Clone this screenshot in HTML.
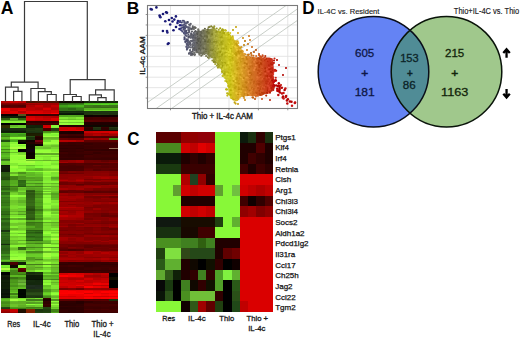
<!DOCTYPE html>
<html><head><meta charset="utf-8"><style>
html,body{margin:0;padding:0;background:#fff;}
body{width:520px;height:338px;overflow:hidden;}
svg{display:block;font-family:"Liberation Sans",sans-serif;}
</style></head><body>
<svg width="520" height="338" viewBox="0 0 520 338">
<rect width="520" height="338" fill="#fff"/>
<g>
<g shape-rendering="crispEdges">
<rect x="1" y="101.20" width="9" height="1.45" fill="#b80000"/>
<rect x="10" y="101.20" width="8" height="1.45" fill="#ca0000"/>
<rect x="18" y="101.20" width="8" height="1.45" fill="#be0000"/>
<rect x="26" y="101.20" width="9" height="1.45" fill="#441100"/>
<rect x="35" y="101.20" width="8" height="1.45" fill="#4c1300"/>
<rect x="43" y="101.20" width="8" height="1.45" fill="#461100"/>
<rect x="51" y="101.20" width="8" height="1.45" fill="#451100"/>
<rect x="1" y="102.60" width="9" height="1.40" fill="#860000"/>
<rect x="10" y="102.60" width="8" height="1.40" fill="#8a0000"/>
<rect x="18" y="102.60" width="8" height="1.40" fill="#7f0000"/>
<rect x="26" y="102.60" width="9" height="1.40" fill="#a90000"/>
<rect x="35" y="102.60" width="8" height="1.40" fill="#a80000"/>
<rect x="43" y="102.60" width="8" height="1.40" fill="#a10000"/>
<rect x="51" y="102.60" width="8" height="1.40" fill="#9f0000"/>
<rect x="1" y="103.95" width="9" height="1.40" fill="#700000"/>
<rect x="10" y="103.95" width="8" height="1.40" fill="#6f0000"/>
<rect x="18" y="103.95" width="8" height="1.40" fill="#710000"/>
<rect x="26" y="103.95" width="9" height="1.40" fill="#920000"/>
<rect x="35" y="103.95" width="8" height="1.40" fill="#9c0000"/>
<rect x="43" y="103.95" width="8" height="1.40" fill="#9f0000"/>
<rect x="51" y="103.95" width="8" height="1.40" fill="#a30000"/>
<rect x="1" y="105.30" width="9" height="1.55" fill="#510000"/>
<rect x="10" y="105.30" width="8" height="1.55" fill="#580000"/>
<rect x="18" y="105.30" width="8" height="1.55" fill="#500000"/>
<rect x="26" y="105.30" width="9" height="1.55" fill="#ad0000"/>
<rect x="35" y="105.30" width="8" height="1.55" fill="#c40000"/>
<rect x="43" y="105.30" width="8" height="1.55" fill="#a60000"/>
<rect x="51" y="105.30" width="8" height="1.55" fill="#c20000"/>
<rect x="1" y="106.80" width="17" height="1.55" fill="#640000"/>
<rect x="18" y="106.80" width="8" height="1.55" fill="#670000"/>
<rect x="26" y="106.80" width="9" height="1.55" fill="#b90000"/>
<rect x="35" y="106.80" width="16" height="1.55" fill="#b60000"/>
<rect x="51" y="106.80" width="8" height="1.55" fill="#b20000"/>
<rect x="1" y="108.30" width="9" height="1.53" fill="#eb0000"/>
<rect x="10" y="108.30" width="8" height="1.53" fill="#ca0000"/>
<rect x="18" y="108.30" width="8" height="1.53" fill="#d30000"/>
<rect x="26" y="108.30" width="9" height="1.53" fill="#bb0000"/>
<rect x="35" y="108.30" width="8" height="1.53" fill="#af0000"/>
<rect x="43" y="108.30" width="8" height="1.53" fill="#d70000"/>
<rect x="51" y="108.30" width="8" height="1.53" fill="#ac0000"/>
<rect x="1" y="109.78" width="9" height="1.53" fill="#ed0000"/>
<rect x="10" y="109.78" width="8" height="1.53" fill="#c50000"/>
<rect x="18" y="109.78" width="8" height="1.53" fill="#e70000"/>
<rect x="26" y="109.78" width="9" height="1.53" fill="#c10000"/>
<rect x="35" y="109.78" width="8" height="1.53" fill="#c60000"/>
<rect x="43" y="109.78" width="8" height="1.53" fill="#c10000"/>
<rect x="51" y="109.78" width="8" height="1.53" fill="#ce0000"/>
<rect x="1" y="111.25" width="9" height="1.53" fill="#d10000"/>
<rect x="10" y="111.25" width="8" height="1.53" fill="#e10000"/>
<rect x="18" y="111.25" width="8" height="1.53" fill="#b50000"/>
<rect x="26" y="111.25" width="9" height="1.53" fill="#de0000"/>
<rect x="35" y="111.25" width="8" height="1.53" fill="#d80000"/>
<rect x="43" y="111.25" width="8" height="1.53" fill="#c90000"/>
<rect x="51" y="111.25" width="8" height="1.53" fill="#d20000"/>
<rect x="1" y="112.72" width="9" height="1.53" fill="#da0000"/>
<rect x="10" y="112.72" width="16" height="1.53" fill="#d60000"/>
<rect x="26" y="112.72" width="17" height="1.53" fill="#e50000"/>
<rect x="43" y="112.72" width="8" height="1.53" fill="#dd0000"/>
<rect x="51" y="112.72" width="8" height="1.53" fill="#ff0000"/>
<rect x="1" y="114.20" width="17" height="1.85" fill="#0d0000"/>
<rect x="18" y="114.20" width="8" height="1.85" fill="#54541c"/>
<rect x="26" y="114.20" width="17" height="1.85" fill="#3b0000"/>
<rect x="43" y="114.20" width="8" height="1.85" fill="#3c0000"/>
<rect x="51" y="114.20" width="8" height="1.85" fill="#3e0000"/>
<rect x="1" y="116.00" width="9" height="1.85" fill="#102108"/>
<rect x="10" y="116.00" width="8" height="1.85" fill="#0f1e07"/>
<rect x="18" y="116.00" width="8" height="1.85" fill="#0e1c07"/>
<rect x="26" y="116.00" width="9" height="1.85" fill="#d00000"/>
<rect x="35" y="116.00" width="8" height="1.85" fill="#c20000"/>
<rect x="43" y="116.00" width="8" height="1.85" fill="#b50000"/>
<rect x="51" y="116.00" width="8" height="1.85" fill="#b00000"/>
<rect x="1" y="117.80" width="9" height="1.75" fill="#2f5a0f"/>
<rect x="10" y="117.80" width="8" height="1.75" fill="#5dae26"/>
<rect x="18" y="117.80" width="8" height="1.75" fill="#305d10"/>
<rect x="26" y="117.80" width="9" height="1.75" fill="#de0000"/>
<rect x="35" y="117.80" width="8" height="1.75" fill="#ce0000"/>
<rect x="43" y="117.80" width="8" height="1.75" fill="#c30000"/>
<rect x="51" y="117.80" width="8" height="1.75" fill="#da0000"/>
<rect x="1" y="119.50" width="9" height="1.85" fill="#5ebc22"/>
<rect x="10" y="119.50" width="16" height="1.85" fill="#58b020"/>
<rect x="26" y="119.50" width="9" height="1.85" fill="#ca0000"/>
<rect x="35" y="119.50" width="8" height="1.85" fill="#bf0000"/>
<rect x="43" y="119.50" width="8" height="1.85" fill="#d20000"/>
<rect x="51" y="119.50" width="8" height="1.85" fill="#d90000"/>
<rect x="1" y="121.30" width="9" height="1.85" fill="#89f634"/>
<rect x="10" y="121.30" width="16" height="1.85" fill="#85ef33"/>
<rect x="26" y="121.30" width="9" height="1.85" fill="#2e0000"/>
<rect x="35" y="121.30" width="8" height="1.85" fill="#2d0000"/>
<rect x="43" y="121.30" width="8" height="1.85" fill="#2e0000"/>
<rect x="51" y="121.30" width="8" height="1.85" fill="#2b0000"/>
<rect x="1" y="123.10" width="25" height="1.20" fill="#000000"/>
<rect x="26" y="123.10" width="9" height="1.20" fill="#430000"/>
<rect x="35" y="123.10" width="8" height="1.20" fill="#3d0000"/>
<rect x="43" y="123.10" width="16" height="1.20" fill="#3e0000"/>
<rect x="1" y="124.25" width="25" height="1.20" fill="#000000"/>
<rect x="26" y="124.25" width="17" height="1.20" fill="#3b0000"/>
<rect x="43" y="124.25" width="8" height="1.20" fill="#370000"/>
<rect x="51" y="124.25" width="8" height="1.20" fill="#390000"/>
<rect x="1" y="125.40" width="9" height="1.55" fill="#2f2f00"/>
<rect x="10" y="125.40" width="8" height="1.55" fill="#62bd25"/>
<rect x="18" y="125.40" width="8" height="1.55" fill="#68c828"/>
<rect x="26" y="125.40" width="9" height="1.55" fill="#122409"/>
<rect x="35" y="125.40" width="8" height="1.55" fill="#112208"/>
<rect x="43" y="125.40" width="8" height="1.55" fill="#cb0000"/>
<rect x="51" y="125.40" width="8" height="1.55" fill="#88f637"/>
<rect x="1" y="126.90" width="9" height="1.55" fill="#303000"/>
<rect x="10" y="126.90" width="8" height="1.55" fill="#6fd72b"/>
<rect x="18" y="126.90" width="8" height="1.55" fill="#6bce29"/>
<rect x="26" y="126.90" width="9" height="1.55" fill="#102008"/>
<rect x="35" y="126.90" width="8" height="1.55" fill="#122409"/>
<rect x="43" y="126.90" width="8" height="1.55" fill="#d50000"/>
<rect x="51" y="126.90" width="8" height="1.55" fill="#83ef35"/>
<rect x="1" y="128.40" width="9" height="1.25" fill="#192e0f"/>
<rect x="10" y="128.40" width="8" height="1.25" fill="#1a3010"/>
<rect x="18" y="128.40" width="8" height="1.25" fill="#1b3210"/>
<rect x="26" y="128.40" width="9" height="1.25" fill="#1f360f"/>
<rect x="35" y="128.40" width="8" height="1.25" fill="#223c11"/>
<rect x="43" y="128.40" width="8" height="1.25" fill="#460000"/>
<rect x="51" y="128.40" width="8" height="1.25" fill="#223d11"/>
<rect x="1" y="129.60" width="9" height="1.25" fill="#14250c"/>
<rect x="10" y="129.60" width="16" height="1.25" fill="#16280d"/>
<rect x="26" y="129.60" width="9" height="1.25" fill="#213a10"/>
<rect x="35" y="129.60" width="8" height="1.25" fill="#203810"/>
<rect x="43" y="129.60" width="8" height="1.25" fill="#400000"/>
<rect x="51" y="129.60" width="8" height="1.25" fill="#223c11"/>
<rect x="1" y="130.80" width="9" height="1.20" fill="#0e1c07"/>
<rect x="10" y="130.80" width="8" height="1.20" fill="#0d1b06"/>
<rect x="18" y="130.80" width="8" height="1.20" fill="#0f1f07"/>
<rect x="26" y="130.80" width="9" height="1.20" fill="#1b3311"/>
<rect x="35" y="130.80" width="8" height="1.20" fill="#1e3812"/>
<rect x="43" y="130.80" width="8" height="1.20" fill="#448916"/>
<rect x="51" y="130.80" width="8" height="1.20" fill="#448816"/>
<rect x="1" y="131.95" width="17" height="1.20" fill="#112308"/>
<rect x="18" y="131.95" width="8" height="1.20" fill="#102008"/>
<rect x="26" y="131.95" width="9" height="1.20" fill="#1b3210"/>
<rect x="35" y="131.95" width="8" height="1.20" fill="#1a3110"/>
<rect x="43" y="131.95" width="8" height="1.20" fill="#4d9a19"/>
<rect x="51" y="131.95" width="8" height="1.20" fill="#51a21b"/>
<rect x="1" y="133.10" width="9" height="1.25" fill="#45ab1b"/>
<rect x="10" y="133.10" width="8" height="1.25" fill="#46ad1b"/>
<rect x="18" y="133.10" width="8" height="1.25" fill="#48b21c"/>
<rect x="26" y="133.10" width="9" height="1.25" fill="#1a1a00"/>
<rect x="35" y="133.10" width="8" height="1.25" fill="#1c1c00"/>
<rect x="43" y="133.10" width="8" height="1.25" fill="#78e030"/>
<rect x="51" y="133.10" width="8" height="1.25" fill="#89ff37"/>
<rect x="1" y="134.30" width="9" height="1.25" fill="#3c9317"/>
<rect x="10" y="134.30" width="8" height="1.25" fill="#43a61a"/>
<rect x="18" y="134.30" width="8" height="1.25" fill="#3f9a18"/>
<rect x="26" y="134.30" width="17" height="1.25" fill="#1e1e00"/>
<rect x="43" y="134.30" width="8" height="1.25" fill="#84f634"/>
<rect x="51" y="134.30" width="8" height="1.25" fill="#81f133"/>
<rect x="1" y="135.50" width="9" height="1.55" fill="#3e7d16"/>
<rect x="10" y="135.50" width="8" height="1.55" fill="#55a022"/>
<rect x="18" y="135.50" width="8" height="1.55" fill="#58a423"/>
<rect x="26" y="135.50" width="9" height="1.55" fill="#285114"/>
<rect x="35" y="135.50" width="8" height="1.55" fill="#320000"/>
<rect x="43" y="135.50" width="8" height="1.55" fill="#9fff3c"/>
<rect x="51" y="135.50" width="8" height="1.55" fill="#9aff3b"/>
<rect x="1" y="137.00" width="9" height="1.55" fill="#5cb821"/>
<rect x="10" y="137.00" width="8" height="1.55" fill="#85f935"/>
<rect x="18" y="137.00" width="8" height="1.55" fill="#8aff37"/>
<rect x="26" y="137.00" width="9" height="1.55" fill="#1a340d"/>
<rect x="35" y="137.00" width="8" height="1.55" fill="#230000"/>
<rect x="43" y="137.00" width="8" height="1.55" fill="#68bb27"/>
<rect x="51" y="137.00" width="8" height="1.55" fill="#67b927"/>
<rect x="1" y="138.50" width="9" height="1.55" fill="#4a951b"/>
<rect x="10" y="138.50" width="8" height="1.55" fill="#63ba27"/>
<rect x="18" y="138.50" width="8" height="1.55" fill="#61b627"/>
<rect x="26" y="138.50" width="9" height="1.55" fill="#1b370d"/>
<rect x="35" y="138.50" width="8" height="1.55" fill="#250000"/>
<rect x="43" y="138.50" width="8" height="1.55" fill="#71cb2b"/>
<rect x="51" y="138.50" width="8" height="1.55" fill="#6ec62a"/>
<rect x="1" y="140.00" width="9" height="1.85" fill="#205010"/>
<rect x="10" y="140.00" width="8" height="1.85" fill="#48b01c"/>
<rect x="18" y="140.00" width="8" height="1.85" fill="#101000"/>
<rect x="26" y="140.00" width="9" height="1.85" fill="#120000"/>
<rect x="35" y="140.00" width="8" height="1.85" fill="#750010"/>
<rect x="43" y="140.00" width="8" height="1.85" fill="#74df2c"/>
<rect x="51" y="140.00" width="8" height="1.85" fill="#95ff38"/>
<rect x="1" y="141.80" width="9" height="1.85" fill="#66c528"/>
<rect x="10" y="141.80" width="8" height="1.85" fill="#89f634"/>
<rect x="18" y="141.80" width="8" height="1.85" fill="#000000"/>
<rect x="26" y="141.80" width="9" height="1.85" fill="#220000"/>
<rect x="35" y="141.80" width="8" height="1.85" fill="#470000"/>
<rect x="43" y="141.80" width="16" height="1.85" fill="#9cff3b"/>
<rect x="1" y="143.60" width="9" height="1.20" fill="#66cc22"/>
<rect x="10" y="143.60" width="8" height="1.20" fill="#9bff3b"/>
<rect x="18" y="143.60" width="8" height="1.20" fill="#9aff3a"/>
<rect x="26" y="143.60" width="9" height="1.20" fill="#0e0700"/>
<rect x="35" y="143.60" width="8" height="1.20" fill="#100000"/>
<rect x="43" y="143.60" width="8" height="1.20" fill="#85ef33"/>
<rect x="51" y="143.60" width="8" height="1.20" fill="#7ee230"/>
<rect x="1" y="144.75" width="9" height="1.20" fill="#61c220"/>
<rect x="10" y="144.75" width="8" height="1.20" fill="#92ff38"/>
<rect x="18" y="144.75" width="8" height="1.20" fill="#84ed32"/>
<rect x="26" y="144.75" width="9" height="1.20" fill="#0d0600"/>
<rect x="35" y="144.75" width="8" height="1.20" fill="#0c0000"/>
<rect x="43" y="144.75" width="8" height="1.20" fill="#74d12c"/>
<rect x="51" y="144.75" width="8" height="1.20" fill="#6cc229"/>
<rect x="1" y="145.90" width="9" height="1.55" fill="#58b120"/>
<rect x="10" y="145.90" width="8" height="1.55" fill="#91ff37"/>
<rect x="18" y="145.90" width="8" height="1.55" fill="#8eff36"/>
<rect x="26" y="145.90" width="9" height="1.55" fill="#0b0500"/>
<rect x="35" y="145.90" width="16" height="1.55" fill="#72cd2b"/>
<rect x="51" y="145.90" width="8" height="1.55" fill="#6bc029"/>
<rect x="1" y="147.40" width="9" height="1.55" fill="#67cf25"/>
<rect x="10" y="147.40" width="8" height="1.55" fill="#aaff41"/>
<rect x="18" y="147.40" width="8" height="1.55" fill="#abff41"/>
<rect x="26" y="147.40" width="9" height="1.55" fill="#0e0700"/>
<rect x="35" y="147.40" width="8" height="1.55" fill="#6ec62a"/>
<rect x="43" y="147.40" width="8" height="1.55" fill="#6abf28"/>
<rect x="51" y="147.40" width="8" height="1.55" fill="#77d62d"/>
<rect x="1" y="148.90" width="9" height="1.50" fill="#438618"/>
<rect x="10" y="148.90" width="8" height="1.50" fill="#74d12c"/>
<rect x="18" y="148.90" width="8" height="1.50" fill="#000000"/>
<rect x="26" y="148.90" width="9" height="1.50" fill="#100010"/>
<rect x="35" y="148.90" width="16" height="1.50" fill="#85f033"/>
<rect x="51" y="148.90" width="8" height="1.50" fill="#83ec32"/>
<rect x="1" y="150.35" width="9" height="1.50" fill="#5ebd22"/>
<rect x="10" y="150.35" width="8" height="1.50" fill="#8bfa35"/>
<rect x="18" y="150.35" width="8" height="1.50" fill="#000000"/>
<rect x="26" y="150.35" width="9" height="1.50" fill="#100010"/>
<rect x="35" y="150.35" width="8" height="1.50" fill="#96ff39"/>
<rect x="43" y="150.35" width="8" height="1.50" fill="#95ff39"/>
<rect x="51" y="150.35" width="8" height="1.50" fill="#86f033"/>
<rect x="1" y="151.80" width="9" height="1.47" fill="#3e8318"/>
<rect x="10" y="151.80" width="8" height="1.47" fill="#6abf28"/>
<rect x="18" y="151.80" width="8" height="1.47" fill="#68bc28"/>
<rect x="26" y="151.80" width="9" height="1.47" fill="#120000"/>
<rect x="35" y="151.80" width="8" height="1.47" fill="#94ff38"/>
<rect x="43" y="151.80" width="8" height="1.47" fill="#9dff3c"/>
<rect x="51" y="151.80" width="8" height="1.47" fill="#9aff3b"/>
<rect x="1" y="153.22" width="9" height="1.47" fill="#55b221"/>
<rect x="10" y="153.22" width="8" height="1.47" fill="#89f734"/>
<rect x="18" y="153.22" width="8" height="1.47" fill="#7cde2f"/>
<rect x="26" y="153.22" width="9" height="1.47" fill="#0a0000"/>
<rect x="35" y="153.22" width="8" height="1.47" fill="#5eaa24"/>
<rect x="43" y="153.22" width="8" height="1.47" fill="#61af25"/>
<rect x="51" y="153.22" width="8" height="1.47" fill="#5ea924"/>
<rect x="1" y="154.64" width="9" height="1.47" fill="#5bc023"/>
<rect x="10" y="154.64" width="8" height="1.47" fill="#9bff3b"/>
<rect x="18" y="154.64" width="8" height="1.47" fill="#a6ff3f"/>
<rect x="26" y="154.64" width="9" height="1.47" fill="#0f0000"/>
<rect x="35" y="154.64" width="8" height="1.47" fill="#8efe36"/>
<rect x="43" y="154.64" width="8" height="1.47" fill="#8fff36"/>
<rect x="51" y="154.64" width="8" height="1.47" fill="#8cfb35"/>
<rect x="1" y="156.06" width="9" height="1.47" fill="#5cc224"/>
<rect x="10" y="156.06" width="16" height="1.47" fill="#95ff39"/>
<rect x="26" y="156.06" width="9" height="1.47" fill="#0e0000"/>
<rect x="35" y="156.06" width="8" height="1.47" fill="#81e731"/>
<rect x="43" y="156.06" width="8" height="1.47" fill="#7de130"/>
<rect x="51" y="156.06" width="8" height="1.47" fill="#7bdd2f"/>
<rect x="1" y="157.48" width="9" height="1.47" fill="#52ac20"/>
<rect x="10" y="157.48" width="8" height="1.47" fill="#94ff38"/>
<rect x="18" y="157.48" width="8" height="1.47" fill="#91ff37"/>
<rect x="26" y="157.48" width="9" height="1.47" fill="#110000"/>
<rect x="35" y="157.48" width="8" height="1.47" fill="#8bfa35"/>
<rect x="43" y="157.48" width="8" height="1.47" fill="#85ef32"/>
<rect x="51" y="157.48" width="8" height="1.47" fill="#94ff38"/>
<rect x="1" y="158.90" width="9" height="1.25" fill="#376e19"/>
<rect x="10" y="158.90" width="8" height="1.25" fill="#96ff39"/>
<rect x="18" y="158.90" width="8" height="1.25" fill="#8bfa35"/>
<rect x="26" y="158.90" width="9" height="1.25" fill="#99ff3a"/>
<rect x="35" y="158.90" width="8" height="1.25" fill="#8eff36"/>
<rect x="43" y="158.90" width="8" height="1.25" fill="#83ec32"/>
<rect x="51" y="158.90" width="8" height="1.25" fill="#91ff37"/>
<rect x="1" y="160.10" width="9" height="1.25" fill="#41821e"/>
<rect x="10" y="160.10" width="8" height="1.25" fill="#9cff3c"/>
<rect x="18" y="160.10" width="8" height="1.25" fill="#9fff3c"/>
<rect x="26" y="160.10" width="9" height="1.25" fill="#6abf28"/>
<rect x="35" y="160.10" width="8" height="1.25" fill="#6bc029"/>
<rect x="43" y="160.10" width="8" height="1.25" fill="#65b526"/>
<rect x="51" y="160.10" width="8" height="1.25" fill="#6bc028"/>
<rect x="1" y="161.30" width="9" height="1.85" fill="#69cb28"/>
<rect x="10" y="161.30" width="8" height="1.85" fill="#9bff3b"/>
<rect x="18" y="161.30" width="8" height="1.85" fill="#9dff3c"/>
<rect x="26" y="161.30" width="9" height="1.85" fill="#a8ff40"/>
<rect x="35" y="161.30" width="8" height="1.85" fill="#8cfc35"/>
<rect x="43" y="161.30" width="8" height="1.85" fill="#98ff3a"/>
<rect x="51" y="161.30" width="8" height="1.85" fill="#88f534"/>
<rect x="1" y="163.10" width="9" height="1.85" fill="#66c527"/>
<rect x="10" y="163.10" width="8" height="1.85" fill="#83eb32"/>
<rect x="18" y="163.10" width="8" height="1.85" fill="#90ff37"/>
<rect x="26" y="163.10" width="9" height="1.85" fill="#96ff39"/>
<rect x="35" y="163.10" width="8" height="1.85" fill="#8cfb35"/>
<rect x="43" y="163.10" width="8" height="1.85" fill="#8fff37"/>
<rect x="51" y="163.10" width="8" height="1.85" fill="#7fe430"/>
<rect x="1" y="164.90" width="9" height="1.47" fill="#0e1507"/>
<rect x="10" y="164.90" width="8" height="1.47" fill="#85ef32"/>
<rect x="18" y="164.90" width="8" height="1.47" fill="#74d02c"/>
<rect x="26" y="164.90" width="9" height="1.47" fill="#65c327"/>
<rect x="35" y="164.90" width="8" height="1.47" fill="#74e12d"/>
<rect x="43" y="164.90" width="8" height="1.47" fill="#86f133"/>
<rect x="51" y="164.90" width="8" height="1.47" fill="#8cfc35"/>
<rect x="1" y="166.32" width="9" height="1.47" fill="#121c09"/>
<rect x="10" y="166.32" width="8" height="1.47" fill="#9eff3c"/>
<rect x="18" y="166.32" width="8" height="1.47" fill="#88f434"/>
<rect x="26" y="166.32" width="9" height="1.47" fill="#78e82f"/>
<rect x="35" y="166.32" width="8" height="1.47" fill="#84ff34"/>
<rect x="43" y="166.32" width="8" height="1.47" fill="#8fff36"/>
<rect x="51" y="166.32" width="8" height="1.47" fill="#99ff3a"/>
<rect x="1" y="167.74" width="9" height="1.47" fill="#111908"/>
<rect x="10" y="167.74" width="8" height="1.47" fill="#8efe36"/>
<rect x="18" y="167.74" width="8" height="1.47" fill="#85ef32"/>
<rect x="26" y="167.74" width="9" height="1.47" fill="#6ed52b"/>
<rect x="35" y="167.74" width="8" height="1.47" fill="#62be26"/>
<rect x="43" y="167.74" width="8" height="1.47" fill="#7bde2f"/>
<rect x="51" y="167.74" width="8" height="1.47" fill="#86f133"/>
<rect x="1" y="169.16" width="9" height="1.47" fill="#101808"/>
<rect x="10" y="169.16" width="8" height="1.47" fill="#8af935"/>
<rect x="18" y="169.16" width="8" height="1.47" fill="#91ff37"/>
<rect x="26" y="169.16" width="9" height="1.47" fill="#65c327"/>
<rect x="35" y="169.16" width="8" height="1.47" fill="#5fb725"/>
<rect x="43" y="169.16" width="8" height="1.47" fill="#72cd2b"/>
<rect x="51" y="169.16" width="8" height="1.47" fill="#74d02c"/>
<rect x="1" y="170.58" width="9" height="1.47" fill="#101908"/>
<rect x="10" y="170.58" width="8" height="1.47" fill="#8cfc35"/>
<rect x="18" y="170.58" width="8" height="1.47" fill="#86f133"/>
<rect x="26" y="170.58" width="9" height="1.47" fill="#83fd33"/>
<rect x="35" y="170.58" width="8" height="1.47" fill="#8bff36"/>
<rect x="43" y="170.58" width="8" height="1.47" fill="#9fff3c"/>
<rect x="51" y="170.58" width="8" height="1.47" fill="#a3ff3e"/>
<rect x="1" y="172.00" width="9" height="1.80" fill="#2b5714"/>
<rect x="10" y="172.00" width="8" height="1.80" fill="#65b526"/>
<rect x="18" y="172.00" width="8" height="1.80" fill="#4b901c"/>
<rect x="26" y="172.00" width="9" height="1.80" fill="#61bb25"/>
<rect x="35" y="172.00" width="8" height="1.80" fill="#6acc28"/>
<rect x="43" y="172.00" width="8" height="1.80" fill="#89f734"/>
<rect x="51" y="172.00" width="8" height="1.80" fill="#7ee230"/>
<rect x="1" y="173.75" width="9" height="1.80" fill="#2e5c15"/>
<rect x="10" y="173.75" width="8" height="1.80" fill="#7fe530"/>
<rect x="18" y="173.75" width="8" height="1.80" fill="#60b824"/>
<rect x="26" y="173.75" width="9" height="1.80" fill="#5eb624"/>
<rect x="35" y="173.75" width="8" height="1.80" fill="#63bf26"/>
<rect x="43" y="173.75" width="8" height="1.80" fill="#84ed32"/>
<rect x="51" y="173.75" width="8" height="1.80" fill="#80e631"/>
<rect x="1" y="175.50" width="9" height="1.55" fill="#2b5612"/>
<rect x="10" y="175.50" width="8" height="1.55" fill="#428518"/>
<rect x="18" y="175.50" width="8" height="1.55" fill="#4e961e"/>
<rect x="26" y="175.50" width="9" height="1.55" fill="#66c527"/>
<rect x="35" y="175.50" width="8" height="1.55" fill="#62be26"/>
<rect x="43" y="175.50" width="8" height="1.55" fill="#92ff37"/>
<rect x="51" y="175.50" width="8" height="1.55" fill="#72db2b"/>
<rect x="1" y="177.00" width="9" height="1.55" fill="#264c10"/>
<rect x="10" y="177.00" width="8" height="1.55" fill="#418217"/>
<rect x="18" y="177.00" width="8" height="1.55" fill="#4f991e"/>
<rect x="26" y="177.00" width="9" height="1.55" fill="#53a020"/>
<rect x="35" y="177.00" width="8" height="1.55" fill="#56a621"/>
<rect x="43" y="177.00" width="8" height="1.55" fill="#7fe430"/>
<rect x="51" y="177.00" width="8" height="1.55" fill="#56a621"/>
<rect x="1" y="178.50" width="9" height="1.55" fill="#24490f"/>
<rect x="10" y="178.50" width="8" height="1.55" fill="#418317"/>
<rect x="18" y="178.50" width="8" height="1.55" fill="#529e1f"/>
<rect x="26" y="178.50" width="9" height="1.55" fill="#59ac22"/>
<rect x="35" y="178.50" width="8" height="1.55" fill="#57a821"/>
<rect x="43" y="178.50" width="8" height="1.55" fill="#81e831"/>
<rect x="51" y="178.50" width="8" height="1.55" fill="#5eb624"/>
<rect x="1" y="180.00" width="9" height="1.45" fill="#357617"/>
<rect x="10" y="180.00" width="8" height="1.45" fill="#53a71e"/>
<rect x="18" y="180.00" width="8" height="1.45" fill="#2d6414"/>
<rect x="26" y="180.00" width="9" height="1.45" fill="#529f20"/>
<rect x="35" y="180.00" width="8" height="1.45" fill="#4f991f"/>
<rect x="43" y="180.00" width="8" height="1.45" fill="#84ec35"/>
<rect x="51" y="180.00" width="8" height="1.45" fill="#71cb2b"/>
<rect x="1" y="181.40" width="9" height="1.45" fill="#3a8119"/>
<rect x="10" y="181.40" width="8" height="1.45" fill="#55ab1f"/>
<rect x="18" y="181.40" width="8" height="1.45" fill="#2f6a15"/>
<rect x="26" y="181.40" width="9" height="1.45" fill="#66c528"/>
<rect x="35" y="181.40" width="8" height="1.45" fill="#68c928"/>
<rect x="43" y="181.40" width="8" height="1.45" fill="#88f436"/>
<rect x="51" y="181.40" width="8" height="1.45" fill="#88f534"/>
<rect x="1" y="182.80" width="9" height="1.45" fill="#397f19"/>
<rect x="10" y="182.80" width="8" height="1.45" fill="#54a91e"/>
<rect x="18" y="182.80" width="8" height="1.45" fill="#337216"/>
<rect x="26" y="182.80" width="9" height="1.45" fill="#4e971e"/>
<rect x="35" y="182.80" width="8" height="1.45" fill="#488b1c"/>
<rect x="43" y="182.80" width="8" height="1.45" fill="#6fc62c"/>
<rect x="51" y="182.80" width="8" height="1.45" fill="#65b626"/>
<rect x="1" y="184.20" width="9" height="1.45" fill="#3a8119"/>
<rect x="10" y="184.20" width="8" height="1.45" fill="#59b320"/>
<rect x="18" y="184.20" width="8" height="1.45" fill="#2f6a15"/>
<rect x="26" y="184.20" width="9" height="1.45" fill="#65c327"/>
<rect x="35" y="184.20" width="8" height="1.45" fill="#5fb825"/>
<rect x="43" y="184.20" width="8" height="1.45" fill="#84eb34"/>
<rect x="51" y="184.20" width="8" height="1.45" fill="#7bdd2f"/>
<rect x="1" y="185.60" width="9" height="1.45" fill="#285911"/>
<rect x="10" y="185.60" width="8" height="1.45" fill="#397315"/>
<rect x="18" y="185.60" width="8" height="1.45" fill="#265511"/>
<rect x="26" y="185.60" width="9" height="1.45" fill="#43821a"/>
<rect x="35" y="185.60" width="8" height="1.45" fill="#427f19"/>
<rect x="43" y="185.60" width="8" height="1.45" fill="#61ae27"/>
<rect x="51" y="185.60" width="8" height="1.45" fill="#63b226"/>
<rect x="1" y="187.00" width="9" height="1.30" fill="#337216"/>
<rect x="10" y="187.00" width="8" height="1.30" fill="#4b961b"/>
<rect x="18" y="187.00" width="8" height="1.30" fill="#6bc82a"/>
<rect x="26" y="187.00" width="9" height="1.30" fill="#5aae23"/>
<rect x="35" y="187.00" width="8" height="1.30" fill="#5db424"/>
<rect x="43" y="187.00" width="8" height="1.30" fill="#88f336"/>
<rect x="51" y="187.00" width="8" height="1.30" fill="#74d12c"/>
<rect x="1" y="188.25" width="9" height="1.30" fill="#2b6113"/>
<rect x="10" y="188.25" width="8" height="1.30" fill="#448918"/>
<rect x="18" y="188.25" width="8" height="1.30" fill="#64bc28"/>
<rect x="26" y="188.25" width="9" height="1.30" fill="#54a221"/>
<rect x="35" y="188.25" width="8" height="1.30" fill="#57a822"/>
<rect x="43" y="188.25" width="8" height="1.30" fill="#73cf2e"/>
<rect x="51" y="188.25" width="8" height="1.30" fill="#74d02c"/>
<rect x="1" y="189.50" width="9" height="1.20" fill="#397f19"/>
<rect x="10" y="189.50" width="8" height="1.20" fill="#49921a"/>
<rect x="18" y="189.50" width="8" height="1.20" fill="#6dcb2b"/>
<rect x="26" y="189.50" width="9" height="1.20" fill="#2f5c13"/>
<rect x="35" y="189.50" width="8" height="1.20" fill="#52a51e"/>
<rect x="43" y="189.50" width="8" height="1.20" fill="#8bf937"/>
<rect x="51" y="189.50" width="8" height="1.20" fill="#7adc2e"/>
<rect x="1" y="190.65" width="9" height="1.20" fill="#408e1c"/>
<rect x="10" y="190.65" width="8" height="1.20" fill="#54a91e"/>
<rect x="18" y="190.65" width="8" height="1.20" fill="#77df2f"/>
<rect x="26" y="190.65" width="9" height="1.20" fill="#294f10"/>
<rect x="35" y="190.65" width="8" height="1.20" fill="#438718"/>
<rect x="43" y="190.65" width="8" height="1.20" fill="#6bc02b"/>
<rect x="51" y="190.65" width="8" height="1.20" fill="#6fc82a"/>
<rect x="1" y="191.80" width="9" height="1.69" fill="#2d6514"/>
<rect x="10" y="191.80" width="8" height="1.69" fill="#6ec62a"/>
<rect x="18" y="191.80" width="8" height="1.69" fill="#61b526"/>
<rect x="26" y="191.80" width="9" height="1.69" fill="#336315"/>
<rect x="35" y="191.80" width="8" height="1.69" fill="#4d9a1c"/>
<rect x="43" y="191.80" width="8" height="1.69" fill="#91ff3a"/>
<rect x="51" y="191.80" width="8" height="1.69" fill="#65c226"/>
<rect x="1" y="193.44" width="9" height="1.69" fill="#2f6a15"/>
<rect x="10" y="193.44" width="8" height="1.69" fill="#78d72d"/>
<rect x="18" y="193.44" width="8" height="1.69" fill="#64bb28"/>
<rect x="26" y="193.44" width="9" height="1.69" fill="#2c5512"/>
<rect x="35" y="193.44" width="8" height="1.69" fill="#408017"/>
<rect x="43" y="193.44" width="8" height="1.69" fill="#70c82d"/>
<rect x="51" y="193.44" width="8" height="1.69" fill="#54a220"/>
<rect x="1" y="195.08" width="9" height="1.69" fill="#408f1c"/>
<rect x="10" y="195.08" width="8" height="1.69" fill="#92ff38"/>
<rect x="18" y="195.08" width="8" height="1.69" fill="#8dff38"/>
<rect x="26" y="195.08" width="9" height="1.69" fill="#2f5b13"/>
<rect x="35" y="195.08" width="8" height="1.69" fill="#48901a"/>
<rect x="43" y="195.08" width="8" height="1.69" fill="#8dfc38"/>
<rect x="51" y="195.08" width="8" height="1.69" fill="#5db323"/>
<rect x="1" y="196.72" width="9" height="1.69" fill="#357517"/>
<rect x="10" y="196.72" width="8" height="1.69" fill="#7de02f"/>
<rect x="18" y="196.72" width="8" height="1.69" fill="#6ece2c"/>
<rect x="26" y="196.72" width="9" height="1.69" fill="#2f5c13"/>
<rect x="35" y="196.72" width="8" height="1.69" fill="#448918"/>
<rect x="43" y="196.72" width="8" height="1.69" fill="#84ec34"/>
<rect x="51" y="196.72" width="8" height="1.69" fill="#5baf23"/>
<rect x="1" y="198.36" width="9" height="1.69" fill="#397f19"/>
<rect x="10" y="198.36" width="8" height="1.69" fill="#7ce02f"/>
<rect x="18" y="198.36" width="8" height="1.69" fill="#6dcc2b"/>
<rect x="26" y="198.36" width="9" height="1.69" fill="#326215"/>
<rect x="35" y="198.36" width="8" height="1.69" fill="#52a51e"/>
<rect x="43" y="198.36" width="8" height="1.69" fill="#95ff3b"/>
<rect x="51" y="198.36" width="8" height="1.69" fill="#65c226"/>
<rect x="1" y="200.00" width="9" height="1.59" fill="#367818"/>
<rect x="10" y="200.00" width="8" height="1.59" fill="#6fc82a"/>
<rect x="18" y="200.00" width="8" height="1.59" fill="#60b426"/>
<rect x="26" y="200.00" width="9" height="1.59" fill="#366916"/>
<rect x="35" y="200.00" width="8" height="1.59" fill="#4e9d1c"/>
<rect x="43" y="200.00" width="8" height="1.59" fill="#97ff3c"/>
<rect x="51" y="200.00" width="8" height="1.59" fill="#82e931"/>
<rect x="1" y="201.54" width="9" height="1.59" fill="#326f16"/>
<rect x="10" y="201.54" width="8" height="1.59" fill="#6fc82a"/>
<rect x="18" y="201.54" width="8" height="1.59" fill="#5fb126"/>
<rect x="26" y="201.54" width="9" height="1.59" fill="#346415"/>
<rect x="35" y="201.54" width="8" height="1.59" fill="#49931a"/>
<rect x="43" y="201.54" width="8" height="1.59" fill="#95ff3b"/>
<rect x="51" y="201.54" width="8" height="1.59" fill="#7ee330"/>
<rect x="1" y="203.08" width="9" height="1.59" fill="#377b18"/>
<rect x="10" y="203.08" width="8" height="1.59" fill="#72cd2b"/>
<rect x="18" y="203.08" width="8" height="1.59" fill="#6ac72a"/>
<rect x="26" y="203.08" width="9" height="1.59" fill="#376c17"/>
<rect x="35" y="203.08" width="8" height="1.59" fill="#4e9d1c"/>
<rect x="43" y="203.08" width="8" height="1.59" fill="#87f236"/>
<rect x="51" y="203.08" width="8" height="1.59" fill="#89f634"/>
<rect x="1" y="204.62" width="9" height="1.59" fill="#357717"/>
<rect x="10" y="204.62" width="8" height="1.59" fill="#7adb2e"/>
<rect x="18" y="204.62" width="8" height="1.59" fill="#6cca2b"/>
<rect x="26" y="204.62" width="9" height="1.59" fill="#386c17"/>
<rect x="35" y="204.62" width="8" height="1.59" fill="#51a31d"/>
<rect x="43" y="204.62" width="8" height="1.59" fill="#97ff3c"/>
<rect x="51" y="204.62" width="8" height="1.59" fill="#81e831"/>
<rect x="1" y="206.15" width="9" height="1.59" fill="#408e1c"/>
<rect x="10" y="206.15" width="8" height="1.59" fill="#7de12f"/>
<rect x="18" y="206.15" width="8" height="1.59" fill="#7de932"/>
<rect x="26" y="206.15" width="9" height="1.59" fill="#305d14"/>
<rect x="35" y="206.15" width="8" height="1.59" fill="#48901a"/>
<rect x="43" y="206.15" width="8" height="1.59" fill="#91ff3a"/>
<rect x="51" y="206.15" width="8" height="1.59" fill="#7cdf2f"/>
<rect x="1" y="207.69" width="9" height="1.59" fill="#398019"/>
<rect x="10" y="207.69" width="8" height="1.59" fill="#7cdf2f"/>
<rect x="18" y="207.69" width="8" height="1.59" fill="#6dcc2b"/>
<rect x="26" y="207.69" width="9" height="1.59" fill="#2c5612"/>
<rect x="35" y="207.69" width="8" height="1.59" fill="#4b961b"/>
<rect x="43" y="207.69" width="8" height="1.59" fill="#86ef35"/>
<rect x="51" y="207.69" width="8" height="1.59" fill="#73ce2b"/>
<rect x="1" y="209.23" width="9" height="1.59" fill="#377a18"/>
<rect x="10" y="209.23" width="8" height="1.59" fill="#72cc2b"/>
<rect x="18" y="209.23" width="8" height="1.59" fill="#6fcf2c"/>
<rect x="26" y="209.23" width="9" height="1.59" fill="#264a0f"/>
<rect x="35" y="209.23" width="8" height="1.59" fill="#397315"/>
<rect x="43" y="209.23" width="8" height="1.59" fill="#70c82c"/>
<rect x="51" y="209.23" width="8" height="1.59" fill="#63b226"/>
<rect x="1" y="210.77" width="9" height="1.59" fill="#2f6915"/>
<rect x="10" y="210.77" width="8" height="1.59" fill="#67b927"/>
<rect x="18" y="210.77" width="8" height="1.59" fill="#56a022"/>
<rect x="26" y="210.77" width="9" height="1.59" fill="#305e14"/>
<rect x="35" y="210.77" width="8" height="1.59" fill="#478e19"/>
<rect x="43" y="210.77" width="8" height="1.59" fill="#86f035"/>
<rect x="51" y="210.77" width="8" height="1.59" fill="#7cde2f"/>
<rect x="1" y="212.31" width="9" height="1.59" fill="#316d15"/>
<rect x="10" y="212.31" width="8" height="1.59" fill="#7bdd2f"/>
<rect x="18" y="212.31" width="8" height="1.59" fill="#6ac62a"/>
<rect x="26" y="212.31" width="9" height="1.59" fill="#2f5b13"/>
<rect x="35" y="212.31" width="8" height="1.59" fill="#4a941a"/>
<rect x="43" y="212.31" width="8" height="1.59" fill="#95ff3b"/>
<rect x="51" y="212.31" width="8" height="1.59" fill="#71cc2b"/>
<rect x="1" y="213.85" width="9" height="1.59" fill="#295b12"/>
<rect x="10" y="213.85" width="8" height="1.59" fill="#67b927"/>
<rect x="18" y="213.85" width="8" height="1.59" fill="#519720"/>
<rect x="26" y="213.85" width="9" height="1.59" fill="#356716"/>
<rect x="35" y="213.85" width="8" height="1.59" fill="#56ad1f"/>
<rect x="43" y="213.85" width="8" height="1.59" fill="#a0ff40"/>
<rect x="51" y="213.85" width="8" height="1.59" fill="#8cfc35"/>
<rect x="1" y="215.38" width="9" height="1.59" fill="#377c18"/>
<rect x="10" y="215.38" width="8" height="1.59" fill="#80e631"/>
<rect x="18" y="215.38" width="8" height="1.59" fill="#79e230"/>
<rect x="26" y="215.38" width="9" height="1.59" fill="#326215"/>
<rect x="35" y="215.38" width="8" height="1.59" fill="#4a941b"/>
<rect x="43" y="215.38" width="8" height="1.59" fill="#8bf937"/>
<rect x="51" y="215.38" width="8" height="1.59" fill="#80e530"/>
<rect x="1" y="216.92" width="9" height="1.59" fill="#3e891b"/>
<rect x="10" y="216.92" width="8" height="1.59" fill="#8fff36"/>
<rect x="18" y="216.92" width="8" height="1.59" fill="#8cff38"/>
<rect x="26" y="216.92" width="9" height="1.59" fill="#315f14"/>
<rect x="35" y="216.92" width="8" height="1.59" fill="#4f9e1c"/>
<rect x="43" y="216.92" width="8" height="1.59" fill="#7fe232"/>
<rect x="51" y="216.92" width="8" height="1.59" fill="#80e531"/>
<rect x="1" y="218.46" width="9" height="1.59" fill="#2a5f13"/>
<rect x="10" y="218.46" width="8" height="1.59" fill="#63b226"/>
<rect x="18" y="218.46" width="8" height="1.59" fill="#59a623"/>
<rect x="26" y="218.46" width="9" height="1.59" fill="#2b5412"/>
<rect x="35" y="218.46" width="8" height="1.59" fill="#418317"/>
<rect x="43" y="218.46" width="8" height="1.59" fill="#75d22f"/>
<rect x="51" y="218.46" width="8" height="1.59" fill="#79d92e"/>
<rect x="1" y="220.00" width="9" height="1.63" fill="#37781b"/>
<rect x="10" y="220.00" width="8" height="1.63" fill="#86f133"/>
<rect x="18" y="220.00" width="8" height="1.63" fill="#84ed32"/>
<rect x="26" y="220.00" width="9" height="1.63" fill="#53a71e"/>
<rect x="35" y="220.00" width="8" height="1.63" fill="#59b320"/>
<rect x="43" y="220.00" width="8" height="1.63" fill="#8bfa35"/>
<rect x="51" y="220.00" width="8" height="1.63" fill="#81e831"/>
<rect x="1" y="221.58" width="9" height="1.63" fill="#2f6517"/>
<rect x="10" y="221.58" width="8" height="1.63" fill="#83ec32"/>
<rect x="18" y="221.58" width="8" height="1.63" fill="#79da2e"/>
<rect x="26" y="221.58" width="9" height="1.63" fill="#387014"/>
<rect x="35" y="221.58" width="8" height="1.63" fill="#397314"/>
<rect x="43" y="221.58" width="8" height="1.63" fill="#5ea924"/>
<rect x="51" y="221.58" width="8" height="1.63" fill="#5da723"/>
<rect x="1" y="223.17" width="9" height="1.63" fill="#2b5e15"/>
<rect x="10" y="223.17" width="8" height="1.63" fill="#70c92a"/>
<rect x="18" y="223.17" width="8" height="1.63" fill="#6ec52a"/>
<rect x="26" y="223.17" width="9" height="1.63" fill="#3e7d16"/>
<rect x="35" y="223.17" width="8" height="1.63" fill="#448818"/>
<rect x="43" y="223.17" width="8" height="1.63" fill="#7bdd2f"/>
<rect x="51" y="223.17" width="8" height="1.63" fill="#6ec62a"/>
<rect x="1" y="224.75" width="9" height="1.63" fill="#2d6216"/>
<rect x="10" y="224.75" width="8" height="1.63" fill="#72cc2b"/>
<rect x="18" y="224.75" width="8" height="1.63" fill="#7adb2e"/>
<rect x="26" y="224.75" width="17" height="1.63" fill="#448818"/>
<rect x="43" y="224.75" width="8" height="1.63" fill="#75d22c"/>
<rect x="51" y="224.75" width="8" height="1.63" fill="#6abe28"/>
<rect x="1" y="226.33" width="9" height="1.63" fill="#326d19"/>
<rect x="10" y="226.33" width="8" height="1.63" fill="#86f133"/>
<rect x="18" y="226.33" width="8" height="1.63" fill="#78d92e"/>
<rect x="26" y="226.33" width="9" height="1.63" fill="#54a91e"/>
<rect x="35" y="226.33" width="8" height="1.63" fill="#448919"/>
<rect x="43" y="226.33" width="8" height="1.63" fill="#7de130"/>
<rect x="51" y="226.33" width="8" height="1.63" fill="#75d22c"/>
<rect x="1" y="227.92" width="9" height="1.63" fill="#2d6316"/>
<rect x="10" y="227.92" width="8" height="1.63" fill="#66b827"/>
<rect x="18" y="227.92" width="8" height="1.63" fill="#70c92a"/>
<rect x="26" y="227.92" width="9" height="1.63" fill="#48901a"/>
<rect x="35" y="227.92" width="8" height="1.63" fill="#49931a"/>
<rect x="43" y="227.92" width="8" height="1.63" fill="#7de02f"/>
<rect x="51" y="227.92" width="8" height="1.63" fill="#86f233"/>
<rect x="1" y="229.50" width="9" height="1.20" fill="#1a3511"/>
<rect x="10" y="229.50" width="8" height="1.20" fill="#7adc2e"/>
<rect x="18" y="229.50" width="8" height="1.20" fill="#7cdf2f"/>
<rect x="26" y="229.50" width="9" height="1.20" fill="#2a5e12"/>
<rect x="35" y="229.50" width="8" height="1.20" fill="#295b12"/>
<rect x="43" y="229.50" width="8" height="1.20" fill="#74d02c"/>
<rect x="51" y="229.50" width="8" height="1.20" fill="#72cc2b"/>
<rect x="1" y="230.65" width="9" height="1.20" fill="#1c3913"/>
<rect x="10" y="230.65" width="8" height="1.20" fill="#9bff3b"/>
<rect x="18" y="230.65" width="8" height="1.20" fill="#8dfd35"/>
<rect x="26" y="230.65" width="9" height="1.20" fill="#347417"/>
<rect x="35" y="230.65" width="8" height="1.20" fill="#306c15"/>
<rect x="43" y="230.65" width="8" height="1.20" fill="#89f634"/>
<rect x="51" y="230.65" width="8" height="1.20" fill="#88f434"/>
<rect x="1" y="231.80" width="9" height="1.25" fill="#337019"/>
<rect x="10" y="231.80" width="8" height="1.25" fill="#88f534"/>
<rect x="18" y="231.80" width="8" height="1.25" fill="#8bfa35"/>
<rect x="26" y="231.80" width="9" height="1.25" fill="#2a5e12"/>
<rect x="35" y="231.80" width="8" height="1.25" fill="#265511"/>
<rect x="43" y="231.80" width="8" height="1.25" fill="#8fff36"/>
<rect x="51" y="231.80" width="8" height="1.25" fill="#76d32d"/>
<rect x="1" y="233.00" width="9" height="1.25" fill="#2c6016"/>
<rect x="10" y="233.00" width="8" height="1.25" fill="#79da2e"/>
<rect x="18" y="233.00" width="8" height="1.25" fill="#6cc229"/>
<rect x="26" y="233.00" width="9" height="1.25" fill="#306b15"/>
<rect x="35" y="233.00" width="8" height="1.25" fill="#2d6614"/>
<rect x="43" y="233.00" width="8" height="1.25" fill="#9aff3b"/>
<rect x="51" y="233.00" width="8" height="1.25" fill="#82ea31"/>
<rect x="1" y="234.20" width="9" height="1.47" fill="#336f19"/>
<rect x="10" y="234.20" width="8" height="1.47" fill="#8af734"/>
<rect x="18" y="234.20" width="8" height="1.47" fill="#90ff37"/>
<rect x="26" y="234.20" width="9" height="1.47" fill="#367918"/>
<rect x="35" y="234.20" width="8" height="1.47" fill="#367818"/>
<rect x="43" y="234.20" width="8" height="1.47" fill="#7ff531"/>
<rect x="51" y="234.20" width="8" height="1.47" fill="#9aff3a"/>
<rect x="1" y="235.62" width="9" height="1.47" fill="#2d6316"/>
<rect x="10" y="235.62" width="8" height="1.47" fill="#72cc2b"/>
<rect x="18" y="235.62" width="8" height="1.47" fill="#71cc2b"/>
<rect x="26" y="235.62" width="9" height="1.47" fill="#2b5f13"/>
<rect x="35" y="235.62" width="8" height="1.47" fill="#316e16"/>
<rect x="43" y="235.62" width="8" height="1.47" fill="#65c226"/>
<rect x="51" y="235.62" width="8" height="1.47" fill="#7cdf2f"/>
<rect x="1" y="237.04" width="9" height="1.47" fill="#306818"/>
<rect x="10" y="237.04" width="8" height="1.47" fill="#74d12c"/>
<rect x="18" y="237.04" width="8" height="1.47" fill="#7cde2f"/>
<rect x="26" y="237.04" width="9" height="1.47" fill="#316e16"/>
<rect x="35" y="237.04" width="8" height="1.47" fill="#2f6a15"/>
<rect x="43" y="237.04" width="8" height="1.47" fill="#6cd029"/>
<rect x="51" y="237.04" width="8" height="1.47" fill="#81e731"/>
<rect x="1" y="238.46" width="9" height="1.47" fill="#2e6417"/>
<rect x="10" y="238.46" width="8" height="1.47" fill="#7de02f"/>
<rect x="18" y="238.46" width="8" height="1.47" fill="#81e731"/>
<rect x="26" y="238.46" width="9" height="1.47" fill="#3a8119"/>
<rect x="35" y="238.46" width="8" height="1.47" fill="#367818"/>
<rect x="43" y="238.46" width="8" height="1.47" fill="#79e92e"/>
<rect x="51" y="238.46" width="8" height="1.47" fill="#a6ff3f"/>
<rect x="1" y="239.88" width="9" height="1.47" fill="#2b5d15"/>
<rect x="10" y="239.88" width="8" height="1.47" fill="#6bc129"/>
<rect x="18" y="239.88" width="8" height="1.47" fill="#61af25"/>
<rect x="26" y="239.88" width="9" height="1.47" fill="#2a5d12"/>
<rect x="35" y="239.88" width="8" height="1.47" fill="#2e6614"/>
<rect x="43" y="239.88" width="8" height="1.47" fill="#64c026"/>
<rect x="51" y="239.88" width="8" height="1.47" fill="#7bdd2f"/>
<rect x="1" y="241.30" width="9" height="1.25" fill="#2d6216"/>
<rect x="10" y="241.30" width="8" height="1.25" fill="#71cb2b"/>
<rect x="18" y="241.30" width="8" height="1.25" fill="#81e831"/>
<rect x="26" y="241.30" width="9" height="1.25" fill="#58aa22"/>
<rect x="35" y="241.30" width="8" height="1.25" fill="#56a521"/>
<rect x="43" y="241.30" width="8" height="1.25" fill="#5fb724"/>
<rect x="51" y="241.30" width="8" height="1.25" fill="#83eb32"/>
<rect x="1" y="242.50" width="9" height="1.25" fill="#295914"/>
<rect x="10" y="242.50" width="8" height="1.25" fill="#68ba27"/>
<rect x="18" y="242.50" width="8" height="1.25" fill="#69bd28"/>
<rect x="26" y="242.50" width="9" height="1.25" fill="#488b1b"/>
<rect x="35" y="242.50" width="8" height="1.25" fill="#427f19"/>
<rect x="43" y="242.50" width="8" height="1.25" fill="#55a420"/>
<rect x="51" y="242.50" width="8" height="1.25" fill="#6abf28"/>
<rect x="1" y="243.70" width="9" height="1.75" fill="#162c0e"/>
<rect x="10" y="243.70" width="8" height="1.75" fill="#6abe28"/>
<rect x="18" y="243.70" width="8" height="1.75" fill="#73ce2b"/>
<rect x="26" y="243.70" width="9" height="1.75" fill="#62be26"/>
<rect x="35" y="243.70" width="8" height="1.75" fill="#61bb25"/>
<rect x="43" y="243.70" width="8" height="1.75" fill="#a0ff3d"/>
<rect x="51" y="243.70" width="8" height="1.75" fill="#7fe530"/>
<rect x="1" y="245.40" width="9" height="1.65" fill="#306918"/>
<rect x="10" y="245.40" width="16" height="1.65" fill="#89f634"/>
<rect x="26" y="245.40" width="9" height="1.65" fill="#60b925"/>
<rect x="35" y="245.40" width="8" height="1.65" fill="#63be26"/>
<rect x="43" y="245.40" width="8" height="1.65" fill="#94ff38"/>
<rect x="51" y="245.40" width="8" height="1.65" fill="#8fff36"/>
<rect x="1" y="247.00" width="9" height="1.30" fill="#2f6617"/>
<rect x="10" y="247.00" width="8" height="1.30" fill="#76d42d"/>
<rect x="18" y="247.00" width="8" height="1.30" fill="#2e5913"/>
<rect x="26" y="247.00" width="9" height="1.30" fill="#438119"/>
<rect x="35" y="247.00" width="8" height="1.30" fill="#47881b"/>
<rect x="43" y="247.00" width="8" height="1.30" fill="#5aa222"/>
<rect x="51" y="247.00" width="8" height="1.30" fill="#589e21"/>
<rect x="1" y="248.25" width="9" height="1.30" fill="#2c5f16"/>
<rect x="10" y="248.25" width="8" height="1.30" fill="#6abe28"/>
<rect x="18" y="248.25" width="8" height="1.30" fill="#336315"/>
<rect x="26" y="248.25" width="9" height="1.30" fill="#5eb524"/>
<rect x="35" y="248.25" width="8" height="1.30" fill="#63bf26"/>
<rect x="43" y="248.25" width="8" height="1.30" fill="#a2ff3e"/>
<rect x="51" y="248.25" width="8" height="1.30" fill="#81e731"/>
<rect x="1" y="249.50" width="9" height="1.55" fill="#2d6116"/>
<rect x="10" y="249.50" width="8" height="1.55" fill="#76d52d"/>
<rect x="18" y="249.50" width="8" height="1.55" fill="#73cf2c"/>
<rect x="26" y="249.50" width="9" height="1.55" fill="#72db2b"/>
<rect x="35" y="249.50" width="8" height="1.55" fill="#67c627"/>
<rect x="43" y="249.50" width="8" height="1.55" fill="#9aff3b"/>
<rect x="51" y="249.50" width="8" height="1.55" fill="#8cfc35"/>
<rect x="1" y="251.00" width="9" height="1.55" fill="#316b18"/>
<rect x="10" y="251.00" width="8" height="1.55" fill="#85ef32"/>
<rect x="18" y="251.00" width="8" height="1.55" fill="#78d82e"/>
<rect x="26" y="251.00" width="9" height="1.55" fill="#46871b"/>
<rect x="35" y="251.00" width="8" height="1.55" fill="#46861a"/>
<rect x="43" y="251.00" width="8" height="1.55" fill="#68bb27"/>
<rect x="51" y="251.00" width="8" height="1.55" fill="#6ec72a"/>
<rect x="1" y="252.50" width="9" height="1.55" fill="#326d19"/>
<rect x="10" y="252.50" width="8" height="1.55" fill="#86f133"/>
<rect x="18" y="252.50" width="8" height="1.55" fill="#83ec32"/>
<rect x="26" y="252.50" width="9" height="1.55" fill="#5cb223"/>
<rect x="35" y="252.50" width="8" height="1.55" fill="#5eb524"/>
<rect x="43" y="252.50" width="8" height="1.55" fill="#9fff3d"/>
<rect x="51" y="252.50" width="8" height="1.55" fill="#8bf935"/>
<rect x="1" y="254.00" width="9" height="1.55" fill="#429121"/>
<rect x="10" y="254.00" width="8" height="1.55" fill="#90ff37"/>
<rect x="18" y="254.00" width="8" height="1.55" fill="#8cfb35"/>
<rect x="26" y="254.00" width="9" height="1.55" fill="#6acc28"/>
<rect x="35" y="254.00" width="8" height="1.55" fill="#6acd29"/>
<rect x="43" y="254.00" width="8" height="1.55" fill="#a0ff3d"/>
<rect x="51" y="254.00" width="8" height="1.55" fill="#8eff36"/>
<rect x="1" y="255.50" width="9" height="1.55" fill="#34721a"/>
<rect x="10" y="255.50" width="8" height="1.55" fill="#83ec32"/>
<rect x="18" y="255.50" width="8" height="1.55" fill="#8dfd36"/>
<rect x="26" y="255.50" width="9" height="1.55" fill="#6bcf29"/>
<rect x="35" y="255.50" width="8" height="1.55" fill="#6bce29"/>
<rect x="43" y="255.50" width="8" height="1.55" fill="#a9ff40"/>
<rect x="51" y="255.50" width="8" height="1.55" fill="#87f333"/>
<rect x="1" y="257.00" width="9" height="1.55" fill="#3d841e"/>
<rect x="10" y="257.00" width="8" height="1.55" fill="#9aff3b"/>
<rect x="18" y="257.00" width="8" height="1.55" fill="#9bff3b"/>
<rect x="26" y="257.00" width="9" height="1.55" fill="#529e1f"/>
<rect x="35" y="257.00" width="8" height="1.55" fill="#60b824"/>
<rect x="43" y="257.00" width="8" height="1.55" fill="#8af734"/>
<rect x="51" y="257.00" width="8" height="1.55" fill="#7de02f"/>
<rect x="1" y="258.50" width="9" height="1.55" fill="#469823"/>
<rect x="10" y="258.50" width="8" height="1.55" fill="#abff41"/>
<rect x="18" y="258.50" width="8" height="1.55" fill="#9fff3d"/>
<rect x="26" y="258.50" width="9" height="1.55" fill="#529d1f"/>
<rect x="35" y="258.50" width="8" height="1.55" fill="#44841a"/>
<rect x="43" y="258.50" width="8" height="1.55" fill="#72cd2b"/>
<rect x="51" y="258.50" width="8" height="1.55" fill="#68ba27"/>
<rect x="1" y="260.00" width="9" height="1.25" fill="#60c023"/>
<rect x="10" y="260.00" width="8" height="1.25" fill="#52a41d"/>
<rect x="18" y="260.00" width="8" height="1.25" fill="#4c981b"/>
<rect x="26" y="260.00" width="9" height="1.25" fill="#60ad24"/>
<rect x="35" y="260.00" width="8" height="1.25" fill="#68ba27"/>
<rect x="43" y="260.00" width="8" height="1.25" fill="#70c92b"/>
<rect x="51" y="260.00" width="8" height="1.25" fill="#70c92a"/>
<rect x="1" y="261.20" width="9" height="1.25" fill="#52a51e"/>
<rect x="10" y="261.20" width="8" height="1.25" fill="#4d9a1c"/>
<rect x="18" y="261.20" width="8" height="1.25" fill="#54a81e"/>
<rect x="26" y="261.20" width="9" height="1.25" fill="#69bd28"/>
<rect x="35" y="261.20" width="8" height="1.25" fill="#76d42d"/>
<rect x="43" y="261.20" width="8" height="1.25" fill="#7bdc2f"/>
<rect x="51" y="261.20" width="8" height="1.25" fill="#75d32d"/>
<rect x="1" y="262.40" width="9" height="1.20" fill="#112308"/>
<rect x="10" y="262.40" width="8" height="1.20" fill="#490000"/>
<rect x="18" y="262.40" width="8" height="1.20" fill="#0f1f07"/>
<rect x="26" y="262.40" width="9" height="1.20" fill="#78d82e"/>
<rect x="35" y="262.40" width="8" height="1.20" fill="#74d02c"/>
<rect x="43" y="262.40" width="8" height="1.20" fill="#97ff39"/>
<rect x="51" y="262.40" width="8" height="1.20" fill="#7fe530"/>
<rect x="1" y="263.55" width="9" height="1.20" fill="#112208"/>
<rect x="10" y="263.55" width="8" height="1.20" fill="#430000"/>
<rect x="18" y="263.55" width="8" height="1.20" fill="#102008"/>
<rect x="26" y="263.55" width="9" height="1.20" fill="#467d1a"/>
<rect x="35" y="263.55" width="8" height="1.20" fill="#447a1a"/>
<rect x="43" y="263.55" width="8" height="1.20" fill="#52931f"/>
<rect x="51" y="263.55" width="8" height="1.20" fill="#4f8f1e"/>
<rect x="1" y="264.70" width="9" height="1.85" fill="#7cf030"/>
<rect x="10" y="264.70" width="8" height="1.85" fill="#110800"/>
<rect x="18" y="264.70" width="8" height="1.85" fill="#8fff37"/>
<rect x="26" y="264.70" width="9" height="1.85" fill="#68bb27"/>
<rect x="35" y="264.70" width="8" height="1.85" fill="#72cd2b"/>
<rect x="43" y="264.70" width="8" height="1.85" fill="#8dfd36"/>
<rect x="51" y="264.70" width="8" height="1.85" fill="#72ce2b"/>
<rect x="1" y="266.50" width="9" height="1.85" fill="#74e02c"/>
<rect x="10" y="266.50" width="8" height="1.85" fill="#150a00"/>
<rect x="18" y="266.50" width="8" height="1.85" fill="#8dfd36"/>
<rect x="26" y="266.50" width="9" height="1.85" fill="#61ae25"/>
<rect x="35" y="266.50" width="8" height="1.85" fill="#579c21"/>
<rect x="43" y="266.50" width="8" height="1.85" fill="#6ec62a"/>
<rect x="51" y="266.50" width="8" height="1.85" fill="#61af25"/>
<rect x="1" y="268.30" width="9" height="1.80" fill="#b1ff43"/>
<rect x="10" y="268.30" width="8" height="1.80" fill="#56ad1f"/>
<rect x="18" y="268.30" width="8" height="1.80" fill="#5e0000"/>
<rect x="26" y="268.30" width="9" height="1.80" fill="#62af25"/>
<rect x="35" y="268.30" width="8" height="1.80" fill="#6abf28"/>
<rect x="43" y="268.30" width="8" height="1.80" fill="#76dd2f"/>
<rect x="51" y="268.30" width="8" height="1.80" fill="#66be28"/>
<rect x="1" y="270.05" width="9" height="1.80" fill="#76d42d"/>
<rect x="10" y="270.05" width="8" height="1.80" fill="#438618"/>
<rect x="18" y="270.05" width="8" height="1.80" fill="#450000"/>
<rect x="26" y="270.05" width="9" height="1.80" fill="#73cf2c"/>
<rect x="35" y="270.05" width="8" height="1.80" fill="#87f333"/>
<rect x="43" y="270.05" width="8" height="1.80" fill="#84f734"/>
<rect x="51" y="270.05" width="8" height="1.80" fill="#69c42a"/>
<rect x="1" y="271.80" width="9" height="1.85" fill="#000000"/>
<rect x="10" y="271.80" width="8" height="1.85" fill="#428416"/>
<rect x="18" y="271.80" width="8" height="1.85" fill="#478e17"/>
<rect x="26" y="271.80" width="9" height="1.85" fill="#17290b"/>
<rect x="35" y="271.80" width="8" height="1.85" fill="#1a2f0d"/>
<rect x="43" y="271.80" width="8" height="1.85" fill="#60b925"/>
<rect x="51" y="271.80" width="8" height="1.85" fill="#55a420"/>
<rect x="1" y="273.60" width="9" height="1.85" fill="#000000"/>
<rect x="10" y="273.60" width="8" height="1.85" fill="#408115"/>
<rect x="18" y="273.60" width="8" height="1.85" fill="#3b7613"/>
<rect x="26" y="273.60" width="9" height="1.85" fill="#1c320e"/>
<rect x="35" y="273.60" width="8" height="1.85" fill="#1e350f"/>
<rect x="43" y="273.60" width="8" height="1.85" fill="#75e22d"/>
<rect x="51" y="273.60" width="8" height="1.85" fill="#6ed42a"/>
<rect x="1" y="275.40" width="9" height="1.62" fill="#111a08"/>
<rect x="10" y="275.40" width="8" height="1.62" fill="#5cb821"/>
<rect x="18" y="275.40" width="8" height="1.62" fill="#5ab521"/>
<rect x="26" y="275.40" width="9" height="1.62" fill="#0c1906"/>
<rect x="35" y="275.40" width="8" height="1.62" fill="#0d1a06"/>
<rect x="43" y="275.40" width="8" height="1.62" fill="#57a821"/>
<rect x="51" y="275.40" width="8" height="1.62" fill="#58a921"/>
<rect x="1" y="276.97" width="9" height="1.62" fill="#0d1306"/>
<rect x="10" y="276.97" width="8" height="1.62" fill="#397214"/>
<rect x="18" y="276.97" width="8" height="1.62" fill="#418317"/>
<rect x="26" y="276.97" width="17" height="1.62" fill="#0c1906"/>
<rect x="43" y="276.97" width="8" height="1.62" fill="#60ba25"/>
<rect x="51" y="276.97" width="8" height="1.62" fill="#5eb524"/>
<rect x="1" y="278.53" width="9" height="1.62" fill="#0e1607"/>
<rect x="10" y="278.53" width="8" height="1.62" fill="#478f1a"/>
<rect x="18" y="278.53" width="8" height="1.62" fill="#4a951b"/>
<rect x="26" y="278.53" width="9" height="1.62" fill="#0a1405"/>
<rect x="35" y="278.53" width="8" height="1.62" fill="#091204"/>
<rect x="43" y="278.53" width="8" height="1.62" fill="#4c931d"/>
<rect x="51" y="278.53" width="8" height="1.62" fill="#46871b"/>
<rect x="1" y="280.10" width="9" height="1.68" fill="#102008"/>
<rect x="10" y="280.10" width="8" height="1.68" fill="#4c981b"/>
<rect x="18" y="280.10" width="8" height="1.68" fill="#63a931"/>
<rect x="26" y="280.10" width="9" height="1.68" fill="#152b0e"/>
<rect x="35" y="280.10" width="8" height="1.68" fill="#13270d"/>
<rect x="43" y="280.10" width="8" height="1.68" fill="#89f634"/>
<rect x="51" y="280.10" width="8" height="1.68" fill="#78d72d"/>
<rect x="1" y="281.73" width="9" height="1.68" fill="#0d1b06"/>
<rect x="10" y="281.73" width="8" height="1.68" fill="#49921a"/>
<rect x="18" y="281.73" width="8" height="1.68" fill="#56932b"/>
<rect x="26" y="281.73" width="17" height="1.68" fill="#14280d"/>
<rect x="43" y="281.73" width="8" height="1.68" fill="#81e731"/>
<rect x="51" y="281.73" width="8" height="1.68" fill="#64b326"/>
<rect x="1" y="283.37" width="9" height="1.68" fill="#0f1e07"/>
<rect x="10" y="283.37" width="8" height="1.68" fill="#51a21d"/>
<rect x="18" y="283.37" width="8" height="1.68" fill="#6ebc37"/>
<rect x="26" y="283.37" width="9" height="1.68" fill="#13270d"/>
<rect x="35" y="283.37" width="8" height="1.68" fill="#14280d"/>
<rect x="43" y="283.37" width="8" height="1.68" fill="#8fff36"/>
<rect x="51" y="283.37" width="8" height="1.68" fill="#72cd2b"/>
<rect x="1" y="285.00" width="9" height="1.80" fill="#0e1d07"/>
<rect x="10" y="285.00" width="8" height="1.80" fill="#48911a"/>
<rect x="18" y="285.00" width="8" height="1.80" fill="#54a120"/>
<rect x="26" y="285.00" width="9" height="1.80" fill="#1f2f1f"/>
<rect x="35" y="285.00" width="8" height="1.80" fill="#1d2b1d"/>
<rect x="43" y="285.00" width="8" height="1.80" fill="#65c226"/>
<rect x="51" y="285.00" width="8" height="1.80" fill="#80e631"/>
<rect x="1" y="286.75" width="9" height="1.80" fill="#0f1f07"/>
<rect x="10" y="286.75" width="8" height="1.80" fill="#57ae1f"/>
<rect x="18" y="286.75" width="8" height="1.80" fill="#61ba25"/>
<rect x="26" y="286.75" width="9" height="1.80" fill="#1c2a1c"/>
<rect x="35" y="286.75" width="8" height="1.80" fill="#1e2e1e"/>
<rect x="43" y="286.75" width="8" height="1.80" fill="#6ccf29"/>
<rect x="51" y="286.75" width="8" height="1.80" fill="#7ee330"/>
<rect x="1" y="288.50" width="9" height="1.58" fill="#0a1508"/>
<rect x="10" y="288.50" width="8" height="1.58" fill="#51a21d"/>
<rect x="18" y="288.50" width="8" height="1.58" fill="#000700"/>
<rect x="26" y="288.50" width="9" height="1.58" fill="#1f3812"/>
<rect x="35" y="288.50" width="8" height="1.58" fill="#203812"/>
<rect x="43" y="288.50" width="8" height="1.58" fill="#51a31d"/>
<rect x="51" y="288.50" width="8" height="1.58" fill="#66b727"/>
<rect x="1" y="290.03" width="9" height="1.58" fill="#0b1609"/>
<rect x="10" y="290.03" width="8" height="1.58" fill="#5bb621"/>
<rect x="18" y="290.03" width="8" height="1.58" fill="#000700"/>
<rect x="26" y="290.03" width="9" height="1.58" fill="#1e3611"/>
<rect x="35" y="290.03" width="8" height="1.58" fill="#1f3611"/>
<rect x="43" y="290.03" width="8" height="1.58" fill="#50a01d"/>
<rect x="51" y="290.03" width="8" height="1.58" fill="#6abe28"/>
<rect x="1" y="291.57" width="9" height="1.58" fill="#0c1809"/>
<rect x="10" y="291.57" width="8" height="1.58" fill="#66cc25"/>
<rect x="18" y="291.57" width="8" height="1.58" fill="#000800"/>
<rect x="26" y="291.57" width="9" height="1.58" fill="#264416"/>
<rect x="35" y="291.57" width="8" height="1.58" fill="#274516"/>
<rect x="43" y="291.57" width="8" height="1.58" fill="#62c523"/>
<rect x="51" y="291.57" width="8" height="1.58" fill="#86f133"/>
<rect x="1" y="293.10" width="9" height="1.58" fill="#081006"/>
<rect x="10" y="293.10" width="8" height="1.58" fill="#3f7e16"/>
<rect x="18" y="293.10" width="8" height="1.58" fill="#000500"/>
<rect x="26" y="293.10" width="9" height="1.58" fill="#2b4c18"/>
<rect x="35" y="293.10" width="8" height="1.58" fill="#2a4b18"/>
<rect x="43" y="293.10" width="8" height="1.58" fill="#6ad426"/>
<rect x="51" y="293.10" width="8" height="1.58" fill="#91ff37"/>
<rect x="1" y="294.63" width="9" height="1.58" fill="#0c1809"/>
<rect x="10" y="294.63" width="8" height="1.58" fill="#5fbf22"/>
<rect x="18" y="294.63" width="8" height="1.58" fill="#000900"/>
<rect x="26" y="294.63" width="9" height="1.58" fill="#213b13"/>
<rect x="35" y="294.63" width="8" height="1.58" fill="#223c13"/>
<rect x="43" y="294.63" width="8" height="1.58" fill="#54a81e"/>
<rect x="51" y="294.63" width="8" height="1.58" fill="#74d12c"/>
<rect x="1" y="296.17" width="9" height="1.58" fill="#091207"/>
<rect x="10" y="296.17" width="8" height="1.58" fill="#4d9b1c"/>
<rect x="18" y="296.17" width="8" height="1.58" fill="#000600"/>
<rect x="26" y="296.17" width="9" height="1.58" fill="#1f3712"/>
<rect x="35" y="296.17" width="8" height="1.58" fill="#1c3210"/>
<rect x="43" y="296.17" width="8" height="1.58" fill="#478e19"/>
<rect x="51" y="296.17" width="8" height="1.58" fill="#67ba27"/>
<rect x="1" y="297.70" width="9" height="1.58" fill="#50a11d"/>
<rect x="10" y="297.70" width="8" height="1.58" fill="#74d02c"/>
<rect x="18" y="297.70" width="8" height="1.58" fill="#7cdf2f"/>
<rect x="26" y="297.70" width="9" height="1.58" fill="#6bc92b"/>
<rect x="35" y="297.70" width="8" height="1.58" fill="#78e130"/>
<rect x="43" y="297.70" width="8" height="1.58" fill="#320000"/>
<rect x="51" y="297.70" width="8" height="1.58" fill="#80e531"/>
<rect x="1" y="299.23" width="9" height="1.58" fill="#5cb821"/>
<rect x="10" y="299.23" width="8" height="1.58" fill="#a0ff3d"/>
<rect x="18" y="299.23" width="8" height="1.58" fill="#89f634"/>
<rect x="26" y="299.23" width="9" height="1.58" fill="#437e1b"/>
<rect x="35" y="299.23" width="8" height="1.58" fill="#427c1a"/>
<rect x="43" y="299.23" width="8" height="1.58" fill="#1d0000"/>
<rect x="51" y="299.23" width="8" height="1.58" fill="#51911f"/>
<rect x="1" y="300.77" width="9" height="1.58" fill="#4b971b"/>
<rect x="10" y="300.77" width="8" height="1.58" fill="#68bc28"/>
<rect x="18" y="300.77" width="8" height="1.58" fill="#60ad25"/>
<rect x="26" y="300.77" width="9" height="1.58" fill="#68c329"/>
<rect x="35" y="300.77" width="8" height="1.58" fill="#71d32d"/>
<rect x="43" y="300.77" width="8" height="1.58" fill="#320000"/>
<rect x="51" y="300.77" width="8" height="1.58" fill="#8fff36"/>
<rect x="1" y="302.30" width="9" height="1.58" fill="#458b19"/>
<rect x="10" y="302.30" width="8" height="1.58" fill="#62b125"/>
<rect x="18" y="302.30" width="8" height="1.58" fill="#61ae25"/>
<rect x="26" y="302.30" width="9" height="1.58" fill="#559e22"/>
<rect x="35" y="302.30" width="8" height="1.58" fill="#57a323"/>
<rect x="43" y="302.30" width="8" height="1.58" fill="#2e0000"/>
<rect x="51" y="302.30" width="8" height="1.58" fill="#73ce2c"/>
<rect x="1" y="303.83" width="9" height="1.58" fill="#4d9b1c"/>
<rect x="10" y="303.83" width="8" height="1.58" fill="#6dc329"/>
<rect x="18" y="303.83" width="8" height="1.58" fill="#68bb28"/>
<rect x="26" y="303.83" width="9" height="1.58" fill="#8aff37"/>
<rect x="35" y="303.83" width="8" height="1.58" fill="#81f133"/>
<rect x="43" y="303.83" width="8" height="1.58" fill="#3b0000"/>
<rect x="51" y="303.83" width="8" height="1.58" fill="#94ff38"/>
<rect x="1" y="305.37" width="9" height="1.58" fill="#49921a"/>
<rect x="10" y="305.37" width="8" height="1.58" fill="#6dc52a"/>
<rect x="18" y="305.37" width="8" height="1.58" fill="#61ae25"/>
<rect x="26" y="305.37" width="9" height="1.58" fill="#67c129"/>
<rect x="35" y="305.37" width="8" height="1.58" fill="#6ece2c"/>
<rect x="43" y="305.37" width="8" height="1.58" fill="#330000"/>
<rect x="51" y="305.37" width="8" height="1.58" fill="#7bdd2f"/>
<rect x="1" y="306.90" width="9" height="1.20" fill="#204813"/>
<rect x="10" y="306.90" width="8" height="1.20" fill="#4e9c1a"/>
<rect x="18" y="306.90" width="8" height="1.20" fill="#50a11a"/>
<rect x="26" y="306.90" width="9" height="1.20" fill="#408015"/>
<rect x="35" y="306.90" width="8" height="1.20" fill="#408115"/>
<rect x="43" y="306.90" width="8" height="1.20" fill="#234711"/>
<rect x="51" y="306.90" width="8" height="1.20" fill="#67c627"/>
<rect x="1" y="308.05" width="9" height="1.20" fill="#1b3d10"/>
<rect x="10" y="308.05" width="8" height="1.20" fill="#458a17"/>
<rect x="18" y="308.05" width="8" height="1.20" fill="#3c7814"/>
<rect x="26" y="308.05" width="9" height="1.20" fill="#458a17"/>
<rect x="35" y="308.05" width="8" height="1.20" fill="#499318"/>
<rect x="43" y="308.05" width="8" height="1.20" fill="#234611"/>
<rect x="51" y="308.05" width="8" height="1.20" fill="#6ccf29"/>
<rect x="1" y="309.20" width="9" height="1.45" fill="#a90000"/>
<rect x="10" y="309.20" width="8" height="1.45" fill="#c70000"/>
<rect x="18" y="309.20" width="8" height="1.45" fill="#201000"/>
<rect x="26" y="309.20" width="9" height="1.45" fill="#842100"/>
<rect x="35" y="309.20" width="8" height="1.45" fill="#1a350d"/>
<rect x="43" y="309.20" width="8" height="1.45" fill="#1e3c0f"/>
<rect x="51" y="309.20" width="8" height="1.45" fill="#428416"/>
<rect x="1" y="310.60" width="9" height="1.45" fill="#9d0000"/>
<rect x="10" y="310.60" width="8" height="1.45" fill="#c30000"/>
<rect x="18" y="310.60" width="8" height="1.45" fill="#211000"/>
<rect x="26" y="310.60" width="9" height="1.45" fill="#812000"/>
<rect x="35" y="310.60" width="8" height="1.45" fill="#1d3a0e"/>
<rect x="43" y="310.60" width="8" height="1.45" fill="#1f3e0f"/>
<rect x="51" y="310.60" width="8" height="1.45" fill="#408015"/>
<rect x="1" y="312.00" width="9" height="1.45" fill="#8e0000"/>
<rect x="10" y="312.00" width="8" height="1.45" fill="#a30000"/>
<rect x="18" y="312.00" width="8" height="1.45" fill="#1a0d00"/>
<rect x="26" y="312.00" width="9" height="1.45" fill="#812000"/>
<rect x="35" y="312.00" width="8" height="1.45" fill="#214210"/>
<rect x="43" y="312.00" width="8" height="1.45" fill="#234711"/>
<rect x="51" y="312.00" width="8" height="1.45" fill="#52a51b"/>
<rect x="59" y="101.20" width="9" height="1.85" fill="#100800"/>
<rect x="68" y="101.20" width="8" height="1.85" fill="#110800"/>
<rect x="76" y="101.20" width="8" height="1.85" fill="#0f0700"/>
<rect x="84" y="101.20" width="9" height="1.85" fill="#14280a"/>
<rect x="93" y="101.20" width="8" height="1.85" fill="#122509"/>
<rect x="101" y="101.20" width="8" height="1.85" fill="#112308"/>
<rect x="109" y="101.20" width="9" height="1.85" fill="#122409"/>
<rect x="59" y="103.00" width="9" height="1.20" fill="#2d6414"/>
<rect x="68" y="103.00" width="8" height="1.20" fill="#2c6213"/>
<rect x="76" y="103.00" width="8" height="1.20" fill="#2e6614"/>
<rect x="84" y="103.00" width="9" height="1.20" fill="#49b31c"/>
<rect x="93" y="103.00" width="8" height="1.20" fill="#4bb71d"/>
<rect x="101" y="103.00" width="8" height="1.20" fill="#4cbc1d"/>
<rect x="109" y="103.00" width="9" height="1.20" fill="#4fc11e"/>
<rect x="59" y="104.15" width="9" height="1.20" fill="#316e16"/>
<rect x="68" y="104.15" width="8" height="1.20" fill="#387d19"/>
<rect x="76" y="104.15" width="8" height="1.20" fill="#3b841a"/>
<rect x="84" y="104.15" width="9" height="1.20" fill="#51c71f"/>
<rect x="93" y="104.15" width="8" height="1.20" fill="#56d321"/>
<rect x="101" y="104.15" width="8" height="1.20" fill="#58d722"/>
<rect x="109" y="104.15" width="9" height="1.20" fill="#50c41f"/>
<rect x="59" y="105.30" width="9" height="1.55" fill="#41a019"/>
<rect x="68" y="105.30" width="8" height="1.55" fill="#47af1b"/>
<rect x="76" y="105.30" width="8" height="1.55" fill="#4ab51c"/>
<rect x="84" y="105.30" width="9" height="1.55" fill="#3e7819"/>
<rect x="93" y="105.30" width="8" height="1.55" fill="#3a7118"/>
<rect x="101" y="105.30" width="8" height="1.55" fill="#3e7819"/>
<rect x="109" y="105.30" width="9" height="1.55" fill="#3c7519"/>
<rect x="59" y="106.80" width="9" height="1.55" fill="#398b16"/>
<rect x="68" y="106.80" width="8" height="1.55" fill="#398c16"/>
<rect x="76" y="106.80" width="8" height="1.55" fill="#3d9517"/>
<rect x="84" y="106.80" width="9" height="1.55" fill="#396f17"/>
<rect x="93" y="106.80" width="8" height="1.55" fill="#386c17"/>
<rect x="101" y="106.80" width="8" height="1.55" fill="#356816"/>
<rect x="109" y="106.80" width="9" height="1.55" fill="#386c17"/>
<rect x="59" y="108.30" width="9" height="1.25" fill="#337216"/>
<rect x="68" y="108.30" width="8" height="1.25" fill="#2d6514"/>
<rect x="76" y="108.30" width="8" height="1.25" fill="#387d19"/>
<rect x="84" y="108.30" width="9" height="1.25" fill="#57af1f"/>
<rect x="93" y="108.30" width="8" height="1.25" fill="#58b020"/>
<rect x="101" y="108.30" width="17" height="1.25" fill="#5ab420"/>
<rect x="59" y="109.50" width="9" height="1.25" fill="#347317"/>
<rect x="68" y="109.50" width="8" height="1.25" fill="#347417"/>
<rect x="76" y="109.50" width="8" height="1.25" fill="#316e16"/>
<rect x="84" y="109.50" width="9" height="1.25" fill="#68d126"/>
<rect x="93" y="109.50" width="8" height="1.25" fill="#6bd727"/>
<rect x="101" y="109.50" width="8" height="1.25" fill="#68d126"/>
<rect x="109" y="109.50" width="9" height="1.25" fill="#6bd626"/>
<rect x="59" y="110.70" width="9" height="1.20" fill="#13270d"/>
<rect x="68" y="110.70" width="8" height="1.20" fill="#14290d"/>
<rect x="76" y="110.70" width="8" height="1.20" fill="#14280d"/>
<rect x="84" y="110.70" width="9" height="1.20" fill="#1b3210"/>
<rect x="93" y="110.70" width="8" height="1.20" fill="#1c3511"/>
<rect x="101" y="110.70" width="8" height="1.20" fill="#1b3311"/>
<rect x="109" y="110.70" width="9" height="1.20" fill="#1a3010"/>
<rect x="59" y="111.85" width="17" height="1.20" fill="#193210"/>
<rect x="76" y="111.85" width="8" height="1.20" fill="#172e0f"/>
<rect x="84" y="111.85" width="17" height="1.20" fill="#1c3411"/>
<rect x="101" y="111.85" width="8" height="1.20" fill="#1c3511"/>
<rect x="109" y="111.85" width="9" height="1.20" fill="#1d3712"/>
<rect x="59" y="113.00" width="9" height="1.25" fill="#0a1a08"/>
<rect x="68" y="113.00" width="16" height="1.25" fill="#091907"/>
<rect x="84" y="113.00" width="9" height="1.25" fill="#1e350f"/>
<rect x="93" y="113.00" width="8" height="1.25" fill="#1c310e"/>
<rect x="101" y="113.00" width="8" height="1.25" fill="#1d330e"/>
<rect x="109" y="113.00" width="9" height="1.25" fill="#1c310e"/>
<rect x="59" y="114.20" width="9" height="1.25" fill="#081606"/>
<rect x="68" y="114.20" width="16" height="1.25" fill="#081607"/>
<rect x="84" y="114.20" width="9" height="1.25" fill="#1d330e"/>
<rect x="93" y="114.20" width="8" height="1.25" fill="#223c11"/>
<rect x="101" y="114.20" width="8" height="1.25" fill="#213a10"/>
<rect x="109" y="114.20" width="9" height="1.25" fill="#1d330e"/>
<rect x="59" y="115.40" width="9" height="1.85" fill="#50a11d"/>
<rect x="68" y="115.40" width="8" height="1.85" fill="#52a51e"/>
<rect x="76" y="115.40" width="8" height="1.85" fill="#50a01d"/>
<rect x="84" y="115.40" width="9" height="1.85" fill="#0d0000"/>
<rect x="93" y="115.40" width="8" height="1.85" fill="#110000"/>
<rect x="101" y="115.40" width="17" height="1.85" fill="#100000"/>
<rect x="59" y="117.20" width="9" height="1.50" fill="#80e631"/>
<rect x="68" y="117.20" width="8" height="1.50" fill="#77d72d"/>
<rect x="76" y="117.20" width="8" height="1.50" fill="#81e831"/>
<rect x="84" y="117.20" width="9" height="1.50" fill="#400000"/>
<rect x="93" y="117.20" width="8" height="1.50" fill="#450000"/>
<rect x="101" y="117.20" width="8" height="1.50" fill="#400000"/>
<rect x="109" y="117.20" width="9" height="1.50" fill="#450000"/>
<rect x="59" y="118.65" width="9" height="1.50" fill="#6ec52a"/>
<rect x="68" y="118.65" width="8" height="1.50" fill="#69bd28"/>
<rect x="76" y="118.65" width="8" height="1.50" fill="#71cb2b"/>
<rect x="84" y="118.65" width="9" height="1.50" fill="#450000"/>
<rect x="93" y="118.65" width="16" height="1.50" fill="#490000"/>
<rect x="109" y="118.65" width="9" height="1.50" fill="#4a0000"/>
<rect x="59" y="120.10" width="9" height="1.85" fill="#a1ff3f"/>
<rect x="68" y="120.10" width="8" height="1.85" fill="#94ff3a"/>
<rect x="76" y="120.10" width="8" height="1.85" fill="#90ff38"/>
<rect x="84" y="120.10" width="9" height="1.85" fill="#590000"/>
<rect x="93" y="120.10" width="8" height="1.85" fill="#570000"/>
<rect x="101" y="120.10" width="8" height="1.85" fill="#520000"/>
<rect x="109" y="120.10" width="9" height="1.85" fill="#580000"/>
<rect x="59" y="121.90" width="9" height="1.55" fill="#74d02e"/>
<rect x="68" y="121.90" width="8" height="1.55" fill="#73cd2e"/>
<rect x="76" y="121.90" width="8" height="1.55" fill="#70c82c"/>
<rect x="84" y="121.90" width="17" height="1.55" fill="#1f0000"/>
<rect x="101" y="121.90" width="8" height="1.55" fill="#210000"/>
<rect x="109" y="121.90" width="9" height="1.55" fill="#200000"/>
<rect x="59" y="123.40" width="9" height="1.55" fill="#9aff3d"/>
<rect x="68" y="123.40" width="8" height="1.55" fill="#93ff3a"/>
<rect x="76" y="123.40" width="8" height="1.55" fill="#96ff3c"/>
<rect x="84" y="123.40" width="9" height="1.55" fill="#200000"/>
<rect x="93" y="123.40" width="25" height="1.55" fill="#1e0000"/>
<rect x="59" y="124.90" width="9" height="1.75" fill="#250000"/>
<rect x="68" y="124.90" width="8" height="1.75" fill="#230000"/>
<rect x="76" y="124.90" width="8" height="1.75" fill="#250000"/>
<rect x="84" y="124.90" width="9" height="1.75" fill="#0f0700"/>
<rect x="93" y="124.90" width="8" height="1.75" fill="#0e0700"/>
<rect x="101" y="124.90" width="8" height="1.75" fill="#100800"/>
<rect x="109" y="124.90" width="9" height="1.75" fill="#0f0700"/>
<rect x="59" y="126.60" width="9" height="1.55" fill="#ca0000"/>
<rect x="68" y="126.60" width="8" height="1.55" fill="#c60000"/>
<rect x="76" y="126.60" width="8" height="1.55" fill="#b70000"/>
<rect x="84" y="126.60" width="9" height="1.55" fill="#330000"/>
<rect x="93" y="126.60" width="8" height="1.55" fill="#233511"/>
<rect x="101" y="126.60" width="8" height="1.55" fill="#370000"/>
<rect x="109" y="126.60" width="9" height="1.55" fill="#243612"/>
<rect x="59" y="128.10" width="9" height="1.55" fill="#c40000"/>
<rect x="68" y="128.10" width="8" height="1.55" fill="#ce0000"/>
<rect x="76" y="128.10" width="8" height="1.55" fill="#bc0000"/>
<rect x="84" y="128.10" width="9" height="1.55" fill="#290000"/>
<rect x="93" y="128.10" width="8" height="1.55" fill="#1e2d0f"/>
<rect x="101" y="128.10" width="8" height="1.55" fill="#2e0000"/>
<rect x="109" y="128.10" width="9" height="1.55" fill="#1d2c0e"/>
<rect x="59" y="129.60" width="9" height="1.85" fill="#de0000"/>
<rect x="68" y="129.60" width="8" height="1.85" fill="#d70000"/>
<rect x="76" y="129.60" width="8" height="1.85" fill="#e10000"/>
<rect x="84" y="129.60" width="17" height="1.85" fill="#1e0700"/>
<rect x="101" y="129.60" width="8" height="1.85" fill="#1f0700"/>
<rect x="109" y="129.60" width="9" height="1.85" fill="#1c0700"/>
<rect x="59" y="131.40" width="9" height="1.20" fill="#1e0000"/>
<rect x="68" y="131.40" width="8" height="1.20" fill="#1b0000"/>
<rect x="76" y="131.40" width="8" height="1.20" fill="#1d0000"/>
<rect x="84" y="131.40" width="9" height="1.20" fill="#c70000"/>
<rect x="93" y="131.40" width="8" height="1.20" fill="#d10000"/>
<rect x="101" y="131.40" width="8" height="1.20" fill="#d50000"/>
<rect x="109" y="131.40" width="9" height="1.20" fill="#dc0000"/>
<rect x="59" y="132.55" width="9" height="1.20" fill="#1e0000"/>
<rect x="68" y="132.55" width="8" height="1.20" fill="#1d0000"/>
<rect x="76" y="132.55" width="8" height="1.20" fill="#1f0000"/>
<rect x="84" y="132.55" width="9" height="1.20" fill="#a50000"/>
<rect x="93" y="132.55" width="8" height="1.20" fill="#a90000"/>
<rect x="101" y="132.55" width="8" height="1.20" fill="#970000"/>
<rect x="109" y="132.55" width="9" height="1.20" fill="#b80000"/>
<rect x="59" y="133.70" width="9" height="1.85" fill="#440000"/>
<rect x="68" y="133.70" width="8" height="1.85" fill="#3e0000"/>
<rect x="76" y="133.70" width="8" height="1.85" fill="#410000"/>
<rect x="84" y="133.70" width="9" height="1.85" fill="#a00000"/>
<rect x="93" y="133.70" width="8" height="1.85" fill="#b40000"/>
<rect x="101" y="133.70" width="8" height="1.85" fill="#ab0000"/>
<rect x="109" y="133.70" width="9" height="1.85" fill="#9f0000"/>
<rect x="59" y="135.50" width="9" height="1.25" fill="#320000"/>
<rect x="68" y="135.50" width="8" height="1.25" fill="#2f0000"/>
<rect x="76" y="135.50" width="8" height="1.25" fill="#300000"/>
<rect x="84" y="135.50" width="9" height="1.25" fill="#570000"/>
<rect x="93" y="135.50" width="8" height="1.25" fill="#550000"/>
<rect x="101" y="135.50" width="8" height="1.25" fill="#510000"/>
<rect x="109" y="135.50" width="9" height="1.25" fill="#5d0000"/>
<rect x="59" y="136.70" width="9" height="1.25" fill="#330000"/>
<rect x="68" y="136.70" width="8" height="1.25" fill="#320000"/>
<rect x="76" y="136.70" width="8" height="1.25" fill="#300000"/>
<rect x="84" y="136.70" width="9" height="1.25" fill="#540000"/>
<rect x="93" y="136.70" width="8" height="1.25" fill="#510000"/>
<rect x="101" y="136.70" width="8" height="1.25" fill="#4d0000"/>
<rect x="109" y="136.70" width="9" height="1.25" fill="#500000"/>
<rect x="59" y="137.90" width="9" height="2.15" fill="#680000"/>
<rect x="68" y="137.90" width="8" height="2.15" fill="#610000"/>
<rect x="76" y="137.90" width="8" height="2.15" fill="#630000"/>
<rect x="84" y="137.90" width="9" height="2.15" fill="#9f0000"/>
<rect x="93" y="137.90" width="8" height="2.15" fill="#900000"/>
<rect x="101" y="137.90" width="8" height="2.15" fill="#970000"/>
<rect x="109" y="137.90" width="9" height="2.15" fill="#42a119"/>
<rect x="59" y="140.00" width="9" height="1.85" fill="#b70000"/>
<rect x="68" y="140.00" width="8" height="1.85" fill="#b40000"/>
<rect x="76" y="140.00" width="8" height="1.85" fill="#a20000"/>
<rect x="84" y="140.00" width="9" height="1.85" fill="#5c0000"/>
<rect x="93" y="140.00" width="8" height="1.85" fill="#5a0000"/>
<rect x="101" y="140.00" width="8" height="1.85" fill="#5c0000"/>
<rect x="109" y="140.00" width="9" height="1.85" fill="#5f0000"/>
<rect x="59" y="141.80" width="9" height="1.55" fill="#430000"/>
<rect x="68" y="141.80" width="8" height="1.55" fill="#390000"/>
<rect x="76" y="141.80" width="8" height="1.55" fill="#3c0000"/>
<rect x="84" y="141.80" width="17" height="1.55" fill="#440000"/>
<rect x="101" y="141.80" width="8" height="1.55" fill="#450000"/>
<rect x="109" y="141.80" width="9" height="1.55" fill="#470000"/>
<rect x="59" y="143.30" width="9" height="1.55" fill="#3c0000"/>
<rect x="68" y="143.30" width="8" height="1.55" fill="#380000"/>
<rect x="76" y="143.30" width="8" height="1.55" fill="#3c0000"/>
<rect x="84" y="143.30" width="9" height="1.55" fill="#370000"/>
<rect x="93" y="143.30" width="8" height="1.55" fill="#3d0000"/>
<rect x="101" y="143.30" width="8" height="1.55" fill="#3e0000"/>
<rect x="109" y="143.30" width="9" height="1.55" fill="#3d0000"/>
<rect x="59" y="144.80" width="9" height="1.55" fill="#330000"/>
<rect x="68" y="144.80" width="8" height="1.55" fill="#320000"/>
<rect x="76" y="144.80" width="8" height="1.55" fill="#350000"/>
<rect x="84" y="144.80" width="9" height="1.55" fill="#3f0000"/>
<rect x="93" y="144.80" width="16" height="1.55" fill="#3d0000"/>
<rect x="109" y="144.80" width="9" height="1.55" fill="#400000"/>
<rect x="59" y="146.30" width="17" height="1.55" fill="#370000"/>
<rect x="76" y="146.30" width="8" height="1.55" fill="#360000"/>
<rect x="84" y="146.30" width="9" height="1.55" fill="#3a0000"/>
<rect x="93" y="146.30" width="16" height="1.55" fill="#3c0000"/>
<rect x="109" y="146.30" width="9" height="1.55" fill="#400000"/>
<rect x="59" y="147.80" width="9" height="1.65" fill="#2d0000"/>
<rect x="68" y="147.80" width="8" height="1.65" fill="#320000"/>
<rect x="76" y="147.80" width="8" height="1.65" fill="#2f0000"/>
<rect x="84" y="147.80" width="9" height="1.65" fill="#3c0000"/>
<rect x="93" y="147.80" width="8" height="1.65" fill="#3f0000"/>
<rect x="101" y="147.80" width="8" height="1.65" fill="#410000"/>
<rect x="109" y="147.80" width="9" height="1.65" fill="#99755c"/>
<rect x="59" y="149.40" width="9" height="1.56" fill="#370000"/>
<rect x="68" y="149.40" width="8" height="1.56" fill="#360000"/>
<rect x="76" y="149.40" width="8" height="1.56" fill="#3a0000"/>
<rect x="84" y="149.40" width="9" height="1.56" fill="#330000"/>
<rect x="93" y="149.40" width="8" height="1.56" fill="#340000"/>
<rect x="101" y="149.40" width="8" height="1.56" fill="#310000"/>
<rect x="109" y="149.40" width="9" height="1.56" fill="#330000"/>
<rect x="59" y="150.91" width="9" height="1.56" fill="#2f0000"/>
<rect x="68" y="150.91" width="8" height="1.56" fill="#340000"/>
<rect x="76" y="150.91" width="8" height="1.56" fill="#360000"/>
<rect x="84" y="150.91" width="9" height="1.56" fill="#430000"/>
<rect x="93" y="150.91" width="16" height="1.56" fill="#400000"/>
<rect x="109" y="150.91" width="9" height="1.56" fill="#3e0000"/>
<rect x="59" y="152.43" width="9" height="1.56" fill="#3f0000"/>
<rect x="68" y="152.43" width="8" height="1.56" fill="#380000"/>
<rect x="76" y="152.43" width="8" height="1.56" fill="#3c0000"/>
<rect x="84" y="152.43" width="9" height="1.56" fill="#3f0000"/>
<rect x="93" y="152.43" width="8" height="1.56" fill="#360000"/>
<rect x="101" y="152.43" width="8" height="1.56" fill="#3c0000"/>
<rect x="109" y="152.43" width="9" height="1.56" fill="#3b0000"/>
<rect x="59" y="153.94" width="9" height="1.56" fill="#360000"/>
<rect x="68" y="153.94" width="8" height="1.56" fill="#330000"/>
<rect x="76" y="153.94" width="8" height="1.56" fill="#360000"/>
<rect x="84" y="153.94" width="9" height="1.56" fill="#370000"/>
<rect x="93" y="153.94" width="8" height="1.56" fill="#410000"/>
<rect x="101" y="153.94" width="8" height="1.56" fill="#3d0000"/>
<rect x="109" y="153.94" width="9" height="1.56" fill="#400000"/>
<rect x="59" y="155.46" width="9" height="1.56" fill="#370000"/>
<rect x="68" y="155.46" width="16" height="1.56" fill="#350000"/>
<rect x="84" y="155.46" width="9" height="1.56" fill="#450000"/>
<rect x="93" y="155.46" width="8" height="1.56" fill="#410000"/>
<rect x="101" y="155.46" width="17" height="1.56" fill="#430000"/>
<rect x="59" y="156.97" width="9" height="1.56" fill="#3c0000"/>
<rect x="68" y="156.97" width="8" height="1.56" fill="#3a0000"/>
<rect x="76" y="156.97" width="8" height="1.56" fill="#3b0000"/>
<rect x="84" y="156.97" width="9" height="1.56" fill="#410000"/>
<rect x="93" y="156.97" width="8" height="1.56" fill="#400000"/>
<rect x="101" y="156.97" width="8" height="1.56" fill="#3d0000"/>
<rect x="109" y="156.97" width="9" height="1.56" fill="#3e0000"/>
<rect x="59" y="158.49" width="9" height="1.56" fill="#330000"/>
<rect x="68" y="158.49" width="8" height="1.56" fill="#340000"/>
<rect x="76" y="158.49" width="8" height="1.56" fill="#360000"/>
<rect x="84" y="158.49" width="9" height="1.56" fill="#3d0000"/>
<rect x="93" y="158.49" width="8" height="1.56" fill="#3b0000"/>
<rect x="101" y="158.49" width="17" height="1.56" fill="#3a0000"/>
<rect x="59" y="160.00" width="9" height="1.55" fill="#8b0000"/>
<rect x="68" y="160.00" width="8" height="1.55" fill="#940000"/>
<rect x="76" y="160.00" width="8" height="1.55" fill="#9e0000"/>
<rect x="84" y="160.00" width="9" height="1.55" fill="#6f0000"/>
<rect x="93" y="160.00" width="8" height="1.55" fill="#6c0000"/>
<rect x="101" y="160.00" width="8" height="1.55" fill="#5f0000"/>
<rect x="109" y="160.00" width="9" height="1.55" fill="#680000"/>
<rect x="59" y="161.50" width="9" height="1.55" fill="#a50000"/>
<rect x="68" y="161.50" width="8" height="1.55" fill="#900000"/>
<rect x="76" y="161.50" width="8" height="1.55" fill="#9a0000"/>
<rect x="84" y="161.50" width="9" height="1.55" fill="#6f0000"/>
<rect x="93" y="161.50" width="8" height="1.55" fill="#770000"/>
<rect x="101" y="161.50" width="8" height="1.55" fill="#760000"/>
<rect x="109" y="161.50" width="9" height="1.55" fill="#7d0000"/>
<rect x="59" y="163.00" width="9" height="1.61" fill="#500000"/>
<rect x="68" y="163.00" width="8" height="1.61" fill="#520000"/>
<rect x="76" y="163.00" width="8" height="1.61" fill="#560000"/>
<rect x="84" y="163.00" width="9" height="1.61" fill="#510000"/>
<rect x="93" y="163.00" width="8" height="1.61" fill="#500000"/>
<rect x="101" y="163.00" width="8" height="1.61" fill="#520000"/>
<rect x="109" y="163.00" width="9" height="1.61" fill="#580000"/>
<rect x="59" y="164.56" width="9" height="1.61" fill="#500000"/>
<rect x="68" y="164.56" width="8" height="1.61" fill="#4b0000"/>
<rect x="76" y="164.56" width="8" height="1.61" fill="#520000"/>
<rect x="84" y="164.56" width="9" height="1.61" fill="#580000"/>
<rect x="93" y="164.56" width="8" height="1.61" fill="#690000"/>
<rect x="101" y="164.56" width="8" height="1.61" fill="#5d0000"/>
<rect x="109" y="164.56" width="9" height="1.61" fill="#5c0000"/>
<rect x="59" y="166.12" width="17" height="1.61" fill="#480000"/>
<rect x="76" y="166.12" width="8" height="1.61" fill="#470000"/>
<rect x="84" y="166.12" width="9" height="1.61" fill="#570000"/>
<rect x="93" y="166.12" width="8" height="1.61" fill="#590000"/>
<rect x="101" y="166.12" width="8" height="1.61" fill="#550000"/>
<rect x="109" y="166.12" width="9" height="1.61" fill="#590000"/>
<rect x="59" y="167.68" width="9" height="1.61" fill="#4a0000"/>
<rect x="68" y="167.68" width="8" height="1.61" fill="#470000"/>
<rect x="76" y="167.68" width="8" height="1.61" fill="#4b0000"/>
<rect x="84" y="167.68" width="9" height="1.61" fill="#600000"/>
<rect x="93" y="167.68" width="8" height="1.61" fill="#5e0000"/>
<rect x="101" y="167.68" width="8" height="1.61" fill="#610000"/>
<rect x="109" y="167.68" width="9" height="1.61" fill="#640000"/>
<rect x="59" y="169.24" width="9" height="1.61" fill="#4b0000"/>
<rect x="68" y="169.24" width="8" height="1.61" fill="#490000"/>
<rect x="76" y="169.24" width="8" height="1.61" fill="#4c0000"/>
<rect x="84" y="169.24" width="9" height="1.61" fill="#670000"/>
<rect x="93" y="169.24" width="8" height="1.61" fill="#560000"/>
<rect x="101" y="169.24" width="8" height="1.61" fill="#5e0000"/>
<rect x="109" y="169.24" width="9" height="1.61" fill="#5b0000"/>
<rect x="59" y="170.80" width="9" height="1.80" fill="#720000"/>
<rect x="68" y="170.80" width="8" height="1.80" fill="#810000"/>
<rect x="76" y="170.80" width="8" height="1.80" fill="#7b0000"/>
<rect x="84" y="170.80" width="9" height="1.80" fill="#830000"/>
<rect x="93" y="170.80" width="8" height="1.80" fill="#850000"/>
<rect x="101" y="170.80" width="8" height="1.80" fill="#860000"/>
<rect x="109" y="170.80" width="9" height="1.80" fill="#7f0000"/>
<rect x="59" y="172.55" width="9" height="1.80" fill="#670000"/>
<rect x="68" y="172.55" width="8" height="1.80" fill="#690000"/>
<rect x="76" y="172.55" width="8" height="1.80" fill="#710000"/>
<rect x="84" y="172.55" width="9" height="1.80" fill="#850000"/>
<rect x="93" y="172.55" width="8" height="1.80" fill="#8a0000"/>
<rect x="101" y="172.55" width="8" height="1.80" fill="#8e0000"/>
<rect x="109" y="172.55" width="9" height="1.80" fill="#850000"/>
<rect x="59" y="174.30" width="9" height="1.47" fill="#8b0000"/>
<rect x="68" y="174.30" width="8" height="1.47" fill="#8e0000"/>
<rect x="76" y="174.30" width="8" height="1.47" fill="#8c0000"/>
<rect x="84" y="174.30" width="9" height="1.47" fill="#880000"/>
<rect x="93" y="174.30" width="8" height="1.47" fill="#890000"/>
<rect x="101" y="174.30" width="8" height="1.47" fill="#8c0000"/>
<rect x="109" y="174.30" width="9" height="1.47" fill="#7f0000"/>
<rect x="59" y="175.73" width="17" height="1.47" fill="#8f0000"/>
<rect x="76" y="175.73" width="8" height="1.47" fill="#910000"/>
<rect x="84" y="175.73" width="9" height="1.47" fill="#9a0000"/>
<rect x="93" y="175.73" width="8" height="1.47" fill="#a40000"/>
<rect x="101" y="175.73" width="8" height="1.47" fill="#9f0000"/>
<rect x="109" y="175.73" width="9" height="1.47" fill="#9e0000"/>
<rect x="59" y="177.15" width="9" height="1.47" fill="#8c0000"/>
<rect x="68" y="177.15" width="8" height="1.47" fill="#930000"/>
<rect x="76" y="177.15" width="8" height="1.47" fill="#950000"/>
<rect x="84" y="177.15" width="9" height="1.47" fill="#910000"/>
<rect x="93" y="177.15" width="8" height="1.47" fill="#a10000"/>
<rect x="101" y="177.15" width="8" height="1.47" fill="#ac0000"/>
<rect x="109" y="177.15" width="9" height="1.47" fill="#a20000"/>
<rect x="59" y="178.57" width="9" height="1.47" fill="#990000"/>
<rect x="68" y="178.57" width="8" height="1.47" fill="#920000"/>
<rect x="76" y="178.57" width="8" height="1.47" fill="#a20000"/>
<rect x="84" y="178.57" width="17" height="1.47" fill="#7b0000"/>
<rect x="101" y="178.57" width="8" height="1.47" fill="#7f0000"/>
<rect x="109" y="178.57" width="9" height="1.47" fill="#810000"/>
<rect x="59" y="180.00" width="9" height="1.25" fill="#b10000"/>
<rect x="68" y="180.00" width="8" height="1.25" fill="#9b0000"/>
<rect x="76" y="180.00" width="8" height="1.25" fill="#b30000"/>
<rect x="84" y="180.00" width="9" height="1.25" fill="#950000"/>
<rect x="93" y="180.00" width="8" height="1.25" fill="#890000"/>
<rect x="101" y="180.00" width="8" height="1.25" fill="#960000"/>
<rect x="109" y="180.00" width="9" height="1.25" fill="#930000"/>
<rect x="59" y="181.20" width="9" height="1.25" fill="#8c0000"/>
<rect x="68" y="181.20" width="8" height="1.25" fill="#9b0000"/>
<rect x="76" y="181.20" width="8" height="1.25" fill="#a00000"/>
<rect x="84" y="181.20" width="9" height="1.25" fill="#880000"/>
<rect x="93" y="181.20" width="8" height="1.25" fill="#9b0000"/>
<rect x="101" y="181.20" width="8" height="1.25" fill="#8c0000"/>
<rect x="109" y="181.20" width="9" height="1.25" fill="#8b0000"/>
<rect x="59" y="182.40" width="9" height="1.20" fill="#6c0000"/>
<rect x="68" y="182.40" width="8" height="1.20" fill="#730000"/>
<rect x="76" y="182.40" width="8" height="1.20" fill="#7b0000"/>
<rect x="84" y="182.40" width="9" height="1.20" fill="#6c0000"/>
<rect x="93" y="182.40" width="8" height="1.20" fill="#6d0000"/>
<rect x="101" y="182.40" width="17" height="1.20" fill="#6f0000"/>
<rect x="59" y="183.55" width="9" height="1.20" fill="#6c0000"/>
<rect x="68" y="183.55" width="8" height="1.20" fill="#710000"/>
<rect x="76" y="183.55" width="8" height="1.20" fill="#5d0000"/>
<rect x="84" y="183.55" width="9" height="1.20" fill="#6a0000"/>
<rect x="93" y="183.55" width="8" height="1.20" fill="#6d0000"/>
<rect x="101" y="183.55" width="8" height="1.20" fill="#640000"/>
<rect x="109" y="183.55" width="9" height="1.20" fill="#700000"/>
<rect x="59" y="184.70" width="9" height="1.65" fill="#930000"/>
<rect x="68" y="184.70" width="8" height="1.65" fill="#920000"/>
<rect x="76" y="184.70" width="8" height="1.65" fill="#750000"/>
<rect x="84" y="184.70" width="9" height="1.65" fill="#910000"/>
<rect x="93" y="184.70" width="8" height="1.65" fill="#890000"/>
<rect x="101" y="184.70" width="8" height="1.65" fill="#930000"/>
<rect x="109" y="184.70" width="9" height="1.65" fill="#9b0000"/>
<rect x="59" y="186.30" width="9" height="1.65" fill="#8f0000"/>
<rect x="68" y="186.30" width="8" height="1.65" fill="#950000"/>
<rect x="76" y="186.30" width="8" height="1.65" fill="#980000"/>
<rect x="84" y="186.30" width="9" height="1.65" fill="#9c0000"/>
<rect x="93" y="186.30" width="8" height="1.65" fill="#a00000"/>
<rect x="101" y="186.30" width="8" height="1.65" fill="#910000"/>
<rect x="109" y="186.30" width="9" height="1.65" fill="#900000"/>
<rect x="59" y="187.90" width="9" height="1.65" fill="#a60000"/>
<rect x="68" y="187.90" width="8" height="1.65" fill="#9a0000"/>
<rect x="76" y="187.90" width="8" height="1.65" fill="#a00000"/>
<rect x="84" y="187.90" width="9" height="1.65" fill="#880000"/>
<rect x="93" y="187.90" width="8" height="1.65" fill="#790000"/>
<rect x="101" y="187.90" width="8" height="1.65" fill="#7b0000"/>
<rect x="109" y="187.90" width="9" height="1.65" fill="#760000"/>
<rect x="59" y="189.50" width="9" height="1.80" fill="#6f0000"/>
<rect x="68" y="189.50" width="8" height="1.80" fill="#640000"/>
<rect x="76" y="189.50" width="8" height="1.80" fill="#6e0000"/>
<rect x="84" y="189.50" width="9" height="1.80" fill="#7c0000"/>
<rect x="93" y="189.50" width="8" height="1.80" fill="#6d0000"/>
<rect x="101" y="189.50" width="8" height="1.80" fill="#720000"/>
<rect x="109" y="189.50" width="9" height="1.80" fill="#6d0000"/>
<rect x="59" y="191.25" width="9" height="1.80" fill="#5d0000"/>
<rect x="68" y="191.25" width="8" height="1.80" fill="#660000"/>
<rect x="76" y="191.25" width="8" height="1.80" fill="#630000"/>
<rect x="84" y="191.25" width="9" height="1.80" fill="#560000"/>
<rect x="93" y="191.25" width="8" height="1.80" fill="#5b0000"/>
<rect x="101" y="191.25" width="8" height="1.80" fill="#5d0000"/>
<rect x="109" y="191.25" width="9" height="1.80" fill="#5b0000"/>
<rect x="59" y="193.00" width="9" height="1.59" fill="#9c0000"/>
<rect x="68" y="193.00" width="8" height="1.59" fill="#8f0000"/>
<rect x="76" y="193.00" width="8" height="1.59" fill="#930000"/>
<rect x="84" y="193.00" width="25" height="1.59" fill="#830000"/>
<rect x="109" y="193.00" width="9" height="1.59" fill="#800000"/>
<rect x="59" y="194.54" width="9" height="1.59" fill="#910000"/>
<rect x="68" y="194.54" width="8" height="1.59" fill="#8a0000"/>
<rect x="76" y="194.54" width="8" height="1.59" fill="#980000"/>
<rect x="84" y="194.54" width="9" height="1.59" fill="#900000"/>
<rect x="93" y="194.54" width="8" height="1.59" fill="#9d0000"/>
<rect x="101" y="194.54" width="8" height="1.59" fill="#9f0000"/>
<rect x="109" y="194.54" width="9" height="1.59" fill="#a40000"/>
<rect x="59" y="196.08" width="9" height="1.59" fill="#a50000"/>
<rect x="68" y="196.08" width="8" height="1.59" fill="#a00000"/>
<rect x="76" y="196.08" width="8" height="1.59" fill="#a30000"/>
<rect x="84" y="196.08" width="9" height="1.59" fill="#780000"/>
<rect x="93" y="196.08" width="8" height="1.59" fill="#750000"/>
<rect x="101" y="196.08" width="8" height="1.59" fill="#780000"/>
<rect x="109" y="196.08" width="9" height="1.59" fill="#6c0000"/>
<rect x="59" y="197.62" width="9" height="1.59" fill="#9d0000"/>
<rect x="68" y="197.62" width="8" height="1.59" fill="#a50000"/>
<rect x="76" y="197.62" width="8" height="1.59" fill="#9b0000"/>
<rect x="84" y="197.62" width="9" height="1.59" fill="#870000"/>
<rect x="93" y="197.62" width="8" height="1.59" fill="#7e0000"/>
<rect x="101" y="197.62" width="8" height="1.59" fill="#910000"/>
<rect x="109" y="197.62" width="9" height="1.59" fill="#8a0000"/>
<rect x="59" y="199.15" width="9" height="1.59" fill="#9f0000"/>
<rect x="68" y="199.15" width="8" height="1.59" fill="#9b0000"/>
<rect x="76" y="199.15" width="8" height="1.59" fill="#900000"/>
<rect x="84" y="199.15" width="9" height="1.59" fill="#870000"/>
<rect x="93" y="199.15" width="8" height="1.59" fill="#850000"/>
<rect x="101" y="199.15" width="8" height="1.59" fill="#870000"/>
<rect x="109" y="199.15" width="9" height="1.59" fill="#8b0000"/>
<rect x="59" y="200.69" width="9" height="1.59" fill="#7f0000"/>
<rect x="68" y="200.69" width="8" height="1.59" fill="#810000"/>
<rect x="76" y="200.69" width="8" height="1.59" fill="#8a0000"/>
<rect x="84" y="200.69" width="9" height="1.59" fill="#8c0000"/>
<rect x="93" y="200.69" width="8" height="1.59" fill="#7b0000"/>
<rect x="101" y="200.69" width="8" height="1.59" fill="#800000"/>
<rect x="109" y="200.69" width="9" height="1.59" fill="#7c0000"/>
<rect x="59" y="202.23" width="9" height="1.59" fill="#9c0000"/>
<rect x="68" y="202.23" width="8" height="1.59" fill="#9f0000"/>
<rect x="76" y="202.23" width="8" height="1.59" fill="#9b0000"/>
<rect x="84" y="202.23" width="9" height="1.59" fill="#940000"/>
<rect x="93" y="202.23" width="8" height="1.59" fill="#a10000"/>
<rect x="101" y="202.23" width="8" height="1.59" fill="#970000"/>
<rect x="109" y="202.23" width="9" height="1.59" fill="#a40000"/>
<rect x="59" y="203.77" width="9" height="1.59" fill="#980000"/>
<rect x="68" y="203.77" width="8" height="1.59" fill="#880000"/>
<rect x="76" y="203.77" width="8" height="1.59" fill="#8e0000"/>
<rect x="84" y="203.77" width="9" height="1.59" fill="#960000"/>
<rect x="93" y="203.77" width="8" height="1.59" fill="#8f0000"/>
<rect x="101" y="203.77" width="8" height="1.59" fill="#860000"/>
<rect x="109" y="203.77" width="9" height="1.59" fill="#8a0000"/>
<rect x="59" y="205.31" width="9" height="1.59" fill="#980000"/>
<rect x="68" y="205.31" width="8" height="1.59" fill="#9c0000"/>
<rect x="76" y="205.31" width="8" height="1.59" fill="#910000"/>
<rect x="84" y="205.31" width="9" height="1.59" fill="#8d0000"/>
<rect x="93" y="205.31" width="8" height="1.59" fill="#7e0000"/>
<rect x="101" y="205.31" width="8" height="1.59" fill="#820000"/>
<rect x="109" y="205.31" width="9" height="1.59" fill="#830000"/>
<rect x="59" y="206.85" width="9" height="1.59" fill="#b80000"/>
<rect x="68" y="206.85" width="8" height="1.59" fill="#b60000"/>
<rect x="76" y="206.85" width="8" height="1.59" fill="#ad0000"/>
<rect x="84" y="206.85" width="9" height="1.59" fill="#7b0000"/>
<rect x="93" y="206.85" width="8" height="1.59" fill="#7c0000"/>
<rect x="101" y="206.85" width="8" height="1.59" fill="#830000"/>
<rect x="109" y="206.85" width="9" height="1.59" fill="#860000"/>
<rect x="59" y="208.38" width="9" height="1.59" fill="#a20000"/>
<rect x="68" y="208.38" width="8" height="1.59" fill="#9f0000"/>
<rect x="76" y="208.38" width="8" height="1.59" fill="#a20000"/>
<rect x="84" y="208.38" width="9" height="1.59" fill="#840000"/>
<rect x="93" y="208.38" width="8" height="1.59" fill="#9c0000"/>
<rect x="101" y="208.38" width="8" height="1.59" fill="#880000"/>
<rect x="109" y="208.38" width="9" height="1.59" fill="#850000"/>
<rect x="59" y="209.92" width="9" height="1.59" fill="#870000"/>
<rect x="68" y="209.92" width="8" height="1.59" fill="#8f0000"/>
<rect x="76" y="209.92" width="8" height="1.59" fill="#910000"/>
<rect x="84" y="209.92" width="9" height="1.59" fill="#880000"/>
<rect x="93" y="209.92" width="8" height="1.59" fill="#860000"/>
<rect x="101" y="209.92" width="8" height="1.59" fill="#800000"/>
<rect x="109" y="209.92" width="9" height="1.59" fill="#840000"/>
<rect x="59" y="211.46" width="9" height="1.59" fill="#a40000"/>
<rect x="68" y="211.46" width="8" height="1.59" fill="#940000"/>
<rect x="76" y="211.46" width="8" height="1.59" fill="#a80000"/>
<rect x="84" y="211.46" width="9" height="1.59" fill="#930000"/>
<rect x="93" y="211.46" width="8" height="1.59" fill="#8a0000"/>
<rect x="101" y="211.46" width="8" height="1.59" fill="#840000"/>
<rect x="109" y="211.46" width="9" height="1.59" fill="#8e0000"/>
<rect x="59" y="213.00" width="17" height="1.90" fill="#9c0000"/>
<rect x="76" y="213.00" width="8" height="1.90" fill="#ab0000"/>
<rect x="84" y="213.00" width="9" height="1.90" fill="#750000"/>
<rect x="93" y="213.00" width="8" height="1.90" fill="#740000"/>
<rect x="101" y="213.00" width="8" height="1.90" fill="#690000"/>
<rect x="109" y="213.00" width="9" height="1.90" fill="#760000"/>
<rect x="59" y="214.85" width="9" height="1.90" fill="#c30000"/>
<rect x="68" y="214.85" width="8" height="1.90" fill="#b00000"/>
<rect x="76" y="214.85" width="8" height="1.90" fill="#ae0000"/>
<rect x="84" y="214.85" width="9" height="1.90" fill="#7b0000"/>
<rect x="93" y="214.85" width="8" height="1.90" fill="#760000"/>
<rect x="101" y="214.85" width="8" height="1.90" fill="#640000"/>
<rect x="109" y="214.85" width="9" height="1.90" fill="#680000"/>
<rect x="59" y="216.70" width="9" height="1.70" fill="#a90000"/>
<rect x="68" y="216.70" width="8" height="1.70" fill="#a70000"/>
<rect x="76" y="216.70" width="8" height="1.70" fill="#a50000"/>
<rect x="84" y="216.70" width="9" height="1.70" fill="#810000"/>
<rect x="93" y="216.70" width="8" height="1.70" fill="#820000"/>
<rect x="101" y="216.70" width="8" height="1.70" fill="#880000"/>
<rect x="109" y="216.70" width="9" height="1.70" fill="#810000"/>
<rect x="59" y="218.35" width="9" height="1.70" fill="#a50000"/>
<rect x="68" y="218.35" width="8" height="1.70" fill="#a00000"/>
<rect x="76" y="218.35" width="8" height="1.70" fill="#990000"/>
<rect x="84" y="218.35" width="9" height="1.70" fill="#760000"/>
<rect x="93" y="218.35" width="16" height="1.70" fill="#810000"/>
<rect x="109" y="218.35" width="9" height="1.70" fill="#8f0000"/>
<rect x="59" y="220.00" width="9" height="1.45" fill="#840000"/>
<rect x="68" y="220.00" width="8" height="1.45" fill="#860000"/>
<rect x="76" y="220.00" width="8" height="1.45" fill="#880000"/>
<rect x="84" y="220.00" width="9" height="1.45" fill="#8d0000"/>
<rect x="93" y="220.00" width="8" height="1.45" fill="#950000"/>
<rect x="101" y="220.00" width="8" height="1.45" fill="#860000"/>
<rect x="109" y="220.00" width="9" height="1.45" fill="#920000"/>
<rect x="59" y="221.40" width="9" height="1.45" fill="#850000"/>
<rect x="68" y="221.40" width="8" height="1.45" fill="#860000"/>
<rect x="76" y="221.40" width="8" height="1.45" fill="#800000"/>
<rect x="84" y="221.40" width="9" height="1.45" fill="#870000"/>
<rect x="93" y="221.40" width="8" height="1.45" fill="#830000"/>
<rect x="101" y="221.40" width="8" height="1.45" fill="#7b0000"/>
<rect x="109" y="221.40" width="9" height="1.45" fill="#7e0000"/>
<rect x="59" y="222.80" width="17" height="1.45" fill="#930000"/>
<rect x="76" y="222.80" width="8" height="1.45" fill="#9e0000"/>
<rect x="84" y="222.80" width="9" height="1.45" fill="#7c0000"/>
<rect x="93" y="222.80" width="8" height="1.45" fill="#790000"/>
<rect x="101" y="222.80" width="8" height="1.45" fill="#750000"/>
<rect x="109" y="222.80" width="9" height="1.45" fill="#7c0000"/>
<rect x="59" y="224.20" width="9" height="1.45" fill="#8b0000"/>
<rect x="68" y="224.20" width="8" height="1.45" fill="#7b0000"/>
<rect x="76" y="224.20" width="8" height="1.45" fill="#820000"/>
<rect x="84" y="224.20" width="9" height="1.45" fill="#8f0000"/>
<rect x="93" y="224.20" width="8" height="1.45" fill="#900000"/>
<rect x="101" y="224.20" width="8" height="1.45" fill="#890000"/>
<rect x="109" y="224.20" width="9" height="1.45" fill="#930000"/>
<rect x="59" y="225.60" width="9" height="1.45" fill="#a10000"/>
<rect x="68" y="225.60" width="8" height="1.45" fill="#870000"/>
<rect x="76" y="225.60" width="8" height="1.45" fill="#970000"/>
<rect x="84" y="225.60" width="9" height="1.45" fill="#960000"/>
<rect x="93" y="225.60" width="8" height="1.45" fill="#980000"/>
<rect x="101" y="225.60" width="8" height="1.45" fill="#930000"/>
<rect x="109" y="225.60" width="9" height="1.45" fill="#a00000"/>
<rect x="59" y="227.00" width="9" height="1.45" fill="#830000"/>
<rect x="68" y="227.00" width="8" height="1.45" fill="#7c0000"/>
<rect x="76" y="227.00" width="8" height="1.45" fill="#800000"/>
<rect x="84" y="227.00" width="9" height="1.45" fill="#760000"/>
<rect x="93" y="227.00" width="8" height="1.45" fill="#7e0000"/>
<rect x="101" y="227.00" width="8" height="1.45" fill="#710000"/>
<rect x="109" y="227.00" width="9" height="1.45" fill="#8d0000"/>
<rect x="59" y="228.40" width="17" height="1.45" fill="#7f0000"/>
<rect x="76" y="228.40" width="8" height="1.45" fill="#830000"/>
<rect x="84" y="228.40" width="9" height="1.45" fill="#7c0000"/>
<rect x="93" y="228.40" width="8" height="1.45" fill="#860000"/>
<rect x="101" y="228.40" width="8" height="1.45" fill="#770000"/>
<rect x="109" y="228.40" width="9" height="1.45" fill="#6e0000"/>
<rect x="59" y="229.80" width="9" height="1.45" fill="#740000"/>
<rect x="68" y="229.80" width="8" height="1.45" fill="#7f0000"/>
<rect x="76" y="229.80" width="8" height="1.45" fill="#780000"/>
<rect x="84" y="229.80" width="9" height="1.45" fill="#7e0000"/>
<rect x="93" y="229.80" width="8" height="1.45" fill="#820000"/>
<rect x="101" y="229.80" width="8" height="1.45" fill="#7a0000"/>
<rect x="109" y="229.80" width="9" height="1.45" fill="#800000"/>
<rect x="59" y="231.20" width="9" height="1.45" fill="#8a0000"/>
<rect x="68" y="231.20" width="8" height="1.45" fill="#870000"/>
<rect x="76" y="231.20" width="8" height="1.45" fill="#880000"/>
<rect x="84" y="231.20" width="9" height="1.45" fill="#820000"/>
<rect x="93" y="231.20" width="8" height="1.45" fill="#8b0000"/>
<rect x="101" y="231.20" width="8" height="1.45" fill="#850000"/>
<rect x="109" y="231.20" width="9" height="1.45" fill="#860000"/>
<rect x="59" y="232.60" width="17" height="1.45" fill="#850000"/>
<rect x="76" y="232.60" width="8" height="1.45" fill="#8b0000"/>
<rect x="84" y="232.60" width="9" height="1.45" fill="#770000"/>
<rect x="93" y="232.60" width="8" height="1.45" fill="#7c0000"/>
<rect x="101" y="232.60" width="8" height="1.45" fill="#7b0000"/>
<rect x="109" y="232.60" width="9" height="1.45" fill="#780000"/>
<rect x="59" y="234.00" width="9" height="1.45" fill="#790000"/>
<rect x="68" y="234.00" width="8" height="1.45" fill="#6d0000"/>
<rect x="76" y="234.00" width="8" height="1.45" fill="#790000"/>
<rect x="84" y="234.00" width="9" height="1.45" fill="#800000"/>
<rect x="93" y="234.00" width="8" height="1.45" fill="#730000"/>
<rect x="101" y="234.00" width="17" height="1.45" fill="#700000"/>
<rect x="59" y="235.40" width="9" height="1.43" fill="#850000"/>
<rect x="68" y="235.40" width="8" height="1.43" fill="#830000"/>
<rect x="76" y="235.40" width="8" height="1.43" fill="#7f0000"/>
<rect x="84" y="235.40" width="9" height="1.43" fill="#950000"/>
<rect x="93" y="235.40" width="8" height="1.43" fill="#970000"/>
<rect x="101" y="235.40" width="8" height="1.43" fill="#9f0000"/>
<rect x="109" y="235.40" width="9" height="1.43" fill="#960000"/>
<rect x="59" y="236.78" width="9" height="1.43" fill="#a40000"/>
<rect x="68" y="236.78" width="8" height="1.43" fill="#9b0000"/>
<rect x="76" y="236.78" width="8" height="1.43" fill="#960000"/>
<rect x="84" y="236.78" width="9" height="1.43" fill="#850000"/>
<rect x="93" y="236.78" width="8" height="1.43" fill="#860000"/>
<rect x="101" y="236.78" width="17" height="1.43" fill="#870000"/>
<rect x="59" y="238.17" width="9" height="1.43" fill="#a30000"/>
<rect x="68" y="238.17" width="8" height="1.43" fill="#8d0000"/>
<rect x="76" y="238.17" width="8" height="1.43" fill="#990000"/>
<rect x="84" y="238.17" width="9" height="1.43" fill="#860000"/>
<rect x="93" y="238.17" width="8" height="1.43" fill="#870000"/>
<rect x="101" y="238.17" width="8" height="1.43" fill="#8a0000"/>
<rect x="109" y="238.17" width="9" height="1.43" fill="#830000"/>
<rect x="59" y="239.55" width="9" height="1.43" fill="#9b0000"/>
<rect x="68" y="239.55" width="8" height="1.43" fill="#920000"/>
<rect x="76" y="239.55" width="8" height="1.43" fill="#980000"/>
<rect x="84" y="239.55" width="9" height="1.43" fill="#8d0000"/>
<rect x="93" y="239.55" width="8" height="1.43" fill="#990000"/>
<rect x="101" y="239.55" width="8" height="1.43" fill="#860000"/>
<rect x="109" y="239.55" width="9" height="1.43" fill="#9f0000"/>
<rect x="59" y="240.93" width="9" height="1.43" fill="#8d0000"/>
<rect x="68" y="240.93" width="8" height="1.43" fill="#850000"/>
<rect x="76" y="240.93" width="8" height="1.43" fill="#8f0000"/>
<rect x="84" y="240.93" width="9" height="1.43" fill="#9d0000"/>
<rect x="93" y="240.93" width="8" height="1.43" fill="#8a0000"/>
<rect x="101" y="240.93" width="8" height="1.43" fill="#9f0000"/>
<rect x="109" y="240.93" width="9" height="1.43" fill="#940000"/>
<rect x="59" y="242.32" width="9" height="1.43" fill="#890000"/>
<rect x="68" y="242.32" width="8" height="1.43" fill="#8c0000"/>
<rect x="76" y="242.32" width="8" height="1.43" fill="#820000"/>
<rect x="84" y="242.32" width="9" height="1.43" fill="#830000"/>
<rect x="93" y="242.32" width="8" height="1.43" fill="#890000"/>
<rect x="101" y="242.32" width="8" height="1.43" fill="#870000"/>
<rect x="109" y="242.32" width="9" height="1.43" fill="#930000"/>
<rect x="59" y="243.70" width="17" height="1.47" fill="#710000"/>
<rect x="76" y="243.70" width="8" height="1.47" fill="#700000"/>
<rect x="84" y="243.70" width="9" height="1.47" fill="#6e0000"/>
<rect x="93" y="243.70" width="8" height="1.47" fill="#720000"/>
<rect x="101" y="243.70" width="8" height="1.47" fill="#780000"/>
<rect x="109" y="243.70" width="9" height="1.47" fill="#740000"/>
<rect x="59" y="245.12" width="9" height="1.47" fill="#750000"/>
<rect x="68" y="245.12" width="8" height="1.47" fill="#6a0000"/>
<rect x="76" y="245.12" width="8" height="1.47" fill="#6c0000"/>
<rect x="84" y="245.12" width="17" height="1.47" fill="#600000"/>
<rect x="101" y="245.12" width="8" height="1.47" fill="#650000"/>
<rect x="109" y="245.12" width="9" height="1.47" fill="#660000"/>
<rect x="59" y="246.54" width="9" height="1.47" fill="#6a0000"/>
<rect x="68" y="246.54" width="8" height="1.47" fill="#820000"/>
<rect x="76" y="246.54" width="8" height="1.47" fill="#770000"/>
<rect x="84" y="246.54" width="9" height="1.47" fill="#5f0000"/>
<rect x="93" y="246.54" width="8" height="1.47" fill="#700000"/>
<rect x="101" y="246.54" width="8" height="1.47" fill="#6c0000"/>
<rect x="109" y="246.54" width="9" height="1.47" fill="#660000"/>
<rect x="59" y="247.96" width="9" height="1.47" fill="#640000"/>
<rect x="68" y="247.96" width="8" height="1.47" fill="#760000"/>
<rect x="76" y="247.96" width="8" height="1.47" fill="#720000"/>
<rect x="84" y="247.96" width="9" height="1.47" fill="#700000"/>
<rect x="93" y="247.96" width="16" height="1.47" fill="#690000"/>
<rect x="109" y="247.96" width="9" height="1.47" fill="#740000"/>
<rect x="59" y="249.38" width="9" height="1.47" fill="#5b0000"/>
<rect x="68" y="249.38" width="8" height="1.47" fill="#4f0000"/>
<rect x="76" y="249.38" width="8" height="1.47" fill="#550000"/>
<rect x="84" y="249.38" width="9" height="1.47" fill="#6d0000"/>
<rect x="93" y="249.38" width="8" height="1.47" fill="#6e0000"/>
<rect x="101" y="249.38" width="17" height="1.47" fill="#6a0000"/>
<rect x="59" y="250.80" width="9" height="1.58" fill="#9e0000"/>
<rect x="68" y="250.80" width="8" height="1.58" fill="#9f0000"/>
<rect x="76" y="250.80" width="8" height="1.58" fill="#950000"/>
<rect x="84" y="250.80" width="9" height="1.58" fill="#ae0000"/>
<rect x="93" y="250.80" width="8" height="1.58" fill="#aa0000"/>
<rect x="101" y="250.80" width="8" height="1.58" fill="#910000"/>
<rect x="109" y="250.80" width="9" height="1.58" fill="#9c0000"/>
<rect x="59" y="252.33" width="9" height="1.58" fill="#8d0000"/>
<rect x="68" y="252.33" width="8" height="1.58" fill="#a10000"/>
<rect x="76" y="252.33" width="8" height="1.58" fill="#920000"/>
<rect x="84" y="252.33" width="9" height="1.58" fill="#b70000"/>
<rect x="93" y="252.33" width="8" height="1.58" fill="#9f0000"/>
<rect x="101" y="252.33" width="8" height="1.58" fill="#b50000"/>
<rect x="109" y="252.33" width="9" height="1.58" fill="#a90000"/>
<rect x="59" y="253.87" width="9" height="1.58" fill="#a50000"/>
<rect x="68" y="253.87" width="8" height="1.58" fill="#9a0000"/>
<rect x="76" y="253.87" width="8" height="1.58" fill="#a10000"/>
<rect x="84" y="253.87" width="9" height="1.58" fill="#9e0000"/>
<rect x="93" y="253.87" width="8" height="1.58" fill="#a30000"/>
<rect x="101" y="253.87" width="8" height="1.58" fill="#a10000"/>
<rect x="109" y="253.87" width="9" height="1.58" fill="#ab0000"/>
<rect x="59" y="255.40" width="9" height="1.58" fill="#8e0000"/>
<rect x="68" y="255.40" width="8" height="1.58" fill="#a30000"/>
<rect x="76" y="255.40" width="8" height="1.58" fill="#960000"/>
<rect x="84" y="255.40" width="9" height="1.58" fill="#9a0000"/>
<rect x="93" y="255.40" width="8" height="1.58" fill="#a10000"/>
<rect x="101" y="255.40" width="8" height="1.58" fill="#9d0000"/>
<rect x="109" y="255.40" width="9" height="1.58" fill="#9e0000"/>
<rect x="59" y="256.93" width="9" height="1.58" fill="#9f0000"/>
<rect x="68" y="256.93" width="8" height="1.58" fill="#980000"/>
<rect x="76" y="256.93" width="8" height="1.58" fill="#9f0000"/>
<rect x="84" y="256.93" width="9" height="1.58" fill="#8c0000"/>
<rect x="93" y="256.93" width="8" height="1.58" fill="#880000"/>
<rect x="101" y="256.93" width="8" height="1.58" fill="#950000"/>
<rect x="109" y="256.93" width="9" height="1.58" fill="#8c0000"/>
<rect x="59" y="258.47" width="9" height="1.58" fill="#a90000"/>
<rect x="68" y="258.47" width="8" height="1.58" fill="#ab0000"/>
<rect x="76" y="258.47" width="8" height="1.58" fill="#a80000"/>
<rect x="84" y="258.47" width="9" height="1.58" fill="#9f0000"/>
<rect x="93" y="258.47" width="8" height="1.58" fill="#a50000"/>
<rect x="101" y="258.47" width="8" height="1.58" fill="#b20000"/>
<rect x="109" y="258.47" width="9" height="1.58" fill="#a60000"/>
<rect x="59" y="260.00" width="9" height="1.25" fill="#930000"/>
<rect x="68" y="260.00" width="8" height="1.25" fill="#870000"/>
<rect x="76" y="260.00" width="8" height="1.25" fill="#8c0000"/>
<rect x="84" y="260.00" width="9" height="1.25" fill="#8d0000"/>
<rect x="93" y="260.00" width="8" height="1.25" fill="#8b0000"/>
<rect x="101" y="260.00" width="8" height="1.25" fill="#960000"/>
<rect x="109" y="260.00" width="9" height="1.25" fill="#8c0000"/>
<rect x="59" y="261.20" width="17" height="1.25" fill="#940000"/>
<rect x="76" y="261.20" width="8" height="1.25" fill="#960000"/>
<rect x="84" y="261.20" width="9" height="1.25" fill="#8e0000"/>
<rect x="93" y="261.20" width="8" height="1.25" fill="#820000"/>
<rect x="101" y="261.20" width="8" height="1.25" fill="#9a0000"/>
<rect x="109" y="261.20" width="9" height="1.25" fill="#a00000"/>
<rect x="59" y="262.40" width="9" height="1.56" fill="#390000"/>
<rect x="68" y="262.40" width="8" height="1.56" fill="#340000"/>
<rect x="76" y="262.40" width="8" height="1.56" fill="#360000"/>
<rect x="84" y="262.40" width="9" height="1.56" fill="#370000"/>
<rect x="93" y="262.40" width="8" height="1.56" fill="#390000"/>
<rect x="101" y="262.40" width="8" height="1.56" fill="#380000"/>
<rect x="109" y="262.40" width="9" height="1.56" fill="#3c0000"/>
<rect x="59" y="263.91" width="9" height="1.56" fill="#310000"/>
<rect x="68" y="263.91" width="8" height="1.56" fill="#350000"/>
<rect x="76" y="263.91" width="17" height="1.56" fill="#340000"/>
<rect x="93" y="263.91" width="8" height="1.56" fill="#370000"/>
<rect x="101" y="263.91" width="8" height="1.56" fill="#320000"/>
<rect x="109" y="263.91" width="9" height="1.56" fill="#310000"/>
<rect x="59" y="265.43" width="9" height="1.56" fill="#3d0000"/>
<rect x="68" y="265.43" width="8" height="1.56" fill="#430000"/>
<rect x="76" y="265.43" width="8" height="1.56" fill="#400000"/>
<rect x="84" y="265.43" width="9" height="1.56" fill="#350000"/>
<rect x="93" y="265.43" width="8" height="1.56" fill="#390000"/>
<rect x="101" y="265.43" width="8" height="1.56" fill="#3b0000"/>
<rect x="109" y="265.43" width="9" height="1.56" fill="#3a0000"/>
<rect x="59" y="266.94" width="9" height="1.56" fill="#350000"/>
<rect x="68" y="266.94" width="8" height="1.56" fill="#370000"/>
<rect x="76" y="266.94" width="8" height="1.56" fill="#390000"/>
<rect x="84" y="266.94" width="9" height="1.56" fill="#3b0000"/>
<rect x="93" y="266.94" width="8" height="1.56" fill="#400000"/>
<rect x="101" y="266.94" width="8" height="1.56" fill="#3f0000"/>
<rect x="109" y="266.94" width="9" height="1.56" fill="#410000"/>
<rect x="59" y="268.46" width="9" height="1.56" fill="#350000"/>
<rect x="68" y="268.46" width="8" height="1.56" fill="#380000"/>
<rect x="76" y="268.46" width="8" height="1.56" fill="#370000"/>
<rect x="84" y="268.46" width="9" height="1.56" fill="#3f0000"/>
<rect x="93" y="268.46" width="8" height="1.56" fill="#410000"/>
<rect x="101" y="268.46" width="8" height="1.56" fill="#3c0000"/>
<rect x="109" y="268.46" width="9" height="1.56" fill="#430000"/>
<rect x="59" y="269.97" width="9" height="1.56" fill="#380000"/>
<rect x="68" y="269.97" width="8" height="1.56" fill="#3e0000"/>
<rect x="76" y="269.97" width="8" height="1.56" fill="#3d0000"/>
<rect x="84" y="269.97" width="17" height="1.56" fill="#360000"/>
<rect x="101" y="269.97" width="8" height="1.56" fill="#370000"/>
<rect x="109" y="269.97" width="9" height="1.56" fill="#340000"/>
<rect x="59" y="271.49" width="9" height="1.56" fill="#3a0000"/>
<rect x="68" y="271.49" width="8" height="1.56" fill="#370000"/>
<rect x="76" y="271.49" width="8" height="1.56" fill="#390000"/>
<rect x="84" y="271.49" width="9" height="1.56" fill="#3c0000"/>
<rect x="93" y="271.49" width="8" height="1.56" fill="#420000"/>
<rect x="101" y="271.49" width="8" height="1.56" fill="#3b0000"/>
<rect x="109" y="271.49" width="9" height="1.56" fill="#3e0000"/>
<rect x="59" y="273.00" width="9" height="1.85" fill="#d30000"/>
<rect x="68" y="273.00" width="8" height="1.85" fill="#e10000"/>
<rect x="76" y="273.00" width="8" height="1.85" fill="#d80000"/>
<rect x="84" y="273.00" width="9" height="1.85" fill="#c40000"/>
<rect x="93" y="273.00" width="8" height="1.85" fill="#b10000"/>
<rect x="101" y="273.00" width="8" height="1.85" fill="#be0000"/>
<rect x="109" y="273.00" width="9" height="1.85" fill="#000000"/>
<rect x="59" y="274.80" width="9" height="1.85" fill="#ff0000"/>
<rect x="68" y="274.80" width="8" height="1.85" fill="#f00000"/>
<rect x="76" y="274.80" width="8" height="1.85" fill="#e80000"/>
<rect x="84" y="274.80" width="9" height="1.85" fill="#a10000"/>
<rect x="93" y="274.80" width="8" height="1.85" fill="#9c0000"/>
<rect x="101" y="274.80" width="8" height="1.85" fill="#b00000"/>
<rect x="109" y="274.80" width="9" height="1.85" fill="#000000"/>
<rect x="59" y="276.60" width="9" height="1.80" fill="#c00000"/>
<rect x="68" y="276.60" width="8" height="1.80" fill="#bd0000"/>
<rect x="76" y="276.60" width="8" height="1.80" fill="#c40000"/>
<rect x="84" y="276.60" width="9" height="1.80" fill="#ae0000"/>
<rect x="93" y="276.60" width="8" height="1.80" fill="#a80000"/>
<rect x="101" y="276.60" width="8" height="1.80" fill="#a40000"/>
<rect x="109" y="276.60" width="9" height="1.80" fill="#0f0f00"/>
<rect x="59" y="278.35" width="9" height="1.80" fill="#c20000"/>
<rect x="68" y="278.35" width="8" height="1.80" fill="#af0000"/>
<rect x="76" y="278.35" width="8" height="1.80" fill="#b20000"/>
<rect x="84" y="278.35" width="9" height="1.80" fill="#d00000"/>
<rect x="93" y="278.35" width="8" height="1.80" fill="#b50000"/>
<rect x="101" y="278.35" width="8" height="1.80" fill="#bf0000"/>
<rect x="109" y="278.35" width="9" height="1.80" fill="#0f0f00"/>
<rect x="59" y="280.10" width="9" height="1.63" fill="#ce0000"/>
<rect x="68" y="280.10" width="8" height="1.63" fill="#c70000"/>
<rect x="76" y="280.10" width="8" height="1.63" fill="#d80000"/>
<rect x="84" y="280.10" width="9" height="1.63" fill="#bf0000"/>
<rect x="93" y="280.10" width="8" height="1.63" fill="#c50000"/>
<rect x="101" y="280.10" width="8" height="1.63" fill="#cd0000"/>
<rect x="109" y="280.10" width="9" height="1.63" fill="#000000"/>
<rect x="59" y="281.68" width="9" height="1.63" fill="#c20000"/>
<rect x="68" y="281.68" width="8" height="1.63" fill="#cd0000"/>
<rect x="76" y="281.68" width="8" height="1.63" fill="#bf0000"/>
<rect x="84" y="281.68" width="9" height="1.63" fill="#be0000"/>
<rect x="93" y="281.68" width="8" height="1.63" fill="#d40000"/>
<rect x="101" y="281.68" width="8" height="1.63" fill="#c50000"/>
<rect x="109" y="281.68" width="9" height="1.63" fill="#000000"/>
<rect x="59" y="283.26" width="9" height="1.63" fill="#d30000"/>
<rect x="68" y="283.26" width="8" height="1.63" fill="#cd0000"/>
<rect x="76" y="283.26" width="8" height="1.63" fill="#ce0000"/>
<rect x="84" y="283.26" width="9" height="1.63" fill="#da0000"/>
<rect x="93" y="283.26" width="8" height="1.63" fill="#f20000"/>
<rect x="101" y="283.26" width="8" height="1.63" fill="#ea0000"/>
<rect x="109" y="283.26" width="9" height="1.63" fill="#000000"/>
<rect x="59" y="284.84" width="9" height="1.63" fill="#d30000"/>
<rect x="68" y="284.84" width="8" height="1.63" fill="#d40000"/>
<rect x="76" y="284.84" width="8" height="1.63" fill="#ed0000"/>
<rect x="84" y="284.84" width="9" height="1.63" fill="#ce0000"/>
<rect x="93" y="284.84" width="8" height="1.63" fill="#bc0000"/>
<rect x="101" y="284.84" width="8" height="1.63" fill="#b70000"/>
<rect x="109" y="284.84" width="9" height="1.63" fill="#000000"/>
<rect x="59" y="286.42" width="9" height="1.63" fill="#be0000"/>
<rect x="68" y="286.42" width="8" height="1.63" fill="#d10000"/>
<rect x="76" y="286.42" width="8" height="1.63" fill="#bf0000"/>
<rect x="84" y="286.42" width="9" height="1.63" fill="#fa0000"/>
<rect x="93" y="286.42" width="8" height="1.63" fill="#e80000"/>
<rect x="101" y="286.42" width="8" height="1.63" fill="#df0000"/>
<rect x="109" y="286.42" width="9" height="1.63" fill="#000000"/>
<rect x="59" y="288.00" width="9" height="1.65" fill="#7b0000"/>
<rect x="68" y="288.00" width="8" height="1.65" fill="#850000"/>
<rect x="76" y="288.00" width="8" height="1.65" fill="#710000"/>
<rect x="84" y="288.00" width="17" height="1.65" fill="#990000"/>
<rect x="101" y="288.00" width="8" height="1.65" fill="#950000"/>
<rect x="109" y="288.00" width="9" height="1.65" fill="#8e0000"/>
<rect x="59" y="289.60" width="9" height="1.58" fill="#f60000"/>
<rect x="68" y="289.60" width="8" height="1.58" fill="#e40000"/>
<rect x="76" y="289.60" width="8" height="1.58" fill="#ec0000"/>
<rect x="84" y="289.60" width="9" height="1.58" fill="#e30000"/>
<rect x="93" y="289.60" width="8" height="1.58" fill="#d80000"/>
<rect x="101" y="289.60" width="8" height="1.58" fill="#d30000"/>
<rect x="109" y="289.60" width="9" height="1.58" fill="#e10000"/>
<rect x="59" y="291.13" width="9" height="1.58" fill="#fa0000"/>
<rect x="68" y="291.13" width="8" height="1.58" fill="#ff0000"/>
<rect x="76" y="291.13" width="8" height="1.58" fill="#f40000"/>
<rect x="84" y="291.13" width="9" height="1.58" fill="#ff0000"/>
<rect x="93" y="291.13" width="8" height="1.58" fill="#ee0000"/>
<rect x="101" y="291.13" width="17" height="1.58" fill="#ff0000"/>
<rect x="59" y="292.67" width="25" height="1.58" fill="#ff0000"/>
<rect x="84" y="292.67" width="9" height="1.58" fill="#d20000"/>
<rect x="93" y="292.67" width="8" height="1.58" fill="#f00000"/>
<rect x="101" y="292.67" width="8" height="1.58" fill="#df0000"/>
<rect x="109" y="292.67" width="9" height="1.58" fill="#ef0000"/>
<rect x="59" y="294.20" width="9" height="1.58" fill="#f30000"/>
<rect x="68" y="294.20" width="8" height="1.58" fill="#ea0000"/>
<rect x="76" y="294.20" width="8" height="1.58" fill="#ed0000"/>
<rect x="84" y="294.20" width="9" height="1.58" fill="#fd0000"/>
<rect x="93" y="294.20" width="8" height="1.58" fill="#ff0000"/>
<rect x="101" y="294.20" width="8" height="1.58" fill="#f30000"/>
<rect x="109" y="294.20" width="9" height="1.58" fill="#ff0000"/>
<rect x="59" y="295.73" width="9" height="1.58" fill="#d50000"/>
<rect x="68" y="295.73" width="8" height="1.58" fill="#d10000"/>
<rect x="76" y="295.73" width="8" height="1.58" fill="#e30000"/>
<rect x="84" y="295.73" width="9" height="1.58" fill="#e50000"/>
<rect x="93" y="295.73" width="8" height="1.58" fill="#cf0000"/>
<rect x="101" y="295.73" width="8" height="1.58" fill="#ce0000"/>
<rect x="109" y="295.73" width="9" height="1.58" fill="#da0000"/>
<rect x="59" y="297.27" width="9" height="1.58" fill="#e80000"/>
<rect x="68" y="297.27" width="16" height="1.58" fill="#e60000"/>
<rect x="84" y="297.27" width="9" height="1.58" fill="#fc0000"/>
<rect x="93" y="297.27" width="8" height="1.58" fill="#f10000"/>
<rect x="101" y="297.27" width="8" height="1.58" fill="#fa0000"/>
<rect x="109" y="297.27" width="9" height="1.58" fill="#ff0000"/>
<rect x="59" y="298.80" width="9" height="1.25" fill="#610000"/>
<rect x="68" y="298.80" width="8" height="1.25" fill="#620000"/>
<rect x="76" y="298.80" width="8" height="1.25" fill="#5a0000"/>
<rect x="84" y="298.80" width="9" height="1.25" fill="#500000"/>
<rect x="93" y="298.80" width="8" height="1.25" fill="#4b0000"/>
<rect x="101" y="298.80" width="8" height="1.25" fill="#4e0000"/>
<rect x="109" y="298.80" width="9" height="1.25" fill="#19330c"/>
<rect x="59" y="300.00" width="9" height="1.25" fill="#5e0000"/>
<rect x="68" y="300.00" width="8" height="1.25" fill="#5b0000"/>
<rect x="76" y="300.00" width="8" height="1.25" fill="#540000"/>
<rect x="84" y="300.00" width="9" height="1.25" fill="#590000"/>
<rect x="93" y="300.00" width="8" height="1.25" fill="#570000"/>
<rect x="101" y="300.00" width="8" height="1.25" fill="#580000"/>
<rect x="109" y="300.00" width="9" height="1.25" fill="#1a340d"/>
<rect x="59" y="301.20" width="9" height="1.57" fill="#2e0000"/>
<rect x="68" y="301.20" width="8" height="1.57" fill="#2f0000"/>
<rect x="76" y="301.20" width="8" height="1.57" fill="#260000"/>
<rect x="84" y="301.20" width="9" height="1.57" fill="#330000"/>
<rect x="93" y="301.20" width="8" height="1.57" fill="#3b0000"/>
<rect x="101" y="301.20" width="8" height="1.57" fill="#3e0000"/>
<rect x="109" y="301.20" width="9" height="1.57" fill="#3d0000"/>
<rect x="59" y="302.72" width="9" height="1.57" fill="#2d0000"/>
<rect x="68" y="302.72" width="8" height="1.57" fill="#2b0000"/>
<rect x="76" y="302.72" width="8" height="1.57" fill="#270000"/>
<rect x="84" y="302.72" width="9" height="1.57" fill="#400000"/>
<rect x="93" y="302.72" width="8" height="1.57" fill="#3b0000"/>
<rect x="101" y="302.72" width="8" height="1.57" fill="#3d0000"/>
<rect x="109" y="302.72" width="9" height="1.57" fill="#380000"/>
<rect x="59" y="304.25" width="9" height="1.57" fill="#2a0000"/>
<rect x="68" y="304.25" width="8" height="1.57" fill="#2c0000"/>
<rect x="76" y="304.25" width="8" height="1.57" fill="#2f0000"/>
<rect x="84" y="304.25" width="17" height="1.57" fill="#450000"/>
<rect x="101" y="304.25" width="8" height="1.57" fill="#440000"/>
<rect x="109" y="304.25" width="9" height="1.57" fill="#480000"/>
<rect x="59" y="305.77" width="9" height="1.57" fill="#340000"/>
<rect x="68" y="305.77" width="8" height="1.57" fill="#320000"/>
<rect x="76" y="305.77" width="8" height="1.57" fill="#340000"/>
<rect x="84" y="305.77" width="9" height="1.57" fill="#3e0000"/>
<rect x="93" y="305.77" width="8" height="1.57" fill="#400000"/>
<rect x="101" y="305.77" width="8" height="1.57" fill="#440000"/>
<rect x="109" y="305.77" width="9" height="1.57" fill="#3f0000"/>
<rect x="59" y="307.30" width="9" height="1.57" fill="#290000"/>
<rect x="68" y="307.30" width="8" height="1.57" fill="#2b0000"/>
<rect x="76" y="307.30" width="8" height="1.57" fill="#2e0000"/>
<rect x="84" y="307.30" width="9" height="1.57" fill="#3d0000"/>
<rect x="93" y="307.30" width="8" height="1.57" fill="#3b0000"/>
<rect x="101" y="307.30" width="8" height="1.57" fill="#3e0000"/>
<rect x="109" y="307.30" width="9" height="1.57" fill="#3d0000"/>
<rect x="59" y="308.82" width="9" height="1.57" fill="#2f0000"/>
<rect x="68" y="308.82" width="8" height="1.57" fill="#2e0000"/>
<rect x="76" y="308.82" width="8" height="1.57" fill="#2d0000"/>
<rect x="84" y="308.82" width="9" height="1.57" fill="#480000"/>
<rect x="93" y="308.82" width="8" height="1.57" fill="#440000"/>
<rect x="101" y="308.82" width="8" height="1.57" fill="#4a0000"/>
<rect x="109" y="308.82" width="9" height="1.57" fill="#440000"/>
<rect x="59" y="310.35" width="9" height="1.57" fill="#340000"/>
<rect x="68" y="310.35" width="8" height="1.57" fill="#2b0000"/>
<rect x="76" y="310.35" width="8" height="1.57" fill="#300000"/>
<rect x="84" y="310.35" width="9" height="1.57" fill="#3e0000"/>
<rect x="93" y="310.35" width="8" height="1.57" fill="#3d0000"/>
<rect x="101" y="310.35" width="8" height="1.57" fill="#410000"/>
<rect x="109" y="310.35" width="9" height="1.57" fill="#450000"/>
<rect x="59" y="311.88" width="9" height="1.57" fill="#2e0000"/>
<rect x="68" y="311.88" width="8" height="1.57" fill="#2c0000"/>
<rect x="76" y="311.88" width="8" height="1.57" fill="#290000"/>
<rect x="84" y="311.88" width="9" height="1.57" fill="#3f0000"/>
<rect x="93" y="311.88" width="8" height="1.57" fill="#3e0000"/>
<rect x="101" y="311.88" width="8" height="1.57" fill="#3c0000"/>
<rect x="109" y="311.88" width="9" height="1.57" fill="#3b0000"/>
</g>
<path d="M24.5 1.5H87.3M24.5 1.5V82.1M87.3 1.5V79.7M11.3 82.1H38.1M11.3 82.1V87.1M5.5 87.1H18.1M5.5 87.1V101.0M18.1 87.1V91.3M13.6 91.3H21.9M13.6 91.3V101.0M21.9 91.3V101.0M38.1 82.1V88.5M30.9 88.5H45.0M30.9 88.5V101.0M45.0 88.5V91.7M38.4 91.7H51.3M38.4 91.7V101.0M51.3 91.7V94.5M47.3 94.5H56.2M47.3 94.5V101.0M56.2 94.5V101.0M70.2 79.7H105.1M70.2 79.7V94.5M63.7 94.5H76.3M63.7 94.5V101.0M76.3 94.5V96.5M72.5 96.5H81.2M72.5 96.5V101.0M81.2 96.5V101.0M105.1 79.7V89.8M95.6 89.8H114.2M114.2 89.8V101.0M95.6 89.8V94.9M89.3 94.9H101.4M89.3 94.9V101.0M101.4 94.9V97.6M97.8 97.6H106.1M97.8 97.6V101.0M106.1 97.6V101.0" stroke="#3a3a3a" stroke-width="1.2" fill="none" stroke-linecap="square"/>
<text x="0.86" y="14.00" font-size="18.20" font-weight="bold" fill="#000" textLength="12.70" lengthAdjust="spacingAndGlyphs">A</text>
<text x="7.21" y="326.80" font-size="8.14" fill="#1a1a1a" textLength="12.85" lengthAdjust="spacingAndGlyphs" stroke="#1a1a1a" stroke-width="0.3">Res</text>
<text x="33.07" y="326.80" font-size="8.14" fill="#1a1a1a" textLength="17.64" lengthAdjust="spacingAndGlyphs" stroke="#1a1a1a" stroke-width="0.3">IL-4c</text>
<text x="64.43" y="326.80" font-size="8.14" fill="#1a1a1a" textLength="14.89" lengthAdjust="spacingAndGlyphs" stroke="#1a1a1a" stroke-width="0.3">Thio</text>
<text x="91.52" y="326.80" font-size="8.14" fill="#1a1a1a" textLength="22.17" lengthAdjust="spacingAndGlyphs" stroke="#1a1a1a" stroke-width="0.3">Thio +</text>
<text x="93.28" y="336.50" font-size="8.14" fill="#1a1a1a" textLength="17.32" lengthAdjust="spacingAndGlyphs" stroke="#1a1a1a" stroke-width="0.3">IL-4c</text>
<text x="126.74" y="13.80" font-size="17.10" font-weight="bold" fill="#000" textLength="12.55" lengthAdjust="spacingAndGlyphs">B</text>
<rect x="147.5" y="5.5" width="150.0" height="103.0" fill="#fff"/>
<path d="M147.5 14.50H297.5M147.5 24.95H297.5M147.5 35.40H297.5M147.5 45.85H297.5M147.5 56.30H297.5M147.5 66.75H297.5M147.5 77.20H297.5M147.5 87.65H297.5M147.5 98.10H297.5M170.5 5.5V108.5M199.6 5.5V108.5M229.0 5.5V108.5M258.4 5.5V108.5M287.8 5.5V108.5" stroke="#e2e2e2" stroke-width="0.9" fill="none"/>
<g clip-path="url(#plotclip)">
<path d="M142.50 105.96L302.50 -6.04M142.50 118.13L302.50 5.33M142.50 128.84L302.50 16.84" stroke="#c2c8c2" stroke-width="0.9" fill="none"/>
</g>
<path d="M145.7 14.50H147.5M145.7 24.95H147.5M145.7 35.40H147.5M145.7 45.85H147.5M145.7 56.30H147.5M145.7 66.75H147.5M145.7 77.20H147.5M145.7 87.65H147.5M145.7 98.10H147.5M170.5 108.5V110.3M199.6 108.5V110.3M229.0 108.5V110.3M258.4 108.5V110.3M287.8 108.5V110.3" stroke="#888" stroke-width="0.9" fill="none"/>
<defs><clipPath id="plotclip"><rect x="147.5" y="5.5" width="150.0" height="103.0"/></clipPath>
<linearGradient id="sg" gradientUnits="userSpaceOnUse" x1="150" y1="0" x2="300" y2="0">
<stop offset="0.000" stop-color="#23238c"/>
<stop offset="0.167" stop-color="#2d2d87"/>
<stop offset="0.220" stop-color="#484b7d"/>
<stop offset="0.267" stop-color="#5a5c73"/>
<stop offset="0.313" stop-color="#686864"/>
<stop offset="0.367" stop-color="#767656"/>
<stop offset="0.413" stop-color="#91913c"/>
<stop offset="0.467" stop-color="#b4b228"/>
<stop offset="0.533" stop-color="#d0c81e"/>
<stop offset="0.600" stop-color="#d7a523"/>
<stop offset="0.667" stop-color="#d47d26"/>
<stop offset="0.733" stop-color="#ce5820"/>
<stop offset="0.787" stop-color="#c83719"/>
<stop offset="0.840" stop-color="#c41c12"/>
<stop offset="1.000" stop-color="#c80f0f"/>
</linearGradient></defs>
<polygon points="196.0,31.0 200.0,31.0 205.8,30.0 213.5,28.0 217.3,30.4 223.0,31.0 228.8,33.8 233.9,39.0 240.5,47.4 245.0,55.5 251.6,57.0 260.5,57.5 269.4,57.6 272.7,58.5 273.8,68.3 273.4,79.4 274.9,88.2 269.4,92.7 262.7,94.9 256.0,96.0 247.2,96.0 240.5,97.1 236.1,101.5 231.7,99.3 228.8,94.9 228.0,86.0 224.5,77.3 221.0,69.5 216.5,63.5 212.0,57.8 205.8,54.0 200.0,54.5 197.0,53.0 193.0,45.0 192.0,36.0 194.0,31.0" fill="url(#sg)"/>
<g clip-path="url(#plotclip)">
<circle cx="214.1" cy="32.7" r="1.05" fill="#a1a13e"/>
<circle cx="272.1" cy="68.5" r="1.05" fill="#c02310"/>
<circle cx="226.1" cy="45.2" r="1.05" fill="#d3ce30"/>
<circle cx="237.4" cy="64.1" r="1.05" fill="#e7c034"/>
<circle cx="255.1" cy="68.1" r="1.05" fill="#e37c35"/>
<circle cx="239.3" cy="68.7" r="1.05" fill="#d4a520"/>
<circle cx="228.1" cy="75.8" r="1.05" fill="#b4ad09"/>
<circle cx="249.2" cy="74.4" r="1.05" fill="#ec983e"/>
<circle cx="196.0" cy="40.8" r="1.05" fill="#606060"/>
<circle cx="225.8" cy="66.2" r="1.05" fill="#d7d135"/>
<circle cx="260.2" cy="92.6" r="1.05" fill="#c24c14"/>
<circle cx="222.6" cy="50.1" r="1.05" fill="#ceca38"/>
<circle cx="200.4" cy="39.5" r="1.05" fill="#606050"/>
<circle cx="229.1" cy="69.5" r="1.05" fill="#c1ba13"/>
<circle cx="272.6" cy="78.0" r="1.05" fill="#c62815"/>
<circle cx="241.4" cy="76.8" r="1.05" fill="#c0880d"/>
<circle cx="267.7" cy="85.5" r="1.05" fill="#da4b2c"/>
<circle cx="199.1" cy="48.6" r="1.05" fill="#555549"/>
<circle cx="207.5" cy="49.2" r="1.05" fill="#787846"/>
<circle cx="272.4" cy="64.4" r="1.05" fill="#b41603"/>
<circle cx="264.3" cy="78.5" r="1.05" fill="#be3a10"/>
<circle cx="218.1" cy="34.0" r="1.05" fill="#b9b73a"/>
<circle cx="233.5" cy="85.4" r="1.05" fill="#c9b317"/>
<circle cx="259.0" cy="88.7" r="1.05" fill="#da672c"/>
<circle cx="204.5" cy="39.1" r="1.05" fill="#656547"/>
<circle cx="267.7" cy="90.6" r="1.05" fill="#c73718"/>
<circle cx="244.7" cy="87.2" r="1.05" fill="#c07d0f"/>
<circle cx="256.8" cy="83.0" r="1.05" fill="#ce6220"/>
<circle cx="195.8" cy="32.7" r="1.05" fill="#797a7a"/>
<circle cx="244.4" cy="64.2" r="1.05" fill="#eba93a"/>
<circle cx="207.4" cy="44.6" r="1.05" fill="#727240"/>
<circle cx="223.0" cy="31.0" r="1.05" fill="#d0cd39"/>
<circle cx="216.9" cy="58.5" r="1.05" fill="#aaa933"/>
<circle cx="269.3" cy="62.1" r="1.05" fill="#c83419"/>
<circle cx="224.9" cy="35.4" r="1.05" fill="#a9a40a"/>
<circle cx="228.0" cy="80.9" r="1.05" fill="#cdc622"/>
<circle cx="235.7" cy="85.9" r="1.05" fill="#c0a00d"/>
<circle cx="231.2" cy="67.2" r="1.05" fill="#ddd02b"/>
<circle cx="241.0" cy="62.5" r="1.05" fill="#d7a123"/>
<circle cx="248.4" cy="58.0" r="1.05" fill="#d68427"/>
<circle cx="249.0" cy="93.6" r="1.05" fill="#ea963b"/>
<circle cx="271.7" cy="90.6" r="1.05" fill="#b31803"/>
<circle cx="256.9" cy="95.4" r="1.05" fill="#be5210"/>
<circle cx="250.6" cy="75.5" r="1.05" fill="#c16813"/>
<circle cx="221.0" cy="60.9" r="1.05" fill="#cfcc3f"/>
<circle cx="224.1" cy="63.3" r="1.05" fill="#b7b31b"/>
<circle cx="202.2" cy="46.8" r="1.05" fill="#7c7c66"/>
<circle cx="268.8" cy="88.8" r="1.05" fill="#bb280c"/>
<circle cx="237.1" cy="78.8" r="1.05" fill="#c09a0d"/>
<circle cx="271.3" cy="73.3" r="1.05" fill="#d53b25"/>
<circle cx="226.2" cy="48.5" r="1.05" fill="#c8c224"/>
<circle cx="202.8" cy="46.2" r="1.05" fill="#686850"/>
<circle cx="252.2" cy="66.3" r="1.05" fill="#c36515"/>
<circle cx="224.2" cy="61.6" r="1.05" fill="#d0cb34"/>
<circle cx="220.6" cy="62.6" r="1.05" fill="#bebc30"/>
<circle cx="261.4" cy="79.4" r="1.05" fill="#d35925"/>
<circle cx="221.6" cy="49.2" r="1.05" fill="#a29f10"/>
<circle cx="262.2" cy="93.1" r="1.05" fill="#d45726"/>
<circle cx="210.2" cy="40.3" r="1.05" fill="#7f7f38"/>
<circle cx="226.7" cy="33.2" r="1.05" fill="#c4be1e"/>
<circle cx="212.8" cy="50.0" r="1.05" fill="#7b7b21"/>
<circle cx="219.5" cy="59.9" r="1.05" fill="#b1b029"/>
<circle cx="212.3" cy="39.6" r="1.05" fill="#96963f"/>
<circle cx="233.2" cy="83.0" r="1.05" fill="#dac427"/>
<circle cx="250.6" cy="93.8" r="1.05" fill="#ce7520"/>
<circle cx="261.7" cy="94.9" r="1.05" fill="#d35724"/>
<circle cx="252.2" cy="88.2" r="1.05" fill="#c06212"/>
<circle cx="232.7" cy="62.4" r="1.05" fill="#e2cf30"/>
<circle cx="258.8" cy="89.4" r="1.05" fill="#d26024"/>
<circle cx="267.0" cy="77.4" r="1.05" fill="#d24423"/>
<circle cx="196.4" cy="50.3" r="1.05" fill="#535351"/>
<circle cx="261.7" cy="66.9" r="1.05" fill="#d35724"/>
<circle cx="242.2" cy="77.2" r="1.05" fill="#d59b23"/>
<circle cx="253.6" cy="62.2" r="1.05" fill="#d37125"/>
<circle cx="229.9" cy="52.1" r="1.05" fill="#cec61d"/>
<circle cx="247.6" cy="84.4" r="1.05" fill="#da8c2b"/>
<circle cx="197.7" cy="41.3" r="1.05" fill="#75756e"/>
<circle cx="248.4" cy="76.8" r="1.05" fill="#ca791b"/>
<circle cx="232.0" cy="59.0" r="1.05" fill="#cfbf1d"/>
<circle cx="209.0" cy="37.6" r="1.05" fill="#9b9b5d"/>
<circle cx="260.3" cy="62.7" r="1.05" fill="#e16a33"/>
<circle cx="267.5" cy="60.8" r="1.05" fill="#b02101"/>
<circle cx="225.9" cy="45.4" r="1.05" fill="#b2ad10"/>
<circle cx="216.0" cy="46.6" r="1.05" fill="#b3b243"/>
<circle cx="270.2" cy="79.9" r="1.05" fill="#db432b"/>
<circle cx="211.0" cy="51.3" r="1.05" fill="#87873a"/>
<circle cx="217.5" cy="56.0" r="1.05" fill="#9e9c22"/>
<circle cx="201.7" cy="51.4" r="1.05" fill="#868672"/>
<circle cx="266.2" cy="88.2" r="1.05" fill="#cf4421"/>
<circle cx="235.1" cy="80.4" r="1.05" fill="#bd9f0a"/>
<circle cx="252.1" cy="57.9" r="1.05" fill="#df8131"/>
<circle cx="216.0" cy="45.0" r="1.05" fill="#aead3e"/>
<circle cx="235.8" cy="53.1" r="1.05" fill="#c3a210"/>
<circle cx="199.0" cy="37.5" r="1.05" fill="#7f7f74"/>
<circle cx="230.2" cy="38.5" r="1.05" fill="#e4db32"/>
<circle cx="197.0" cy="36.2" r="1.05" fill="#53534f"/>
<circle cx="206.2" cy="41.7" r="1.05" fill="#7e7e54"/>
<circle cx="266.5" cy="83.0" r="1.05" fill="#c43815"/>
<circle cx="222.5" cy="64.0" r="1.05" fill="#b4b11f"/>
<circle cx="242.6" cy="92.5" r="1.05" fill="#c88c15"/>
<circle cx="209.2" cy="40.9" r="1.05" fill="#818141"/>
<circle cx="262.9" cy="93.3" r="1.05" fill="#b33405"/>
<circle cx="267.3" cy="59.8" r="1.05" fill="#cc3e1d"/>
<circle cx="270.2" cy="89.3" r="1.05" fill="#d84128"/>
<circle cx="194.1" cy="33.0" r="1.05" fill="#63646b"/>
<circle cx="251.1" cy="74.4" r="1.05" fill="#e08632"/>
<circle cx="226.5" cy="66.3" r="1.05" fill="#afa90a"/>
<circle cx="269.6" cy="74.2" r="1.05" fill="#bd270d"/>
<circle cx="195.9" cy="41.2" r="1.05" fill="#6c6c6d"/>
<circle cx="238.2" cy="52.6" r="1.05" fill="#c79d14"/>
<circle cx="273.2" cy="74.1" r="1.05" fill="#d83827"/>
<circle cx="228.2" cy="39.7" r="1.05" fill="#beb713"/>
<circle cx="273.3" cy="79.2" r="1.05" fill="#bb1b0a"/>
<circle cx="252.7" cy="62.4" r="1.05" fill="#c36415"/>
<circle cx="230.1" cy="35.7" r="1.05" fill="#c2b910"/>
<circle cx="220.6" cy="37.9" r="1.05" fill="#cdcb3f"/>
<circle cx="218.8" cy="47.9" r="1.05" fill="#9e9c1a"/>
<circle cx="203.3" cy="50.0" r="1.05" fill="#838369"/>
<circle cx="202.0" cy="50.6" r="1.05" fill="#84846f"/>
<circle cx="259.5" cy="84.4" r="1.05" fill="#b74209"/>
<circle cx="253.5" cy="95.5" r="1.05" fill="#c9681b"/>
<circle cx="252.7" cy="89.1" r="1.05" fill="#e08032"/>
<circle cx="240.5" cy="47.5" r="1.05" fill="#cd9a1a"/>
<circle cx="235.4" cy="47.4" r="1.05" fill="#ebcd38"/>
<circle cx="250.0" cy="57.5" r="1.05" fill="#c66f18"/>
<circle cx="222.8" cy="72.1" r="1.05" fill="#c4c02d"/>
<circle cx="253.6" cy="91.1" r="1.05" fill="#da782c"/>
<circle cx="202.5" cy="40.8" r="1.05" fill="#64644d"/>
<circle cx="237.8" cy="47.4" r="1.05" fill="#d0a71c"/>
<circle cx="260.2" cy="90.6" r="1.05" fill="#e26b34"/>
<circle cx="195.1" cy="35.9" r="1.05" fill="#7b7c7f"/>
<circle cx="238.2" cy="98.1" r="1.05" fill="#cfa41b"/>
<circle cx="264.5" cy="57.7" r="1.05" fill="#be3910"/>
<circle cx="218.3" cy="31.9" r="1.05" fill="#9d9c1d"/>
<circle cx="213.0" cy="37.1" r="1.05" fill="#a4a448"/>
<circle cx="235.2" cy="73.7" r="1.05" fill="#bfa10c"/>
<circle cx="222.1" cy="43.8" r="1.05" fill="#b0ad1c"/>
<circle cx="236.7" cy="50.0" r="1.05" fill="#d0ac1d"/>
<circle cx="217.8" cy="36.6" r="1.05" fill="#b5b438"/>
<circle cx="266.1" cy="58.7" r="1.05" fill="#b82d09"/>
<circle cx="243.6" cy="96.4" r="1.05" fill="#c1820f"/>
<circle cx="241.9" cy="51.2" r="1.05" fill="#d69d23"/>
<circle cx="197.6" cy="43.8" r="1.05" fill="#6a6a64"/>
<circle cx="229.6" cy="87.6" r="1.05" fill="#e6de35"/>
<circle cx="202.4" cy="30.6" r="1.05" fill="#878770"/>
<circle cx="241.7" cy="89.3" r="1.05" fill="#c58d12"/>
<circle cx="204.3" cy="53.6" r="1.05" fill="#757558"/>
<circle cx="236.3" cy="83.6" r="1.05" fill="#bd9a0a"/>
<circle cx="239.8" cy="66.2" r="1.05" fill="#ddac29"/>
<circle cx="212.5" cy="55.3" r="1.05" fill="#97973e"/>
<circle cx="225.6" cy="56.8" r="1.05" fill="#aba60a"/>
<circle cx="241.6" cy="61.1" r="1.05" fill="#c99116"/>
<circle cx="255.0" cy="85.5" r="1.05" fill="#ce6820"/>
<circle cx="225.1" cy="62.9" r="1.05" fill="#aba60b"/>
<circle cx="252.2" cy="85.3" r="1.05" fill="#d37525"/>
<circle cx="200.9" cy="33.5" r="1.05" fill="#848472"/>
<circle cx="247.2" cy="95.2" r="1.05" fill="#c47714"/>
<circle cx="233.4" cy="73.5" r="1.05" fill="#cbb518"/>
<circle cx="265.2" cy="66.6" r="1.05" fill="#ce461f"/>
<circle cx="237.7" cy="50.3" r="1.05" fill="#e2ba2f"/>
<circle cx="225.1" cy="34.8" r="1.05" fill="#cec92f"/>
<circle cx="224.2" cy="63.1" r="1.05" fill="#d3cf37"/>
<circle cx="196.3" cy="39.1" r="1.05" fill="#6e6e6d"/>
<circle cx="217.2" cy="38.8" r="1.05" fill="#abaa33"/>
<circle cx="242.0" cy="59.9" r="1.05" fill="#c48a11"/>
<circle cx="243.4" cy="93.2" r="1.05" fill="#e4a532"/>
<circle cx="221.4" cy="42.2" r="1.05" fill="#9f9c0e"/>
<circle cx="244.0" cy="67.2" r="1.05" fill="#ce8d1c"/>
<circle cx="244.0" cy="57.3" r="1.05" fill="#ebaa3a"/>
<circle cx="233.4" cy="54.1" r="1.05" fill="#c5ae12"/>
<circle cx="231.1" cy="73.9" r="1.05" fill="#e0d32e"/>
<circle cx="200.2" cy="46.0" r="1.05" fill="#636354"/>
<circle cx="256.8" cy="80.1" r="1.05" fill="#b74b09"/>
<circle cx="262.5" cy="82.6" r="1.05" fill="#ca4b1c"/>
<circle cx="253.0" cy="58.0" r="1.05" fill="#c46416"/>
<circle cx="193.8" cy="39.5" r="1.05" fill="#4a4b53"/>
<circle cx="248.6" cy="91.0" r="1.05" fill="#de8d30"/>
<circle cx="232.7" cy="42.3" r="1.05" fill="#d8c526"/>
<circle cx="208.2" cy="39.8" r="1.05" fill="#8e8e56"/>
<circle cx="271.9" cy="82.7" r="1.05" fill="#bd210c"/>
<circle cx="242.7" cy="78.2" r="1.05" fill="#dea22c"/>
<circle cx="262.1" cy="78.6" r="1.05" fill="#de6130"/>
<circle cx="237.0" cy="45.9" r="1.05" fill="#c6a013"/>
<circle cx="243.0" cy="78.5" r="1.05" fill="#e1a52f"/>
<circle cx="260.2" cy="94.9" r="1.05" fill="#b8410a"/>
<circle cx="259.5" cy="73.3" r="1.05" fill="#de6a30"/>
<circle cx="213.7" cy="55.6" r="1.05" fill="#807f1f"/>
<circle cx="207.9" cy="43.7" r="1.05" fill="#8b8b56"/>
<circle cx="218.2" cy="46.9" r="1.05" fill="#c3c143"/>
<circle cx="230.8" cy="91.5" r="1.05" fill="#d6ca24"/>
<circle cx="229.7" cy="86.9" r="1.05" fill="#bfb70e"/>
<circle cx="230.0" cy="49.2" r="1.05" fill="#e0d82e"/>
<circle cx="210.4" cy="38.0" r="1.05" fill="#94944b"/>
<circle cx="257.3" cy="78.6" r="1.05" fill="#dd702f"/>
<circle cx="221.3" cy="53.1" r="1.05" fill="#cbc83a"/>
<circle cx="230.6" cy="51.9" r="1.05" fill="#e3d931"/>
<circle cx="233.4" cy="83.4" r="1.05" fill="#dfc82c"/>
<circle cx="214.4" cy="33.0" r="1.05" fill="#acab47"/>
<circle cx="245.6" cy="82.3" r="1.05" fill="#c47e14"/>
<circle cx="206.1" cy="36.1" r="1.05" fill="#707047"/>
<circle cx="249.4" cy="90.9" r="1.05" fill="#c26e14"/>
<circle cx="198.5" cy="40.8" r="1.05" fill="#616158"/>
<circle cx="214.5" cy="35.9" r="1.05" fill="#b3b34d"/>
<circle cx="257.9" cy="81.6" r="1.05" fill="#cb5c1d"/>
<circle cx="193.9" cy="37.3" r="1.05" fill="#5c5d64"/>
<circle cx="257.6" cy="78.2" r="1.05" fill="#cf6121"/>
<circle cx="242.8" cy="58.9" r="1.05" fill="#c48711"/>
<circle cx="240.1" cy="54.0" r="1.05" fill="#e3b02f"/>
<circle cx="237.4" cy="82.9" r="1.05" fill="#d1aa1d"/>
<circle cx="265.8" cy="85.0" r="1.05" fill="#d34924"/>
<circle cx="263.3" cy="77.1" r="1.05" fill="#d25124"/>
<circle cx="226.2" cy="46.3" r="1.05" fill="#cbc628"/>
<circle cx="256.8" cy="79.9" r="1.05" fill="#d66a28"/>
<circle cx="226.3" cy="72.2" r="1.05" fill="#c1bb1d"/>
<circle cx="271.5" cy="63.6" r="1.05" fill="#b21702"/>
<circle cx="237.4" cy="65.4" r="1.05" fill="#e0b82c"/>
<circle cx="231.6" cy="73.7" r="1.05" fill="#e1d22f"/>
<circle cx="232.5" cy="54.5" r="1.05" fill="#e8d535"/>
<circle cx="209.5" cy="53.6" r="1.05" fill="#6f6f2c"/>
<circle cx="222.9" cy="55.3" r="1.05" fill="#c6c22e"/>
<circle cx="216.7" cy="42.3" r="1.05" fill="#979622"/>
<circle cx="233.0" cy="38.4" r="1.05" fill="#e1cc2e"/>
<circle cx="220.5" cy="37.8" r="1.05" fill="#a2a015"/>
<circle cx="256.2" cy="88.0" r="1.05" fill="#d66c28"/>
<circle cx="227.6" cy="67.2" r="1.05" fill="#bbb512"/>
<circle cx="243.4" cy="88.8" r="1.05" fill="#e5a733"/>
<circle cx="227.5" cy="44.7" r="1.05" fill="#cbc422"/>
<circle cx="208.9" cy="51.6" r="1.05" fill="#78783b"/>
<circle cx="223.6" cy="35.6" r="1.05" fill="#a5a10b"/>
<circle cx="206.8" cy="45.4" r="1.05" fill="#7b7b4e"/>
<circle cx="223.8" cy="73.5" r="1.05" fill="#c6c22c"/>
<circle cx="261.3" cy="73.2" r="1.05" fill="#b43a06"/>
<circle cx="216.2" cy="32.8" r="1.05" fill="#b7b645"/>
<circle cx="266.9" cy="71.1" r="1.05" fill="#d64928"/>
<circle cx="246.2" cy="95.1" r="1.05" fill="#e39a33"/>
<circle cx="248.4" cy="64.6" r="1.05" fill="#e08f31"/>
<circle cx="235.6" cy="42.2" r="1.05" fill="#c6a713"/>
<circle cx="230.3" cy="65.3" r="1.05" fill="#e2d830"/>
<circle cx="227.5" cy="67.3" r="1.05" fill="#d1ca28"/>
<circle cx="240.7" cy="77.3" r="1.05" fill="#ecb738"/>
<circle cx="231.5" cy="60.7" r="1.05" fill="#e4d632"/>
<circle cx="228.1" cy="64.1" r="1.05" fill="#d8d12d"/>
<circle cx="223.3" cy="66.5" r="1.05" fill="#cdc935"/>
<circle cx="221.5" cy="62.3" r="1.05" fill="#aca91b"/>
<circle cx="244.9" cy="86.5" r="1.05" fill="#cd891c"/>
<circle cx="213.5" cy="45.1" r="1.05" fill="#9b9b3c"/>
<circle cx="243.0" cy="85.9" r="1.05" fill="#bf810c"/>
<circle cx="251.2" cy="94.4" r="1.05" fill="#d57a27"/>
<circle cx="269.7" cy="71.1" r="1.05" fill="#cf391f"/>
<circle cx="240.9" cy="71.8" r="1.05" fill="#dda729"/>
<circle cx="248.8" cy="70.1" r="1.05" fill="#dd8a2e"/>
<circle cx="193.4" cy="35.2" r="1.05" fill="#494a54"/>
<circle cx="260.5" cy="86.1" r="1.05" fill="#d05922"/>
<circle cx="208.0" cy="45.4" r="1.05" fill="#7d7d46"/>
<circle cx="213.6" cy="56.2" r="1.05" fill="#9f9e3f"/>
<circle cx="237.5" cy="97.2" r="1.05" fill="#d2ab1f"/>
<circle cx="250.4" cy="91.9" r="1.05" fill="#df8731"/>
<circle cx="250.0" cy="58.7" r="1.05" fill="#e9923b"/>
<circle cx="224.8" cy="76.9" r="1.05" fill="#afaa11"/>
<circle cx="244.0" cy="72.9" r="1.05" fill="#d19020"/>
<circle cx="271.9" cy="85.9" r="1.05" fill="#c92d18"/>
<circle cx="261.3" cy="70.5" r="1.05" fill="#c34915"/>
<circle cx="240.0" cy="95.3" r="1.05" fill="#e6b432"/>
<circle cx="208.5" cy="55.5" r="1.05" fill="#87874d"/>
<circle cx="259.9" cy="94.5" r="1.05" fill="#b74109"/>
<circle cx="261.5" cy="88.2" r="1.05" fill="#df6431"/>
<circle cx="263.2" cy="87.8" r="1.05" fill="#d45426"/>
<circle cx="247.0" cy="59.1" r="1.05" fill="#c67a16"/>
<circle cx="257.6" cy="58.6" r="1.05" fill="#ba4c0c"/>
<circle cx="259.0" cy="84.9" r="1.05" fill="#c14e13"/>
<circle cx="237.9" cy="95.3" r="1.05" fill="#e8bf35"/>
<circle cx="232.5" cy="60.0" r="1.05" fill="#d6c323"/>
<circle cx="201.6" cy="36.2" r="1.05" fill="#60604c"/>
<circle cx="236.5" cy="53.8" r="1.05" fill="#d5b222"/>
<circle cx="239.5" cy="49.0" r="1.05" fill="#d7a723"/>
<circle cx="229.2" cy="67.6" r="1.05" fill="#c1ba12"/>
<circle cx="272.0" cy="84.4" r="1.05" fill="#d53925"/>
<circle cx="265.0" cy="58.5" r="1.05" fill="#e05932"/>
<circle cx="239.6" cy="53.4" r="1.05" fill="#c3930f"/>
<circle cx="236.5" cy="73.8" r="1.05" fill="#ebc838"/>
<circle cx="225.7" cy="33.4" r="1.05" fill="#dbd539"/>
<circle cx="268.1" cy="90.3" r="1.05" fill="#b11f02"/>
<circle cx="257.1" cy="79.6" r="1.05" fill="#d76929"/>
<circle cx="271.4" cy="76.9" r="1.05" fill="#bc210b"/>
<circle cx="239.0" cy="83.7" r="1.05" fill="#c2940e"/>
<circle cx="214.1" cy="41.6" r="1.05" fill="#878623"/>
<circle cx="228.8" cy="34.2" r="1.05" fill="#bfb812"/>
<circle cx="270.4" cy="90.7" r="1.05" fill="#cd351d"/>
<circle cx="226.1" cy="48.5" r="1.05" fill="#d5cf32"/>
<circle cx="228.4" cy="72.8" r="1.05" fill="#b9b20d"/>
<circle cx="250.4" cy="66.5" r="1.05" fill="#c26914"/>
<circle cx="222.3" cy="33.1" r="1.05" fill="#aeab1a"/>
<circle cx="228.4" cy="44.0" r="1.05" fill="#bfb813"/>
<circle cx="202.8" cy="50.6" r="1.05" fill="#8a8a72"/>
<circle cx="193.1" cy="44.3" r="1.05" fill="#737580"/>
<circle cx="215.7" cy="31.8" r="1.05" fill="#888719"/>
<circle cx="261.4" cy="64.2" r="1.05" fill="#bd420f"/>
<circle cx="196.8" cy="35.1" r="1.05" fill="#757571"/>
<circle cx="240.6" cy="61.6" r="1.05" fill="#cb9717"/>
<circle cx="249.8" cy="88.2" r="1.05" fill="#d8812a"/>
<circle cx="262.3" cy="92.6" r="1.05" fill="#cb4e1d"/>
<circle cx="208.8" cy="35.6" r="1.05" fill="#959558"/>
<circle cx="218.1" cy="33.7" r="1.05" fill="#a5a326"/>
<circle cx="232.3" cy="57.4" r="1.05" fill="#d2c01f"/>
<circle cx="259.9" cy="92.7" r="1.05" fill="#c54f17"/>
<circle cx="230.0" cy="63.1" r="1.05" fill="#d1c91f"/>
<circle cx="237.6" cy="63.9" r="1.05" fill="#dfb72b"/>
<circle cx="230.6" cy="43.5" r="1.05" fill="#bdb30b"/>
<circle cx="221.7" cy="31.5" r="1.05" fill="#bdba2a"/>
<circle cx="237.3" cy="82.7" r="1.05" fill="#c49d10"/>
<circle cx="220.2" cy="55.3" r="1.05" fill="#c5c338"/>
<circle cx="232.9" cy="53.2" r="1.05" fill="#e8d335"/>
<circle cx="206.4" cy="48.1" r="1.05" fill="#78784d"/>
<circle cx="268.9" cy="88.5" r="1.05" fill="#d84529"/>
<circle cx="224.3" cy="62.4" r="1.05" fill="#a8a30b"/>
<circle cx="242.9" cy="88.0" r="1.05" fill="#e9ac37"/>
<circle cx="234.4" cy="97.6" r="1.05" fill="#d9be26"/>
<circle cx="210.7" cy="45.7" r="1.05" fill="#939348"/>
<circle cx="272.9" cy="63.2" r="1.05" fill="#b91a09"/>
<circle cx="227.4" cy="64.8" r="1.05" fill="#b7b00f"/>
<circle cx="195.5" cy="31.0" r="1.05" fill="#5a5b5c"/>
<circle cx="221.8" cy="44.2" r="1.05" fill="#aca919"/>
<circle cx="262.1" cy="71.2" r="1.05" fill="#cf5221"/>
<circle cx="250.1" cy="58.7" r="1.05" fill="#d67f28"/>
<circle cx="241.0" cy="59.4" r="1.05" fill="#cd9719"/>
<circle cx="206.5" cy="38.6" r="1.05" fill="#7c7c50"/>
<circle cx="235.8" cy="61.3" r="1.05" fill="#c9a916"/>
<circle cx="220.1" cy="57.0" r="1.05" fill="#bfbd33"/>
<circle cx="194.2" cy="38.9" r="1.05" fill="#797a81"/>
<circle cx="215.3" cy="49.6" r="1.05" fill="#a8a73c"/>
<circle cx="241.3" cy="91.4" r="1.05" fill="#e6af33"/>
<circle cx="232.2" cy="82.1" r="1.05" fill="#ddcc2b"/>
<circle cx="254.7" cy="59.9" r="1.05" fill="#df7a31"/>
<circle cx="238.5" cy="61.8" r="1.05" fill="#edc139"/>
<circle cx="237.2" cy="55.1" r="1.05" fill="#e3bd2f"/>
<circle cx="265.2" cy="71.0" r="1.05" fill="#c43c15"/>
<circle cx="226.1" cy="58.5" r="1.05" fill="#d0ca2d"/>
<circle cx="211.2" cy="52.8" r="1.05" fill="#909041"/>
<circle cx="219.8" cy="47.0" r="1.05" fill="#c1bf36"/>
<circle cx="263.0" cy="62.0" r="1.05" fill="#c8481a"/>
<circle cx="201.1" cy="45.5" r="1.05" fill="#5d5d4b"/>
<circle cx="237.5" cy="68.9" r="1.05" fill="#c0990d"/>
<circle cx="262.4" cy="90.4" r="1.05" fill="#e36434"/>
<circle cx="255.9" cy="65.2" r="1.05" fill="#e97f3b"/>
<circle cx="232.1" cy="63.5" r="1.05" fill="#dac928"/>
<circle cx="220.2" cy="50.0" r="1.05" fill="#b9b72c"/>
<circle cx="246.9" cy="64.1" r="1.05" fill="#c07511"/>
<circle cx="218.8" cy="53.7" r="1.05" fill="#b1b02e"/>
<circle cx="237.4" cy="93.9" r="1.05" fill="#ecc538"/>
<circle cx="229.3" cy="57.0" r="1.05" fill="#d4cc24"/>
<circle cx="233.3" cy="88.5" r="1.05" fill="#c1ab0f"/>
<circle cx="260.8" cy="63.1" r="1.05" fill="#b9410b"/>
<circle cx="267.2" cy="78.0" r="1.05" fill="#d84a29"/>
<circle cx="223.1" cy="33.1" r="1.05" fill="#b2ae1a"/>
<circle cx="231.6" cy="62.4" r="1.05" fill="#c1b20f"/>
<circle cx="240.1" cy="49.7" r="1.05" fill="#efbd3b"/>
<circle cx="262.3" cy="69.2" r="1.05" fill="#d45626"/>
<circle cx="235.5" cy="42.3" r="1.05" fill="#dbbc28"/>
<circle cx="237.4" cy="54.5" r="1.05" fill="#c29b0e"/>
<circle cx="260.6" cy="71.5" r="1.05" fill="#dc652e"/>
<circle cx="199.8" cy="42.4" r="1.05" fill="#58584b"/>
<circle cx="268.1" cy="68.9" r="1.05" fill="#c02f11"/>
<circle cx="225.8" cy="52.4" r="1.05" fill="#aea80b"/>
<circle cx="266.8" cy="68.9" r="1.05" fill="#df5231"/>
<circle cx="224.9" cy="72.1" r="1.05" fill="#b5b016"/>
<circle cx="267.6" cy="88.5" r="1.05" fill="#be2e0f"/>
<circle cx="206.6" cy="52.7" r="1.05" fill="#87875b"/>
<circle cx="204.6" cy="46.0" r="1.05" fill="#888869"/>
<circle cx="229.0" cy="86.6" r="1.05" fill="#c0b912"/>
<circle cx="200.1" cy="50.1" r="1.05" fill="#5d5d4e"/>
<circle cx="233.6" cy="52.4" r="1.05" fill="#cdb61a"/>
<circle cx="206.8" cy="36.1" r="1.05" fill="#727244"/>
<circle cx="230.9" cy="39.1" r="1.05" fill="#cec21c"/>
<circle cx="238.6" cy="50.9" r="1.05" fill="#c99d15"/>
<circle cx="231.7" cy="65.6" r="1.05" fill="#c5b613"/>
<circle cx="245.1" cy="67.7" r="1.05" fill="#cb861b"/>
<circle cx="217.6" cy="62.0" r="1.05" fill="#9f9e23"/>
<circle cx="205.1" cy="30.6" r="1.05" fill="#818160"/>
<circle cx="210.3" cy="53.9" r="1.05" fill="#9e9e56"/>
<circle cx="256.1" cy="94.2" r="1.05" fill="#e27834"/>
<circle cx="196.3" cy="43.2" r="1.05" fill="#4f4f4d"/>
<circle cx="247.2" cy="75.7" r="1.05" fill="#cd801d"/>
<circle cx="252.3" cy="79.9" r="1.05" fill="#bb5d0d"/>
<circle cx="202.4" cy="45.5" r="1.05" fill="#6b6b54"/>
<circle cx="262.1" cy="67.9" r="1.05" fill="#d75a29"/>
<circle cx="269.0" cy="83.0" r="1.05" fill="#b21e03"/>
<circle cx="253.5" cy="89.6" r="1.05" fill="#c66518"/>
<circle cx="248.3" cy="82.0" r="1.05" fill="#e59435"/>
<circle cx="242.4" cy="58.0" r="1.05" fill="#bf850d"/>
<circle cx="231.6" cy="98.0" r="1.05" fill="#beaf0c"/>
<circle cx="249.4" cy="87.7" r="1.05" fill="#c87319"/>
<circle cx="243.3" cy="65.7" r="1.05" fill="#c98b17"/>
<circle cx="222.3" cy="36.9" r="1.05" fill="#b0ad1c"/>
<circle cx="216.7" cy="45.1" r="1.05" fill="#b8b743"/>
<circle cx="235.0" cy="83.9" r="1.05" fill="#c2a60f"/>
<circle cx="246.0" cy="70.3" r="1.05" fill="#d38b22"/>
<circle cx="255.3" cy="89.8" r="1.05" fill="#bd560f"/>
<circle cx="210.9" cy="50.3" r="1.05" fill="#7e7e31"/>
<circle cx="214.2" cy="59.4" r="1.05" fill="#93932f"/>
<circle cx="229.5" cy="56.5" r="1.05" fill="#beb70f"/>
<circle cx="269.5" cy="74.1" r="1.05" fill="#cd381e"/>
<circle cx="271.0" cy="74.8" r="1.05" fill="#ba2009"/>
<circle cx="206.9" cy="31.6" r="1.05" fill="#656537"/>
<circle cx="256.0" cy="90.5" r="1.05" fill="#c65c18"/>
<circle cx="261.2" cy="82.4" r="1.05" fill="#c44a16"/>
<circle cx="213.8" cy="51.0" r="1.05" fill="#9b9a3a"/>
<circle cx="236.7" cy="72.8" r="1.05" fill="#e4c031"/>
<circle cx="271.9" cy="61.5" r="1.05" fill="#c62915"/>
<circle cx="198.6" cy="45.2" r="1.05" fill="#6e6e65"/>
<circle cx="263.5" cy="86.1" r="1.05" fill="#c74519"/>
<circle cx="231.9" cy="55.4" r="1.05" fill="#c9b916"/>
<circle cx="224.8" cy="76.0" r="1.05" fill="#d1cc33"/>
<circle cx="211.5" cy="57.2" r="1.05" fill="#929241"/>
<circle cx="216.4" cy="36.4" r="1.05" fill="#8f8e1c"/>
<circle cx="214.1" cy="58.7" r="1.05" fill="#b1b14e"/>
<circle cx="268.5" cy="92.7" r="1.05" fill="#df4c30"/>
<circle cx="273.4" cy="72.1" r="1.05" fill="#d43423"/>
<circle cx="237.1" cy="100.0" r="1.05" fill="#d4ae20"/>
<circle cx="247.1" cy="57.6" r="1.05" fill="#c07310"/>
<circle cx="238.0" cy="55.0" r="1.05" fill="#d7ad23"/>
<circle cx="236.5" cy="53.3" r="1.05" fill="#c19d0d"/>
<circle cx="231.7" cy="69.4" r="1.05" fill="#bcac09"/>
<circle cx="235.2" cy="80.0" r="1.05" fill="#e0c22d"/>
<circle cx="236.4" cy="85.1" r="1.05" fill="#c29f0f"/>
<circle cx="206.0" cy="51.3" r="1.05" fill="#616139"/>
<circle cx="241.8" cy="93.3" r="1.05" fill="#d9a126"/>
<circle cx="247.3" cy="89.4" r="1.05" fill="#c17412"/>
<circle cx="272.2" cy="80.6" r="1.05" fill="#af1200"/>
<circle cx="235.0" cy="87.5" r="1.05" fill="#c0a30d"/>
<circle cx="270.1" cy="76.7" r="1.05" fill="#ba230a"/>
<circle cx="261.9" cy="68.8" r="1.05" fill="#b93c0a"/>
<circle cx="235.5" cy="44.4" r="1.05" fill="#ddbd2a"/>
<circle cx="219.4" cy="32.1" r="1.05" fill="#c4c23c"/>
<circle cx="234.1" cy="77.9" r="1.05" fill="#e2c92f"/>
<circle cx="215.8" cy="32.7" r="1.05" fill="#a1a032"/>
<circle cx="265.2" cy="87.2" r="1.05" fill="#b22b04"/>
<circle cx="265.2" cy="71.3" r="1.05" fill="#b42d06"/>
<circle cx="214.6" cy="38.2" r="1.05" fill="#b0af49"/>
<circle cx="199.8" cy="50.3" r="1.05" fill="#6b6b5d"/>
<circle cx="237.7" cy="52.6" r="1.05" fill="#cea51a"/>
<circle cx="236.1" cy="84.8" r="1.05" fill="#e6c533"/>
<circle cx="256.0" cy="73.2" r="1.05" fill="#d76d29"/>
<circle cx="217.8" cy="43.7" r="1.05" fill="#b8b73c"/>
<circle cx="255.0" cy="82.1" r="1.05" fill="#d16a23"/>
<circle cx="235.2" cy="54.1" r="1.05" fill="#bd9f0a"/>
<circle cx="215.4" cy="47.1" r="1.05" fill="#b8b74c"/>
<circle cx="228.8" cy="50.9" r="1.05" fill="#bfb812"/>
<circle cx="205.8" cy="49.3" r="1.05" fill="#676740"/>
<circle cx="226.1" cy="57.4" r="1.05" fill="#c8c225"/>
<circle cx="212.1" cy="34.2" r="1.05" fill="#7b7b26"/>
<circle cx="212.0" cy="45.9" r="1.05" fill="#9c9c47"/>
<circle cx="235.3" cy="98.7" r="1.05" fill="#cbad18"/>
<circle cx="269.7" cy="69.0" r="1.05" fill="#b21c02"/>
<circle cx="209.7" cy="41.6" r="1.05" fill="#70702c"/>
<circle cx="199.3" cy="42.5" r="1.05" fill="#76766a"/>
<circle cx="204.3" cy="53.6" r="1.05" fill="#656548"/>
<circle cx="240.1" cy="92.6" r="1.05" fill="#deac2a"/>
<circle cx="273.6" cy="70.5" r="1.05" fill="#b00f00"/>
<circle cx="259.3" cy="93.5" r="1.05" fill="#c65218"/>
<circle cx="196.7" cy="35.8" r="1.05" fill="#696966"/>
<circle cx="265.4" cy="73.8" r="1.05" fill="#df5630"/>
<circle cx="203.7" cy="47.4" r="1.05" fill="#808064"/>
<circle cx="215.1" cy="61.5" r="1.05" fill="#a3a239"/>
<circle cx="223.4" cy="65.2" r="1.05" fill="#c1bd29"/>
<circle cx="235.6" cy="75.2" r="1.05" fill="#d9b925"/>
<circle cx="255.0" cy="85.2" r="1.05" fill="#c76119"/>
<circle cx="226.1" cy="43.4" r="1.05" fill="#c6c023"/>
<circle cx="244.9" cy="85.0" r="1.05" fill="#ce8a1d"/>
<circle cx="197.9" cy="34.9" r="1.05" fill="#75756e"/>
<circle cx="230.4" cy="73.4" r="1.05" fill="#c8be16"/>
<circle cx="258.4" cy="58.6" r="1.05" fill="#c65418"/>
<circle cx="244.0" cy="53.8" r="1.05" fill="#e7a736"/>
<circle cx="271.9" cy="72.7" r="1.05" fill="#b81c07"/>
<circle cx="207.4" cy="42.0" r="1.05" fill="#7c7c49"/>
<circle cx="205.5" cy="37.1" r="1.05" fill="#848461"/>
<circle cx="264.3" cy="93.0" r="1.05" fill="#bf3a10"/>
<circle cx="253.9" cy="89.1" r="1.05" fill="#c66318"/>
<circle cx="214.8" cy="60.8" r="1.05" fill="#b0b048"/>
<circle cx="239.6" cy="58.1" r="1.05" fill="#daaa26"/>
<circle cx="256.5" cy="92.5" r="1.05" fill="#c05412"/>
<circle cx="193.1" cy="34.2" r="1.05" fill="#696a75"/>
<circle cx="269.4" cy="80.2" r="1.05" fill="#da452a"/>
<circle cx="230.9" cy="39.5" r="1.05" fill="#cdc11a"/>
<circle cx="223.8" cy="35.0" r="1.05" fill="#c8c32d"/>
<circle cx="216.9" cy="61.7" r="1.05" fill="#bbba44"/>
<circle cx="216.5" cy="38.1" r="1.05" fill="#bcba48"/>
<circle cx="266.1" cy="81.4" r="1.05" fill="#be330f"/>
<circle cx="200.5" cy="42.2" r="1.05" fill="#585848"/>
<circle cx="222.0" cy="66.8" r="1.05" fill="#b2af1f"/>
<circle cx="244.7" cy="65.7" r="1.05" fill="#d89426"/>
<circle cx="265.3" cy="80.3" r="1.05" fill="#c43d16"/>
<circle cx="213.6" cy="55.2" r="1.05" fill="#afaf4f"/>
<circle cx="220.0" cy="52.4" r="1.05" fill="#afad23"/>
<circle cx="240.8" cy="51.7" r="1.05" fill="#c99416"/>
<circle cx="262.4" cy="85.9" r="1.05" fill="#e06232"/>
<circle cx="235.1" cy="46.5" r="1.05" fill="#ebcd38"/>
<circle cx="263.4" cy="62.9" r="1.05" fill="#d04e21"/>
<circle cx="242.5" cy="82.4" r="1.05" fill="#d0941d"/>
<circle cx="232.9" cy="71.5" r="1.05" fill="#dac628"/>
<circle cx="268.5" cy="59.8" r="1.05" fill="#d24023"/>
<circle cx="232.6" cy="60.0" r="1.05" fill="#c3b111"/>
<circle cx="233.2" cy="64.0" r="1.05" fill="#d3be20"/>
<circle cx="226.8" cy="73.8" r="1.05" fill="#d7d131"/>
<circle cx="267.1" cy="92.9" r="1.05" fill="#b12302"/>
<circle cx="198.3" cy="41.1" r="1.05" fill="#56564d"/>
<circle cx="232.5" cy="58.0" r="1.05" fill="#bdaa0a"/>
<circle cx="248.6" cy="57.7" r="1.05" fill="#d38124"/>
<circle cx="258.2" cy="83.7" r="1.05" fill="#bd4d0f"/>
<circle cx="232.4" cy="40.0" r="1.05" fill="#cbb918"/>
<circle cx="215.6" cy="52.0" r="1.05" fill="#88871a"/>
<circle cx="214.1" cy="40.3" r="1.05" fill="#abaa47"/>
<circle cx="241.5" cy="51.2" r="1.05" fill="#bf880c"/>
<circle cx="225.2" cy="50.8" r="1.05" fill="#cdc72d"/>
<circle cx="211.5" cy="54.3" r="1.05" fill="#969645"/>
<circle cx="232.9" cy="61.7" r="1.05" fill="#e6d133"/>
<circle cx="239.1" cy="58.9" r="1.05" fill="#d4a620"/>
<circle cx="224.9" cy="61.3" r="1.05" fill="#c2bd23"/>
<circle cx="260.7" cy="76.3" r="1.05" fill="#d9612b"/>
<circle cx="247.2" cy="66.5" r="1.05" fill="#e29532"/>
<circle cx="247.3" cy="79.7" r="1.05" fill="#d38624"/>
<circle cx="222.9" cy="69.1" r="1.05" fill="#d4d13e"/>
<circle cx="260.0" cy="93.2" r="1.05" fill="#bc460e"/>
<circle cx="209.5" cy="42.0" r="1.05" fill="#7e7e3b"/>
<circle cx="235.7" cy="62.9" r="1.05" fill="#cfb01c"/>
<circle cx="264.6" cy="87.4" r="1.05" fill="#dc562d"/>
<circle cx="207.9" cy="37.0" r="1.05" fill="#6a6a34"/>
<circle cx="233.9" cy="51.4" r="1.05" fill="#d0b81e"/>
<circle cx="229.5" cy="69.0" r="1.05" fill="#c7c017"/>
<circle cx="269.5" cy="66.7" r="1.05" fill="#b01b01"/>
<circle cx="222.0" cy="67.5" r="1.05" fill="#b0ad1d"/>
<circle cx="258.6" cy="69.7" r="1.05" fill="#cc5a1e"/>
<circle cx="224.3" cy="73.7" r="1.05" fill="#a9a40d"/>
<circle cx="269.8" cy="67.1" r="1.05" fill="#d64026"/>
<circle cx="230.3" cy="76.6" r="1.05" fill="#d8cf26"/>
<circle cx="211.4" cy="37.7" r="1.05" fill="#9f9f4f"/>
<circle cx="268.2" cy="77.6" r="1.05" fill="#b62407"/>
<circle cx="211.3" cy="39.5" r="1.05" fill="#929242"/>
<circle cx="227.2" cy="81.2" r="1.05" fill="#c4be1d"/>
<circle cx="271.4" cy="64.2" r="1.05" fill="#bb210b"/>
<circle cx="264.4" cy="70.2" r="1.05" fill="#cc481e"/>
<circle cx="215.0" cy="57.8" r="1.05" fill="#919027"/>
<circle cx="257.3" cy="70.0" r="1.05" fill="#cd601f"/>
<circle cx="216.8" cy="51.5" r="1.05" fill="#aead38"/>
<circle cx="199.2" cy="34.3" r="1.05" fill="#818176"/>
<circle cx="265.2" cy="60.3" r="1.05" fill="#b83009"/>
<circle cx="227.5" cy="33.8" r="1.05" fill="#cac422"/>
<circle cx="231.1" cy="50.8" r="1.05" fill="#c1b40f"/>
<circle cx="221.5" cy="37.1" r="1.05" fill="#a5a213"/>
<circle cx="230.7" cy="94.8" r="1.05" fill="#b8ad06"/>
<circle cx="271.7" cy="61.0" r="1.05" fill="#d43824"/>
<circle cx="237.0" cy="77.9" r="1.05" fill="#c7a113"/>
<circle cx="220.6" cy="63.5" r="1.05" fill="#aba81d"/>
<circle cx="239.4" cy="85.9" r="1.05" fill="#e1b12d"/>
<circle cx="248.3" cy="88.4" r="1.05" fill="#cc7b1d"/>
<circle cx="259.4" cy="58.8" r="1.05" fill="#e36f35"/>
<circle cx="222.3" cy="54.2" r="1.05" fill="#a5a211"/>
<circle cx="216.0" cy="31.8" r="1.05" fill="#939222"/>
<circle cx="204.4" cy="47.8" r="1.05" fill="#8c8c6e"/>
<circle cx="228.6" cy="61.8" r="1.05" fill="#dad22d"/>
<circle cx="268.5" cy="83.1" r="1.05" fill="#ce3c1f"/>
<circle cx="262.7" cy="86.1" r="1.05" fill="#b73809"/>
<circle cx="246.6" cy="82.6" r="1.05" fill="#c27812"/>
<circle cx="268.1" cy="82.6" r="1.05" fill="#d84729"/>
<circle cx="258.6" cy="69.6" r="1.05" fill="#cb591d"/>
<circle cx="260.7" cy="85.9" r="1.05" fill="#df6731"/>
<circle cx="233.4" cy="99.5" r="1.05" fill="#bfa80c"/>
<circle cx="274.1" cy="86.1" r="1.05" fill="#b81607"/>
<circle cx="268.5" cy="77.6" r="1.05" fill="#d23f23"/>
<circle cx="257.8" cy="77.4" r="1.05" fill="#e57637"/>
<circle cx="239.3" cy="90.2" r="1.05" fill="#e5b631"/>
<circle cx="240.2" cy="58.4" r="1.05" fill="#ce9b1a"/>
<circle cx="203.9" cy="49.7" r="1.05" fill="#858569"/>
<circle cx="249.2" cy="57.1" r="1.05" fill="#dc882d"/>
<circle cx="217.7" cy="38.8" r="1.05" fill="#bdbc41"/>
<circle cx="240.8" cy="95.1" r="1.05" fill="#d19c1d"/>
<circle cx="235.4" cy="92.4" r="1.05" fill="#d4b521"/>
<circle cx="267.1" cy="76.0" r="1.05" fill="#b32504"/>
<circle cx="242.0" cy="57.3" r="1.05" fill="#edb33a"/>
<circle cx="242.8" cy="51.6" r="1.05" fill="#d79b24"/>
<circle cx="230.3" cy="50.6" r="1.05" fill="#e8de35"/>
<circle cx="247.6" cy="66.8" r="1.05" fill="#d28422"/>
<circle cx="253.8" cy="94.9" r="1.05" fill="#dd7a2f"/>
<circle cx="214.2" cy="31.5" r="1.05" fill="#b1b04d"/>
<circle cx="238.6" cy="68.4" r="1.05" fill="#bf930b"/>
<circle cx="234.6" cy="55.3" r="1.05" fill="#ebcf38"/>
<circle cx="244.3" cy="87.6" r="1.05" fill="#de9c2d"/>
<circle cx="250.0" cy="78.0" r="1.05" fill="#c8711a"/>
<circle cx="260.8" cy="86.7" r="1.05" fill="#c54d17"/>
<circle cx="211.7" cy="52.2" r="1.05" fill="#a7a754"/>
<circle cx="202.4" cy="47.0" r="1.05" fill="#6e6e57"/>
<circle cx="194.1" cy="41.9" r="1.05" fill="#5c5d64"/>
<circle cx="208.8" cy="37.1" r="1.05" fill="#99995c"/>
<circle cx="243.3" cy="85.4" r="1.05" fill="#cc8e1a"/>
<circle cx="227.7" cy="66.9" r="1.05" fill="#d2cb28"/>
<circle cx="233.2" cy="44.2" r="1.05" fill="#d8c326"/>
<circle cx="236.7" cy="49.7" r="1.05" fill="#eac637"/>
<circle cx="208.7" cy="40.4" r="1.05" fill="#6e6e32"/>
<circle cx="235.0" cy="83.3" r="1.05" fill="#dcbf29"/>
<circle cx="194.3" cy="45.8" r="1.05" fill="#696a70"/>
<circle cx="248.4" cy="85.1" r="1.05" fill="#cf7e20"/>
<circle cx="271.5" cy="82.4" r="1.05" fill="#be230e"/>
<circle cx="216.5" cy="35.6" r="1.05" fill="#b7b643"/>
<circle cx="233.5" cy="63.8" r="1.05" fill="#dac428"/>
<circle cx="222.4" cy="62.2" r="1.05" fill="#ccc837"/>
<circle cx="246.1" cy="68.5" r="1.05" fill="#d08720"/>
<circle cx="262.6" cy="86.2" r="1.05" fill="#dc5e2e"/>
<circle cx="254.1" cy="62.0" r="1.05" fill="#e58137"/>
<circle cx="267.6" cy="82.4" r="1.05" fill="#d84829"/>
<circle cx="244.3" cy="93.8" r="1.05" fill="#c38111"/>
<circle cx="249.5" cy="79.1" r="1.05" fill="#d9842b"/>
<circle cx="240.1" cy="89.2" r="1.05" fill="#cb9917"/>
<circle cx="203.8" cy="38.8" r="1.05" fill="#5f5f43"/>
<circle cx="196.9" cy="43.1" r="1.05" fill="#51514e"/>
<circle cx="225.5" cy="66.6" r="1.05" fill="#d2cd31"/>
<circle cx="194.3" cy="38.9" r="1.05" fill="#696970"/>
<circle cx="215.6" cy="47.8" r="1.05" fill="#a4a336"/>
<circle cx="259.2" cy="65.1" r="1.05" fill="#b64308"/>
<circle cx="230.9" cy="55.6" r="1.05" fill="#baae08"/>
<circle cx="242.6" cy="80.9" r="1.05" fill="#da9e28"/>
<circle cx="221.2" cy="63.0" r="1.05" fill="#bbb92b"/>
<circle cx="226.2" cy="77.3" r="1.05" fill="#cfca2c"/>
<circle cx="226.3" cy="48.7" r="1.05" fill="#b6b012"/>
<circle cx="221.5" cy="43.7" r="1.05" fill="#a8a517"/>
<circle cx="252.4" cy="63.4" r="1.05" fill="#cf7021"/>
<circle cx="202.3" cy="42.3" r="1.05" fill="#74745d"/>
<circle cx="269.6" cy="80.7" r="1.05" fill="#d23c22"/>
<circle cx="251.1" cy="72.9" r="1.05" fill="#c76c19"/>
<circle cx="217.1" cy="33.7" r="1.05" fill="#adac35"/>
<circle cx="258.8" cy="58.2" r="1.05" fill="#ba480c"/>
<circle cx="193.9" cy="32.9" r="1.05" fill="#6f7078"/>
<circle cx="268.8" cy="86.8" r="1.05" fill="#c63317"/>
<circle cx="231.2" cy="37.6" r="1.05" fill="#c4b712"/>
<circle cx="259.5" cy="90.7" r="1.05" fill="#bb470d"/>
<circle cx="238.4" cy="51.8" r="1.05" fill="#bd9109"/>
<circle cx="261.2" cy="86.0" r="1.05" fill="#cb511d"/>
<circle cx="266.3" cy="60.7" r="1.05" fill="#d04421"/>
<circle cx="203.1" cy="40.4" r="1.05" fill="#87876d"/>
<circle cx="238.5" cy="73.5" r="1.05" fill="#e0b42c"/>
<circle cx="227.8" cy="53.6" r="1.05" fill="#d2cb28"/>
<circle cx="244.4" cy="78.1" r="1.05" fill="#d49122"/>
<circle cx="205.3" cy="53.0" r="1.05" fill="#858563"/>
<circle cx="260.6" cy="73.2" r="1.05" fill="#d9612b"/>
<circle cx="270.5" cy="73.6" r="1.05" fill="#db432b"/>
<circle cx="208.5" cy="32.9" r="1.05" fill="#6b6b31"/>
<circle cx="235.7" cy="89.0" r="1.05" fill="#d4b420"/>
<circle cx="241.6" cy="69.9" r="1.05" fill="#e5ad32"/>
<circle cx="234.7" cy="44.4" r="1.05" fill="#ceb21b"/>
<circle cx="259.5" cy="58.5" r="1.05" fill="#bb470d"/>
<circle cx="251.9" cy="91.4" r="1.05" fill="#e48736"/>
<circle cx="239.7" cy="63.7" r="1.05" fill="#d4a320"/>
<circle cx="221.9" cy="71.3" r="1.05" fill="#c0bd2d"/>
<circle cx="269.2" cy="81.5" r="1.05" fill="#d64126"/>
<circle cx="268.9" cy="90.3" r="1.05" fill="#d23e23"/>
<circle cx="211.9" cy="49.3" r="1.05" fill="#888833"/>
<circle cx="270.7" cy="84.0" r="1.05" fill="#d73e27"/>
<circle cx="209.5" cy="41.0" r="1.05" fill="#828240"/>
<circle cx="256.1" cy="94.7" r="1.05" fill="#df7531"/>
<circle cx="242.3" cy="50.8" r="1.05" fill="#d89d25"/>
<circle cx="233.4" cy="74.6" r="1.05" fill="#d4be21"/>
<circle cx="269.0" cy="77.9" r="1.05" fill="#de4b2f"/>
<circle cx="192.3" cy="37.8" r="1.05" fill="#545563"/>
<circle cx="224.7" cy="77.7" r="1.05" fill="#cac52c"/>
<circle cx="253.4" cy="83.3" r="1.05" fill="#c56317"/>
<circle cx="243.8" cy="69.7" r="1.05" fill="#dd9d2b"/>
<circle cx="239.6" cy="78.4" r="1.05" fill="#cc9c18"/>
<circle cx="193.3" cy="45.5" r="1.05" fill="#5c5d67"/>
<circle cx="248.1" cy="57.4" r="1.05" fill="#df8f30"/>
<circle cx="258.7" cy="76.3" r="1.05" fill="#c35115"/>
<circle cx="245.3" cy="69.3" r="1.05" fill="#dd972c"/>
<circle cx="200.8" cy="32.1" r="1.05" fill="#5a5a49"/>
<circle cx="244.7" cy="67.8" r="1.05" fill="#c78416"/>
<circle cx="218.1" cy="63.9" r="1.05" fill="#989619"/>
<circle cx="210.5" cy="52.0" r="1.05" fill="#98984e"/>
<circle cx="204.8" cy="36.3" r="1.05" fill="#676748"/>
<circle cx="219.7" cy="50.7" r="1.05" fill="#b9b72f"/>
<circle cx="200.2" cy="39.4" r="1.05" fill="#6a6a5b"/>
<circle cx="217.6" cy="59.4" r="1.05" fill="#bfbd43"/>
<circle cx="236.3" cy="93.1" r="1.05" fill="#ebc838"/>
<circle cx="271.8" cy="64.1" r="1.05" fill="#b91d08"/>
<circle cx="226.9" cy="81.4" r="1.05" fill="#b1ab0b"/>
<circle cx="226.1" cy="46.7" r="1.05" fill="#b6b013"/>
<circle cx="228.8" cy="35.1" r="1.05" fill="#b4ac06"/>
<circle cx="244.7" cy="63.2" r="1.05" fill="#bd7a0c"/>
<circle cx="227.7" cy="82.2" r="1.05" fill="#cbc422"/>
<circle cx="240.3" cy="74.7" r="1.05" fill="#c59211"/>
<circle cx="252.9" cy="92.0" r="1.05" fill="#cb6b1d"/>
<circle cx="238.2" cy="98.9" r="1.05" fill="#d0a61d"/>
<circle cx="228.4" cy="63.0" r="1.05" fill="#e1da36"/>
<circle cx="213.9" cy="54.2" r="1.05" fill="#91912f"/>
<circle cx="218.8" cy="33.6" r="1.05" fill="#bfbd3b"/>
<circle cx="236.3" cy="79.8" r="1.05" fill="#c29f0f"/>
<circle cx="206.4" cy="30.1" r="1.05" fill="#929267"/>
<circle cx="197.9" cy="31.5" r="1.05" fill="#6a6a63"/>
<circle cx="238.1" cy="94.5" r="1.05" fill="#bf950b"/>
<circle cx="205.8" cy="34.1" r="1.05" fill="#7d7d57"/>
<circle cx="226.1" cy="54.4" r="1.05" fill="#d8d235"/>
<circle cx="245.5" cy="92.3" r="1.05" fill="#eca53b"/>
<circle cx="233.2" cy="91.3" r="1.05" fill="#e1cc2e"/>
<circle cx="244.8" cy="63.1" r="1.05" fill="#c27e11"/>
<circle cx="238.5" cy="87.3" r="1.05" fill="#e9be36"/>
<circle cx="206.0" cy="50.8" r="1.05" fill="#7b7b53"/>
<circle cx="252.9" cy="72.4" r="1.05" fill="#d07022"/>
<circle cx="246.5" cy="87.2" r="1.05" fill="#bc720c"/>
<circle cx="228.2" cy="76.9" r="1.05" fill="#d5ce2a"/>
<circle cx="273.1" cy="86.0" r="1.05" fill="#b81807"/>
<circle cx="204.7" cy="38.1" r="1.05" fill="#69694a"/>
<circle cx="221.8" cy="55.3" r="1.05" fill="#a3a011"/>
<circle cx="238.2" cy="99.2" r="1.05" fill="#d9af25"/>
<circle cx="224.7" cy="34.7" r="1.05" fill="#c0bb22"/>
<circle cx="199.0" cy="51.1" r="1.05" fill="#828277"/>
<circle cx="255.3" cy="90.2" r="1.05" fill="#d77029"/>
<circle cx="243.0" cy="79.2" r="1.05" fill="#edb03b"/>
<circle cx="212.0" cy="41.5" r="1.05" fill="#a0a04c"/>
<circle cx="239.9" cy="91.4" r="1.05" fill="#e9b835"/>
<circle cx="213.8" cy="55.1" r="1.05" fill="#979736"/>
<circle cx="257.6" cy="81.2" r="1.05" fill="#c75819"/>
<circle cx="229.7" cy="35.8" r="1.05" fill="#e4dc33"/>
<circle cx="249.8" cy="87.5" r="1.05" fill="#e28c34"/>
<circle cx="245.7" cy="67.5" r="1.05" fill="#c37c12"/>
<circle cx="206.4" cy="41.7" r="1.05" fill="#77774c"/>
<circle cx="233.6" cy="80.9" r="1.05" fill="#bba408"/>
<circle cx="248.3" cy="71.6" r="1.05" fill="#e89739"/>
<circle cx="203.0" cy="46.1" r="1.05" fill="#7a7a61"/>
<circle cx="208.3" cy="33.2" r="1.05" fill="#74743c"/>
<circle cx="255.7" cy="89.5" r="1.05" fill="#db722d"/>
<circle cx="273.2" cy="86.7" r="1.05" fill="#bb1c0a"/>
<circle cx="226.9" cy="36.6" r="1.05" fill="#b4ae0e"/>
<circle cx="231.1" cy="63.8" r="1.05" fill="#c9bd17"/>
<circle cx="250.6" cy="64.5" r="1.05" fill="#e18833"/>
<circle cx="220.0" cy="60.6" r="1.05" fill="#a7a51b"/>
<circle cx="250.2" cy="84.7" r="1.05" fill="#cd751f"/>
<circle cx="270.9" cy="72.0" r="1.05" fill="#b21902"/>
<circle cx="226.4" cy="73.5" r="1.05" fill="#bab416"/>
<circle cx="227.3" cy="72.0" r="1.05" fill="#beb816"/>
<circle cx="223.6" cy="48.4" r="1.05" fill="#aba711"/>
<circle cx="194.9" cy="41.8" r="1.05" fill="#6f7074"/>
<circle cx="227.3" cy="80.1" r="1.05" fill="#d4cd2c"/>
<circle cx="196.1" cy="36.3" r="1.05" fill="#7d7d7c"/>
<circle cx="215.5" cy="40.8" r="1.05" fill="#949326"/>
<circle cx="213.9" cy="34.5" r="1.05" fill="#a5a443"/>
<circle cx="215.8" cy="35.8" r="1.05" fill="#9d9c2e"/>
<circle cx="260.4" cy="92.5" r="1.05" fill="#d15a23"/>
<circle cx="240.4" cy="95.5" r="1.05" fill="#edb939"/>
<circle cx="218.0" cy="51.5" r="1.05" fill="#a3a225"/>
<circle cx="266.5" cy="83.5" r="1.05" fill="#bc300d"/>
<circle cx="269.5" cy="87.6" r="1.05" fill="#df4a30"/>
<circle cx="251.7" cy="83.4" r="1.05" fill="#e28634"/>
<circle cx="262.9" cy="93.8" r="1.05" fill="#b93a0b"/>
<circle cx="271.3" cy="82.5" r="1.05" fill="#cf341e"/>
<circle cx="264.9" cy="66.0" r="1.05" fill="#c84119"/>
<circle cx="256.7" cy="93.1" r="1.05" fill="#c15513"/>
<circle cx="215.7" cy="40.9" r="1.05" fill="#8d8c1e"/>
<circle cx="227.0" cy="53.8" r="1.05" fill="#d6d030"/>
<circle cx="242.8" cy="95.2" r="1.05" fill="#d49822"/>
<circle cx="267.7" cy="81.6" r="1.05" fill="#be2e0f"/>
<circle cx="265.3" cy="68.2" r="1.05" fill="#b62e07"/>
<circle cx="238.6" cy="89.7" r="1.05" fill="#d6aa23"/>
<circle cx="229.0" cy="55.0" r="1.05" fill="#e0d832"/>
<circle cx="217.7" cy="50.5" r="1.05" fill="#c0bf44"/>
<circle cx="239.0" cy="56.3" r="1.05" fill="#e1b32d"/>
<circle cx="232.7" cy="88.9" r="1.05" fill="#e0cc2d"/>
<circle cx="217.2" cy="38.7" r="1.05" fill="#b3b23b"/>
<circle cx="224.3" cy="52.0" r="1.05" fill="#cac52e"/>
<circle cx="212.1" cy="47.6" r="1.05" fill="#9c9c47"/>
<circle cx="230.5" cy="76.1" r="1.05" fill="#beb40c"/>
<circle cx="236.2" cy="86.8" r="1.05" fill="#c4a211"/>
<circle cx="268.6" cy="66.3" r="1.05" fill="#d44125"/>
<circle cx="272.8" cy="62.9" r="1.05" fill="#db3c2a"/>
<circle cx="242.7" cy="87.5" r="1.05" fill="#d2961f"/>
<circle cx="209.7" cy="55.3" r="1.05" fill="#888845"/>
<circle cx="250.7" cy="82.9" r="1.05" fill="#c66d18"/>
<circle cx="238.5" cy="80.5" r="1.05" fill="#e2b62e"/>
<circle cx="250.2" cy="79.7" r="1.05" fill="#c8701a"/>
<circle cx="226.8" cy="73.7" r="1.05" fill="#dfd93a"/>
<circle cx="206.8" cy="36.7" r="1.05" fill="#6b6b3e"/>
<circle cx="222.1" cy="71.9" r="1.05" fill="#b0ac1c"/>
<circle cx="199.1" cy="38.4" r="1.05" fill="#56564b"/>
<circle cx="202.0" cy="46.5" r="1.05" fill="#70705b"/>
<circle cx="227.8" cy="36.6" r="1.05" fill="#cec724"/>
<circle cx="197.5" cy="34.2" r="1.05" fill="#53534d"/>
<circle cx="221.5" cy="49.7" r="1.05" fill="#b4b122"/>
<circle cx="220.4" cy="32.8" r="1.05" fill="#c7c539"/>
<circle cx="263.0" cy="81.2" r="1.05" fill="#c44416"/>
<circle cx="221.4" cy="56.3" r="1.05" fill="#adaa1c"/>
<circle cx="235.5" cy="75.7" r="1.05" fill="#dfc02c"/>
<circle cx="257.6" cy="69.6" r="1.05" fill="#d8692a"/>
<circle cx="235.1" cy="53.8" r="1.05" fill="#c3a610"/>
<circle cx="214.1" cy="60.3" r="1.05" fill="#999936"/>
<circle cx="270.4" cy="73.7" r="1.05" fill="#c52d15"/>
<circle cx="214.9" cy="52.5" r="1.05" fill="#a3a23a"/>
<circle cx="218.5" cy="52.6" r="1.05" fill="#a6a425"/>
<circle cx="268.9" cy="65.3" r="1.05" fill="#bc280c"/>
<circle cx="197.7" cy="39.2" r="1.05" fill="#53534c"/>
<circle cx="272.1" cy="66.3" r="1.05" fill="#db3e2a"/>
<circle cx="224.4" cy="36.2" r="1.05" fill="#ccc830"/>
<circle cx="254.1" cy="70.1" r="1.05" fill="#e9853b"/>
<circle cx="249.9" cy="72.9" r="1.05" fill="#c06a12"/>
<circle cx="199.1" cy="35.2" r="1.05" fill="#717165"/>
<circle cx="224.4" cy="52.8" r="1.05" fill="#b3af17"/>
<circle cx="200.3" cy="35.1" r="1.05" fill="#5c5c4c"/>
<circle cx="237.5" cy="57.9" r="1.05" fill="#e8c034"/>
<circle cx="239.9" cy="48.3" r="1.05" fill="#d1a01d"/>
<circle cx="269.1" cy="67.1" r="1.05" fill="#b52106"/>
<circle cx="200.3" cy="52.2" r="1.05" fill="#777767"/>
<circle cx="257.1" cy="63.2" r="1.05" fill="#b74a09"/>
<circle cx="246.2" cy="67.9" r="1.05" fill="#e09730"/>
<circle cx="219.0" cy="42.6" r="1.05" fill="#c3c23e"/>
<circle cx="257.7" cy="86.2" r="1.05" fill="#df7031"/>
<circle cx="229.5" cy="43.1" r="1.05" fill="#e3db33"/>
<circle cx="254.8" cy="68.2" r="1.05" fill="#e57f37"/>
<circle cx="238.5" cy="55.9" r="1.05" fill="#ebbf37"/>
<circle cx="193.6" cy="43.2" r="1.05" fill="#4d4e58"/>
<circle cx="251.9" cy="74.5" r="1.05" fill="#be6110"/>
<circle cx="229.9" cy="80.6" r="1.05" fill="#c1b90f"/>
<circle cx="223.7" cy="68.0" r="1.05" fill="#cdc933"/>
<circle cx="254.5" cy="58.3" r="1.05" fill="#e37e35"/>
<circle cx="227.2" cy="59.4" r="1.05" fill="#d3cc2b"/>
<circle cx="195.2" cy="35.6" r="1.05" fill="#646467"/>
<circle cx="215.3" cy="33.8" r="1.05" fill="#b4b449"/>
<circle cx="228.1" cy="86.0" r="1.05" fill="#beb713"/>
<circle cx="268.3" cy="71.5" r="1.05" fill="#df4d30"/>
<circle cx="255.7" cy="73.0" r="1.05" fill="#d26924"/>
<circle cx="258.9" cy="77.3" r="1.05" fill="#da682c"/>
<circle cx="247.6" cy="66.5" r="1.05" fill="#cf8120"/>
<circle cx="199.6" cy="31.5" r="1.05" fill="#6b6b5d"/>
<circle cx="229.9" cy="42.5" r="1.05" fill="#c9c117"/>
<circle cx="235.5" cy="84.0" r="1.05" fill="#d8b925"/>
<circle cx="219.8" cy="66.0" r="1.05" fill="#a9a71f"/>
<circle cx="195.5" cy="43.9" r="1.05" fill="#6b6b6d"/>
<circle cx="236.4" cy="99.7" r="1.05" fill="#ddbb2a"/>
<circle cx="243.0" cy="65.6" r="1.05" fill="#e8ab36"/>
<circle cx="246.2" cy="77.5" r="1.05" fill="#eaa13a"/>
<circle cx="238.8" cy="89.2" r="1.05" fill="#bd900a"/>
<circle cx="202.9" cy="35.1" r="1.05" fill="#82826a"/>
<circle cx="231.9" cy="47.2" r="1.05" fill="#e8d836"/>
<circle cx="197.8" cy="50.6" r="1.05" fill="#71716a"/>
<circle cx="251.5" cy="66.3" r="1.05" fill="#cc701e"/>
<circle cx="197.2" cy="33.3" r="1.05" fill="#565652"/>
<circle cx="238.7" cy="87.3" r="1.05" fill="#c59811"/>
<circle cx="230.8" cy="68.3" r="1.05" fill="#d3c821"/>
<circle cx="222.4" cy="65.7" r="1.05" fill="#a29e0d"/>
<circle cx="228.4" cy="52.6" r="1.05" fill="#c3bc17"/>
<circle cx="246.3" cy="90.1" r="1.05" fill="#d28922"/>
<circle cx="230.8" cy="97.6" r="1.05" fill="#d5ca23"/>
<circle cx="223.4" cy="45.9" r="1.05" fill="#beba25"/>
<circle cx="198.4" cy="45.6" r="1.05" fill="#616158"/>
<circle cx="268.6" cy="79.3" r="1.05" fill="#c43114"/>
<circle cx="231.1" cy="48.2" r="1.05" fill="#bcb00a"/>
<circle cx="253.1" cy="80.2" r="1.05" fill="#d27224"/>
<circle cx="224.3" cy="75.5" r="1.05" fill="#aba70f"/>
<circle cx="204.7" cy="53.5" r="1.05" fill="#666647"/>
<circle cx="204.7" cy="53.7" r="1.05" fill="#7e7e5f"/>
<circle cx="224.1" cy="33.1" r="1.05" fill="#a9a50e"/>
<circle cx="230.7" cy="61.0" r="1.05" fill="#c1b60f"/>
<circle cx="246.3" cy="61.6" r="1.05" fill="#e49b34"/>
<circle cx="259.8" cy="59.8" r="1.05" fill="#bc460e"/>
<circle cx="247.8" cy="78.6" r="1.05" fill="#d88929"/>
<circle cx="250.5" cy="87.3" r="1.05" fill="#c06712"/>
<circle cx="238.2" cy="80.7" r="1.05" fill="#cea31a"/>
<circle cx="251.5" cy="92.6" r="1.05" fill="#d97e2b"/>
<circle cx="268.5" cy="86.0" r="1.05" fill="#d9472a"/>
<circle cx="232.2" cy="60.6" r="1.05" fill="#c9b816"/>
<circle cx="218.8" cy="62.9" r="1.05" fill="#b2b12f"/>
<circle cx="204.7" cy="43.3" r="1.05" fill="#757556"/>
<circle cx="230.9" cy="55.2" r="1.05" fill="#d8cd26"/>
<circle cx="249.4" cy="85.6" r="1.05" fill="#d58026"/>
<circle cx="231.5" cy="51.5" r="1.05" fill="#c6b814"/>
<circle cx="260.1" cy="60.5" r="1.05" fill="#d9632b"/>
<circle cx="217.3" cy="45.7" r="1.05" fill="#a19f27"/>
<circle cx="254.2" cy="81.6" r="1.05" fill="#c25e14"/>
<circle cx="244.9" cy="76.8" r="1.05" fill="#dc982b"/>
<circle cx="232.8" cy="76.3" r="1.05" fill="#e9d536"/>
<circle cx="258.0" cy="81.9" r="1.05" fill="#ce5e20"/>
<circle cx="218.3" cy="42.7" r="1.05" fill="#acaa2b"/>
<circle cx="250.2" cy="95.2" r="1.05" fill="#e58d37"/>
<circle cx="223.2" cy="46.4" r="1.05" fill="#d4d03c"/>
<circle cx="201.1" cy="33.3" r="1.05" fill="#646451"/>
<circle cx="269.8" cy="91.6" r="1.05" fill="#be280f"/>
<circle cx="223.7" cy="36.2" r="1.05" fill="#ccc731"/>
<circle cx="220.3" cy="51.9" r="1.05" fill="#9c9a0f"/>
<circle cx="238.5" cy="68.3" r="1.05" fill="#cda119"/>
<circle cx="243.9" cy="70.6" r="1.05" fill="#d69524"/>
<circle cx="195.4" cy="37.9" r="1.05" fill="#5b5b5e"/>
<circle cx="222.7" cy="50.5" r="1.05" fill="#cfcc39"/>
<circle cx="258.1" cy="88.1" r="1.05" fill="#c35315"/>
<circle cx="256.2" cy="60.2" r="1.05" fill="#e87e3a"/>
<circle cx="256.3" cy="90.7" r="1.05" fill="#d26724"/>
<circle cx="193.7" cy="41.8" r="1.05" fill="#6e6f77"/>
<circle cx="218.3" cy="56.3" r="1.05" fill="#acab2c"/>
<circle cx="229.9" cy="51.2" r="1.05" fill="#e1d930"/>
<circle cx="217.3" cy="48.2" r="1.05" fill="#adac34"/>
<circle cx="236.4" cy="43.9" r="1.05" fill="#bf9c0c"/>
<circle cx="233.5" cy="47.5" r="1.05" fill="#c9b317"/>
<circle cx="217.6" cy="53.8" r="1.05" fill="#98971d"/>
<circle cx="245.6" cy="75.8" r="1.05" fill="#d28b21"/>
<circle cx="221.7" cy="39.5" r="1.05" fill="#c7c434"/>
<circle cx="273.3" cy="77.3" r="1.05" fill="#ce2d1d"/>
<circle cx="230.2" cy="59.7" r="1.05" fill="#c1b80e"/>
<circle cx="231.4" cy="46.4" r="1.05" fill="#d3c521"/>
<circle cx="234.8" cy="71.8" r="1.05" fill="#e1c52e"/>
<circle cx="236.7" cy="83.3" r="1.05" fill="#cda91a"/>
<circle cx="260.5" cy="74.8" r="1.05" fill="#b9420b"/>
<circle cx="261.0" cy="63.7" r="1.05" fill="#b53b06"/>
<circle cx="261.2" cy="77.8" r="1.05" fill="#ce5420"/>
<circle cx="198.9" cy="44.6" r="1.05" fill="#606055"/>
<circle cx="259.4" cy="81.5" r="1.05" fill="#c04c12"/>
<circle cx="235.4" cy="71.4" r="1.05" fill="#e5c732"/>
<circle cx="226.4" cy="36.5" r="1.05" fill="#dcd638"/>
<circle cx="204.8" cy="38.3" r="1.05" fill="#8c8c6c"/>
<circle cx="218.2" cy="62.8" r="1.05" fill="#acaa2c"/>
<circle cx="253.3" cy="93.6" r="1.05" fill="#ca691c"/>
<circle cx="203.5" cy="49.2" r="1.05" fill="#7e7e64"/>
<circle cx="269.4" cy="59.6" r="1.05" fill="#c73218"/>
<circle cx="228.9" cy="51.7" r="1.05" fill="#d0c923"/>
<circle cx="235.3" cy="70.5" r="1.05" fill="#dabb26"/>
<circle cx="257.1" cy="77.0" r="1.05" fill="#df7231"/>
<circle cx="224.6" cy="76.6" r="1.05" fill="#d7d23a"/>
<circle cx="222.3" cy="62.8" r="1.05" fill="#a8a514"/>
<circle cx="220.1" cy="32.5" r="1.05" fill="#a4a218"/>
<circle cx="228.2" cy="65.2" r="1.05" fill="#c7c01c"/>
<circle cx="230.8" cy="90.3" r="1.05" fill="#b8ac06"/>
<circle cx="237.0" cy="65.2" r="1.05" fill="#c6a113"/>
<circle cx="237.3" cy="74.5" r="1.05" fill="#cea81b"/>
<circle cx="243.8" cy="78.1" r="1.05" fill="#c48412"/>
<circle cx="235.2" cy="81.6" r="1.05" fill="#bfa10c"/>
<circle cx="262.0" cy="93.1" r="1.05" fill="#b63907"/>
<circle cx="229.5" cy="41.0" r="1.05" fill="#c4bc14"/>
<circle cx="226.9" cy="51.2" r="1.05" fill="#d5cf2f"/>
<circle cx="214.6" cy="29.1" r="1.05" fill="#a6a53f"/>
<circle cx="272.2" cy="63.0" r="1.05" fill="#c22612"/>
<circle cx="261.3" cy="60.0" r="1.05" fill="#bc420e"/>
<circle cx="236.1" cy="58.8" r="1.05" fill="#d7b624"/>
<circle cx="242.3" cy="73.1" r="1.05" fill="#e7ac34"/>
<circle cx="243.8" cy="75.2" r="1.05" fill="#dd9d2c"/>
<circle cx="215.3" cy="30.8" r="1.05" fill="#a8a73c"/>
<circle cx="200.7" cy="53.2" r="1.05" fill="#6e6e5d"/>
<circle cx="232.6" cy="45.2" r="1.05" fill="#e9d636"/>
<circle cx="219.6" cy="56.6" r="1.05" fill="#a4a21b"/>
<circle cx="244.1" cy="89.9" r="1.05" fill="#d08f1e"/>
<circle cx="236.2" cy="55.0" r="1.05" fill="#bd9b09"/>
<circle cx="192.4" cy="36.3" r="1.05" fill="#5f616e"/>
<circle cx="222.8" cy="41.2" r="1.05" fill="#aeab18"/>
<circle cx="239.6" cy="92.5" r="1.05" fill="#c2920e"/>
<circle cx="238.6" cy="80.6" r="1.05" fill="#ca9e17"/>
<circle cx="230.2" cy="35.7" r="1.05" fill="#cdc41a"/>
<circle cx="211.8" cy="43.1" r="1.05" fill="#979743"/>
<circle cx="230.1" cy="39.2" r="1.05" fill="#bcb40a"/>
<circle cx="231.3" cy="62.3" r="1.05" fill="#dbce29"/>
<circle cx="218.8" cy="54.6" r="1.05" fill="#c2c03e"/>
<circle cx="259.7" cy="71.4" r="1.05" fill="#bf4a11"/>
<circle cx="259.3" cy="66.9" r="1.05" fill="#b9450b"/>
<circle cx="228.2" cy="74.6" r="1.05" fill="#d4cd29"/>
<circle cx="223.5" cy="51.5" r="1.05" fill="#c7c32e"/>
<circle cx="252.9" cy="74.6" r="1.05" fill="#cd6d1f"/>
<circle cx="237.0" cy="63.3" r="1.05" fill="#c5a011"/>
<circle cx="261.5" cy="93.9" r="1.05" fill="#c14613"/>
<circle cx="257.2" cy="59.9" r="1.05" fill="#c65818"/>
<circle cx="262.4" cy="91.0" r="1.05" fill="#d45626"/>
<circle cx="199.8" cy="33.1" r="1.05" fill="#707062"/>
<circle cx="203.7" cy="48.3" r="1.05" fill="#5f5f44"/>
<circle cx="212.1" cy="42.5" r="1.05" fill="#8c8c36"/>
<circle cx="205.2" cy="41.3" r="1.05" fill="#5f5f3d"/>
<circle cx="238.1" cy="62.3" r="1.05" fill="#c89e15"/>
<circle cx="250.1" cy="88.0" r="1.05" fill="#dd862f"/>
<circle cx="235.1" cy="88.3" r="1.05" fill="#c2a40f"/>
<circle cx="234.2" cy="42.3" r="1.05" fill="#cdb41b"/>
<circle cx="237.3" cy="85.5" r="1.05" fill="#dbb428"/>
<circle cx="239.7" cy="97.4" r="1.05" fill="#e6b532"/>
<circle cx="236.7" cy="47.4" r="1.05" fill="#eac536"/>
<circle cx="270.6" cy="74.2" r="1.05" fill="#ce361e"/>
<circle cx="271.2" cy="85.3" r="1.05" fill="#c32913"/>
<circle cx="213.5" cy="29.2" r="1.05" fill="#9d9d3e"/>
<circle cx="247.6" cy="95.0" r="1.05" fill="#c27412"/>
<circle cx="257.8" cy="73.1" r="1.05" fill="#bf4f11"/>
<circle cx="256.5" cy="69.2" r="1.05" fill="#c25714"/>
<circle cx="231.0" cy="47.1" r="1.05" fill="#d6c923"/>
<circle cx="261.8" cy="69.2" r="1.05" fill="#d05422"/>
<circle cx="218.9" cy="61.3" r="1.05" fill="#aaa825"/>
<circle cx="258.4" cy="70.2" r="1.05" fill="#bb4a0d"/>
<circle cx="239.7" cy="93.2" r="1.05" fill="#efbe3b"/>
<circle cx="265.7" cy="75.9" r="1.05" fill="#be350f"/>
<circle cx="269.6" cy="89.4" r="1.05" fill="#da452b"/>
<circle cx="219.2" cy="44.9" r="1.05" fill="#bdbb36"/>
<circle cx="234.5" cy="98.0" r="1.05" fill="#d6bb23"/>
<circle cx="269.0" cy="67.5" r="1.05" fill="#e04c30"/>
<circle cx="235.4" cy="81.1" r="1.05" fill="#ebcc38"/>
<circle cx="242.0" cy="60.2" r="1.05" fill="#dda32a"/>
<circle cx="233.6" cy="79.2" r="1.05" fill="#e8d136"/>
<circle cx="244.3" cy="87.2" r="1.05" fill="#c88617"/>
<circle cx="219.5" cy="39.0" r="1.05" fill="#bbb933"/>
<circle cx="233.2" cy="70.9" r="1.05" fill="#c9b416"/>
<circle cx="219.9" cy="49.1" r="1.05" fill="#c2c037"/>
<circle cx="220.9" cy="66.0" r="1.05" fill="#ccc93c"/>
<circle cx="198.5" cy="31.2" r="1.05" fill="#606057"/>
<circle cx="249.2" cy="68.8" r="1.05" fill="#c16d12"/>
<circle cx="258.5" cy="62.6" r="1.05" fill="#bd4b0f"/>
<circle cx="260.3" cy="88.9" r="1.05" fill="#bf4811"/>
<circle cx="271.4" cy="88.1" r="1.05" fill="#b81e08"/>
<circle cx="255.3" cy="84.9" r="1.05" fill="#d77029"/>
<circle cx="247.6" cy="77.5" r="1.05" fill="#e69836"/>
<circle cx="236.7" cy="43.2" r="1.05" fill="#c8a414"/>
<circle cx="256.4" cy="84.4" r="1.05" fill="#c65b18"/>
<circle cx="193.1" cy="43.7" r="1.05" fill="#6d6e79"/>
<circle cx="215.7" cy="40.3" r="1.05" fill="#afae41"/>
<circle cx="250.4" cy="85.9" r="1.05" fill="#d57d27"/>
<circle cx="219.8" cy="44.6" r="1.05" fill="#a8a61d"/>
<circle cx="214.3" cy="43.7" r="1.05" fill="#adac48"/>
<circle cx="243.4" cy="60.4" r="1.05" fill="#cf911e"/>
<circle cx="225.8" cy="67.6" r="1.05" fill="#d6d034"/>
<circle cx="207.8" cy="41.7" r="1.05" fill="#6d6d37"/>
<circle cx="230.7" cy="84.6" r="1.05" fill="#bfb40d"/>
<circle cx="228.8" cy="52.1" r="1.05" fill="#ddd630"/>
<circle cx="231.9" cy="44.2" r="1.05" fill="#cebe1c"/>
<circle cx="243.5" cy="93.3" r="1.05" fill="#d1921f"/>
<circle cx="262.8" cy="88.8" r="1.05" fill="#c54517"/>
<circle cx="254.0" cy="59.3" r="1.05" fill="#cd691f"/>
<circle cx="218.9" cy="54.8" r="1.05" fill="#b2b12e"/>
<circle cx="232.3" cy="69.0" r="1.05" fill="#cebd1c"/>
<circle cx="207.9" cy="57.2" r="1.05" fill="#72723c"/>
<circle cx="225.3" cy="81.0" r="1.05" fill="#c7c126"/>
<circle cx="219.3" cy="67.4" r="1.05" fill="#bab833"/>
<circle cx="214.3" cy="26.4" r="1.05" fill="#9c9c38"/>
<circle cx="216.7" cy="28.5" r="1.05" fill="#999723"/>
<circle cx="227.2" cy="89.5" r="1.05" fill="#c4be1d"/>
<circle cx="225.9" cy="30.8" r="1.05" fill="#c6c024"/>
<circle cx="232.7" cy="36.2" r="1.05" fill="#c7b415"/>
<circle cx="209.7" cy="26.9" r="1.05" fill="#8c8c48"/>
<circle cx="191.1" cy="33.3" r="1.05" fill="#57596c"/>
<circle cx="266.2" cy="95.6" r="1.05" fill="#b52a06"/>
<circle cx="198.4" cy="30.0" r="1.05" fill="#696960"/>
<circle cx="218.8" cy="29.8" r="1.05" fill="#abaa27"/>
<circle cx="275.4" cy="70.3" r="1.05" fill="#ca2418"/>
<circle cx="190.3" cy="37.1" r="1.05" fill="#47495f"/>
<circle cx="226.3" cy="89.3" r="1.05" fill="#b6b011"/>
<circle cx="218.4" cy="66.6" r="1.05" fill="#a3a122"/>
<circle cx="259.9" cy="56.0" r="1.05" fill="#d66028"/>
<circle cx="228.0" cy="93.5" r="1.05" fill="#c0b916"/>
<circle cx="234.6" cy="102.4" r="1.05" fill="#c1a50e"/>
<circle cx="275.8" cy="77.7" r="1.05" fill="#c51e13"/>
<circle cx="192.3" cy="47.1" r="1.05" fill="#4e4f5d"/>
<circle cx="192.0" cy="40.8" r="1.05" fill="#545565"/>
<circle cx="245.3" cy="54.2" r="1.05" fill="#d59025"/>
<circle cx="244.1" cy="98.0" r="1.05" fill="#d99827"/>
<circle cx="222.7" cy="75.9" r="1.05" fill="#b4b01d"/>
<circle cx="217.9" cy="67.6" r="1.05" fill="#a3a125"/>
<circle cx="215.2" cy="64.1" r="1.05" fill="#a8a73d"/>
<circle cx="235.9" cy="41.3" r="1.05" fill="#dab927"/>
<circle cx="257.9" cy="95.8" r="1.05" fill="#d06122"/>
<circle cx="261.2" cy="57.4" r="1.05" fill="#d25824"/>
<circle cx="253.4" cy="55.7" r="1.05" fill="#ca691c"/>
<circle cx="251.4" cy="54.6" r="1.05" fill="#d67a28"/>
<circle cx="215.5" cy="62.3" r="1.05" fill="#99982c"/>
<circle cx="194.8" cy="50.0" r="1.05" fill="#4f5055"/>
<circle cx="217.0" cy="65.6" r="1.05" fill="#9f9e27"/>
<circle cx="256.2" cy="56.1" r="1.05" fill="#d66c28"/>
<circle cx="208.6" cy="27.4" r="1.05" fill="#77773c"/>
<circle cx="236.4" cy="41.5" r="1.05" fill="#ddba29"/>
<circle cx="248.8" cy="54.5" r="1.05" fill="#d9872b"/>
<circle cx="226.3" cy="89.5" r="1.05" fill="#bcb718"/>
<circle cx="214.9" cy="62.1" r="1.05" fill="#94932b"/>
<circle cx="199.3" cy="54.6" r="1.05" fill="#727266"/>
<circle cx="262.6" cy="55.4" r="1.05" fill="#c64718"/>
<circle cx="204.9" cy="28.8" r="1.05" fill="#646445"/>
<circle cx="260.8" cy="56.8" r="1.05" fill="#c74f19"/>
<circle cx="202.6" cy="54.7" r="1.05" fill="#71715a"/>
<circle cx="230.2" cy="33.1" r="1.05" fill="#d7ce24"/>
<circle cx="208.8" cy="58.1" r="1.05" fill="#8d8d50"/>
<circle cx="237.7" cy="41.4" r="1.05" fill="#d2a91e"/>
<circle cx="274.0" cy="60.5" r="1.05" fill="#b20f00"/>
<circle cx="232.7" cy="37.7" r="1.05" fill="#d3c021"/>
<circle cx="212.4" cy="60.5" r="1.05" fill="#8b8b34"/>
<circle cx="211.2" cy="26.3" r="1.05" fill="#808031"/>
<circle cx="251.6" cy="55.8" r="1.05" fill="#cc711e"/>
<circle cx="241.4" cy="47.0" r="1.05" fill="#d59e22"/>
<circle cx="253.1" cy="97.8" r="1.05" fill="#c26214"/>
<circle cx="225.4" cy="30.3" r="1.05" fill="#afaa0f"/>
<circle cx="225.0" cy="30.3" r="1.05" fill="#c5c026"/>
<circle cx="228.6" cy="94.3" r="1.05" fill="#c4bd17"/>
<circle cx="203.5" cy="30.4" r="1.05" fill="#636348"/>
<circle cx="227.3" cy="95.6" r="1.05" fill="#c1bb19"/>
<circle cx="212.6" cy="27.3" r="1.05" fill="#8f8f36"/>
<circle cx="193.0" cy="49.9" r="1.05" fill="#595a66"/>
<circle cx="273.9" cy="70.9" r="1.05" fill="#ce2b1c"/>
<circle cx="265.3" cy="56.1" r="1.05" fill="#bd350e"/>
<circle cx="255.8" cy="96.5" r="1.05" fill="#d76e29"/>
<circle cx="259.1" cy="55.3" r="1.05" fill="#cb581d"/>
<circle cx="196.3" cy="51.7" r="1.05" fill="#545453"/>
<circle cx="270.0" cy="92.8" r="1.05" fill="#b72007"/>
<circle cx="227.1" cy="93.2" r="1.05" fill="#bcb515"/>
<circle cx="276.2" cy="70.7" r="1.05" fill="#b30b01"/>
<circle cx="222.8" cy="30.3" r="1.05" fill="#b2ae1b"/>
<circle cx="273.3" cy="89.9" r="1.05" fill="#bd1d0c"/>
<circle cx="213.7" cy="27.7" r="1.05" fill="#8c8c2c"/>
<circle cx="222.5" cy="29.4" r="1.05" fill="#a8a413"/>
<circle cx="209.7" cy="56.8" r="1.05" fill="#888845"/>
<circle cx="220.2" cy="28.3" r="1.05" fill="#a19e14"/>
<circle cx="223.4" cy="30.9" r="1.05" fill="#b2ae19"/>
<circle cx="207.9" cy="29.4" r="1.05" fill="#6e6e38"/>
<circle cx="222.8" cy="29.8" r="1.05" fill="#aaa714"/>
<circle cx="222.8" cy="75.5" r="1.05" fill="#c4c02d"/>
<circle cx="235.6" cy="103.6" r="1.05" fill="#c6a613"/>
<circle cx="274.9" cy="69.8" r="1.05" fill="#c52114"/>
<circle cx="247.5" cy="54.7" r="1.05" fill="#d08321"/>
<circle cx="275.3" cy="70.7" r="1.05" fill="#c41e12"/>
<circle cx="274.5" cy="58.5" r="1.05" fill="#c72315"/>
<circle cx="206.1" cy="56.0" r="1.05" fill="#74744c"/>
<circle cx="201.2" cy="55.8" r="1.05" fill="#6a6a57"/>
<circle cx="273.9" cy="62.9" r="1.05" fill="#c11f10"/>
<circle cx="221.7" cy="30.2" r="1.05" fill="#a8a515"/>
<circle cx="192.0" cy="41.5" r="1.05" fill="#616372"/>
<circle cx="228.1" cy="32.5" r="1.05" fill="#bfb915"/>
<circle cx="262.6" cy="56.2" r="1.05" fill="#d05222"/>
<circle cx="238.3" cy="43.0" r="1.05" fill="#dbb128"/>
<circle cx="213.8" cy="61.9" r="1.05" fill="#868524"/>
<circle cx="198.2" cy="29.3" r="1.05" fill="#707067"/>
<circle cx="190.6" cy="44.1" r="1.05" fill="#48495e"/>
<circle cx="252.4" cy="97.2" r="1.05" fill="#c06112"/>
<circle cx="248.4" cy="55.0" r="1.05" fill="#c57416"/>
<circle cx="191.3" cy="37.2" r="1.05" fill="#656670"/>
<circle cx="188.6" cy="27.4" r="1.05" fill="#55576b"/>
<circle cx="194.7" cy="27.3" r="1.05" fill="#595956"/>
<circle cx="187.5" cy="40.1" r="1.05" fill="#555770"/>
<circle cx="193.9" cy="48.5" r="1.05" fill="#686969"/>
<circle cx="186.6" cy="32.6" r="1.05" fill="#51536f"/>
<circle cx="188.4" cy="37.7" r="1.05" fill="#5e6075"/>
<circle cx="189.7" cy="42.9" r="1.05" fill="#525464"/>
<circle cx="185.3" cy="41.9" r="1.05" fill="#46486a"/>
<circle cx="190.4" cy="53.3" r="1.05" fill="#595a68"/>
<circle cx="183.4" cy="29.6" r="1.05" fill="#43466e"/>
<circle cx="189.0" cy="47.1" r="1.05" fill="#525467"/>
<circle cx="184.5" cy="39.4" r="1.05" fill="#55577c"/>
<circle cx="190.3" cy="28.3" r="1.05" fill="#676877"/>
<circle cx="180.0" cy="21.8" r="1.05" fill="#40437a"/>
<circle cx="189.3" cy="31.0" r="1.05" fill="#535466"/>
<circle cx="181.5" cy="25.4" r="1.05" fill="#4c4e7f"/>
<circle cx="180.3" cy="21.0" r="1.05" fill="#4a4d83"/>
<circle cx="191.5" cy="35.7" r="1.05" fill="#5b5c66"/>
<circle cx="186.4" cy="27.0" r="1.05" fill="#515471"/>
<circle cx="187.6" cy="27.5" r="1.05" fill="#565870"/>
<circle cx="184.5" cy="33.6" r="1.05" fill="#4f5276"/>
<circle cx="192.8" cy="26.2" r="1.05" fill="#646569"/>
<circle cx="183.9" cy="25.0" r="1.05" fill="#474970"/>
<circle cx="192.7" cy="27.6" r="1.05" fill="#626267"/>
<circle cx="186.5" cy="40.1" r="1.05" fill="#5b5d7a"/>
<circle cx="193.7" cy="48.4" r="1.05" fill="#575859"/>
<circle cx="185.1" cy="28.8" r="1.05" fill="#4a4d6f"/>
<circle cx="191.2" cy="53.6" r="1.05" fill="#53545e"/>
<circle cx="188.7" cy="45.1" r="1.05" fill="#535569"/>
<circle cx="194.9" cy="54.3" r="1.05" fill="#5e5e5a"/>
<circle cx="194.3" cy="54.1" r="1.05" fill="#6e6e6d"/>
<circle cx="189.3" cy="53.3" r="1.05" fill="#66687a"/>
<circle cx="186.9" cy="41.2" r="1.05" fill="#585a76"/>
<circle cx="189.0" cy="53.8" r="1.05" fill="#505164"/>
<circle cx="194.2" cy="48.1" r="1.05" fill="#5d5d5d"/>
<circle cx="187.0" cy="33.1" r="1.05" fill="#4f516c"/>
<circle cx="189.3" cy="36.4" r="1.05" fill="#626375"/>
<circle cx="185.9" cy="33.7" r="1.05" fill="#565877"/>
<circle cx="194.7" cy="55.1" r="1.05" fill="#6d6d6a"/>
<circle cx="184.2" cy="26.7" r="1.05" fill="#4d5075"/>
<circle cx="185.7" cy="25.7" r="1.05" fill="#464868"/>
<circle cx="191.4" cy="36.3" r="1.05" fill="#575862"/>
<circle cx="191.5" cy="36.2" r="1.05" fill="#60616b"/>
<circle cx="184.9" cy="31.1" r="1.05" fill="#444669"/>
<circle cx="189.1" cy="24.6" r="1.05" fill="#5d5f72"/>
<circle cx="181.1" cy="30.3" r="1.05" fill="#494c7e"/>
<circle cx="187.3" cy="27.3" r="1.05" fill="#5e607a"/>
<circle cx="187.9" cy="40.3" r="1.05" fill="#4f5169"/>
<circle cx="188.4" cy="30.2" r="1.05" fill="#505267"/>
<circle cx="187.5" cy="47.5" r="1.05" fill="#52556e"/>
<circle cx="191.1" cy="28.9" r="1.05" fill="#656671"/>
<circle cx="187.0" cy="44.6" r="1.05" fill="#4b4d68"/>
<circle cx="186.1" cy="23.5" r="1.05" fill="#484a69"/>
<circle cx="187.5" cy="48.5" r="1.05" fill="#595b74"/>
<circle cx="184.5" cy="28.1" r="1.05" fill="#4b4e72"/>
<circle cx="193.3" cy="27.8" r="1.05" fill="#5d5d60"/>
<circle cx="187.3" cy="41.0" r="1.05" fill="#585a74"/>
<circle cx="184.6" cy="28.5" r="1.05" fill="#4f5276"/>
<circle cx="182.2" cy="27.6" r="1.05" fill="#434673"/>
<circle cx="186.9" cy="39.4" r="1.05" fill="#4e506c"/>
<circle cx="194.4" cy="27.5" r="1.05" fill="#626260"/>
<circle cx="192.4" cy="45.0" r="1.05" fill="#65656b"/>
<circle cx="184.1" cy="33.1" r="1.05" fill="#51547a"/>
<circle cx="191.2" cy="52.3" r="1.05" fill="#60616b"/>
<circle cx="185.6" cy="33.0" r="1.05" fill="#4f5172"/>
<circle cx="191.5" cy="35.9" r="1.05" fill="#6a6b74"/>
<circle cx="181.8" cy="22.5" r="1.05" fill="#3d406f"/>
<circle cx="189.0" cy="28.0" r="1.05" fill="#595b6e"/>
<circle cx="184.7" cy="22.1" r="1.05" fill="#525579"/>
<circle cx="186.6" cy="43.8" r="1.05" fill="#5b5d79"/>
<circle cx="192.9" cy="28.6" r="1.05" fill="#5b5c60"/>
<circle cx="193.9" cy="29.3" r="1.05" fill="#6e6f6f"/>
<circle cx="184.9" cy="27.1" r="1.05" fill="#56597b"/>
<circle cx="188.4" cy="34.6" r="1.05" fill="#52546a"/>
<circle cx="190.6" cy="47.4" r="1.05" fill="#676875"/>
<circle cx="195.5" cy="27.8" r="1.05" fill="#63635d"/>
<circle cx="185.2" cy="33.0" r="1.05" fill="#545678"/>
<circle cx="189.6" cy="41.6" r="1.05" fill="#5f6172"/>
<circle cx="192.9" cy="54.4" r="1.05" fill="#5b5c60"/>
<circle cx="191.3" cy="52.0" r="1.05" fill="#62636d"/>
<circle cx="181.0" cy="28.4" r="1.05" fill="#494c7e"/>
<circle cx="184.3" cy="33.4" r="1.05" fill="#55587d"/>
<circle cx="191.4" cy="41.1" r="1.05" fill="#61626c"/>
<circle cx="184.6" cy="24.2" r="1.05" fill="#515377"/>
<circle cx="190.1" cy="50.0" r="1.05" fill="#5f6170"/>
<circle cx="187.2" cy="45.8" r="1.05" fill="#5d5f79"/>
<circle cx="188.3" cy="42.4" r="1.05" fill="#4d4f65"/>
<circle cx="194.1" cy="52.4" r="1.05" fill="#70706f"/>
<circle cx="190.0" cy="50.7" r="1.05" fill="#626473"/>
<circle cx="188.3" cy="42.5" r="1.05" fill="#5c5e74"/>
<circle cx="189.9" cy="43.8" r="1.05" fill="#626373"/>
<circle cx="186.3" cy="46.7" r="1.05" fill="#545674"/>
<circle cx="191.4" cy="36.4" r="1.05" fill="#61626c"/>
<circle cx="196.4" cy="52.2" r="1.05" fill="#707067"/>
<circle cx="187.3" cy="22.1" r="1.05" fill="#4e5069"/>
<circle cx="187.4" cy="22.8" r="1.05" fill="#575972"/>
<circle cx="185.6" cy="35.4" r="1.05" fill="#4e5070"/>
<circle cx="190.5" cy="37.2" r="1.05" fill="#5c5d6a"/>
<circle cx="187.1" cy="48.7" r="1.05" fill="#53556f"/>
<circle cx="191.7" cy="29.1" r="1.05" fill="#575860"/>
<circle cx="184.3" cy="22.8" r="1.05" fill="#52547a"/>
<circle cx="190.8" cy="35.5" r="1.05" fill="#5f616d"/>
<circle cx="195.4" cy="27.9" r="1.05" fill="#65655f"/>
<circle cx="185.5" cy="32.4" r="1.05" fill="#515374"/>
<circle cx="185.8" cy="41.2" r="1.05" fill="#454767"/>
<circle cx="184.1" cy="28.8" r="1.05" fill="#4e5177"/>
<circle cx="187.8" cy="22.0" r="1.05" fill="#4d4f67"/>
<circle cx="188.8" cy="36.7" r="1.05" fill="#525367"/>
<circle cx="187.6" cy="41.5" r="1.05" fill="#62647d"/>
<circle cx="191.0" cy="40.7" r="1.05" fill="#5f606c"/>
<circle cx="185.4" cy="26.9" r="1.05" fill="#565879"/>
<circle cx="186.8" cy="47.6" r="1.05" fill="#5f617d"/>
<circle cx="186.9" cy="49.6" r="1.05" fill="#555773"/>
<circle cx="187.5" cy="43.0" r="1.05" fill="#575972"/>
<circle cx="190.7" cy="23.9" r="1.05" fill="#5d5e6b"/>
<circle cx="190.8" cy="36.3" r="1.05" fill="#656773"/>
<circle cx="192.0" cy="31.5" r="1.05" fill="#5b5c64"/>
<circle cx="182.3" cy="31.4" r="1.05" fill="#444774"/>
<circle cx="191.0" cy="55.0" r="1.05" fill="#53545f"/>
<circle cx="185.2" cy="31.7" r="1.05" fill="#585b7c"/>
<circle cx="180.1" cy="21.0" r="1.05" fill="#4d5086"/>
<circle cx="189.9" cy="25.8" r="1.05" fill="#676978"/>
<circle cx="189.5" cy="53.1" r="1.05" fill="#616273"/>
<circle cx="180.0" cy="22.2" r="1.05" fill="#44467d"/>
<circle cx="190.7" cy="45.1" r="1.05" fill="#676875"/>
<circle cx="186.0" cy="23.3" r="1.05" fill="#5a5d7b"/>
<circle cx="186.9" cy="36.1" r="1.05" fill="#555773"/>
<circle cx="192.1" cy="54.7" r="1.05" fill="#5e5e66"/>
<circle cx="190.0" cy="43.0" r="1.05" fill="#545564"/>
<circle cx="191.4" cy="34.9" r="1.05" fill="#676872"/>
<circle cx="192.4" cy="53.6" r="1.05" fill="#56575d"/>
<circle cx="187.5" cy="40.6" r="1.05" fill="#4d4f68"/>
<circle cx="184.7" cy="38.8" r="1.05" fill="#46496d"/>
<circle cx="188.5" cy="29.5" r="1.05" fill="#5e6075"/>
<circle cx="191.3" cy="52.5" r="1.05" fill="#63646e"/>
<circle cx="184.5" cy="37.4" r="1.05" fill="#45486c"/>
<circle cx="189.5" cy="29.5" r="1.05" fill="#626475"/>
<circle cx="182.3" cy="25.4" r="1.05" fill="#4d507d"/>
<circle cx="182.6" cy="20.8" r="1.05" fill="#4f527e"/>
<circle cx="191.3" cy="34.4" r="1.05" fill="#555661"/>
<circle cx="190.6" cy="37.8" r="1.05" fill="#626470"/>
<circle cx="188.9" cy="32.4" r="1.05" fill="#535468"/>
<circle cx="186.2" cy="30.9" r="1.05" fill="#474967"/>
<circle cx="183.7" cy="27.2" r="1.05" fill="#43456d"/>
<circle cx="192.5" cy="47.7" r="1.05" fill="#65656b"/>
<circle cx="183.8" cy="20.8" r="1.05" fill="#45476f"/>
<circle cx="189.3" cy="43.9" r="1.05" fill="#5c5e70"/>
<circle cx="183.8" cy="32.6" r="1.05" fill="#52557c"/>
<circle cx="192.6" cy="51.2" r="1.05" fill="#5b5b61"/>
<circle cx="150.7" cy="9.1" r="1.3" fill="#1f1f7b"/>
<circle cx="151.8" cy="9.5" r="1.3" fill="#1a1a76"/>
<circle cx="156.4" cy="7.4" r="1.3" fill="#13136f"/>
<circle cx="159.6" cy="15.6" r="1.3" fill="#1b1b77"/>
<circle cx="160.0" cy="16.8" r="1.3" fill="#151571"/>
<circle cx="166.1" cy="12.3" r="1.3" fill="#13136f"/>
<circle cx="167.0" cy="12.8" r="1.3" fill="#171773"/>
<circle cx="160.4" cy="17.2" r="1.3" fill="#252581"/>
<circle cx="165.3" cy="21.3" r="1.3" fill="#1f1f7b"/>
<circle cx="171.8" cy="18.0" r="1.3" fill="#1a1a76"/>
<circle cx="174.3" cy="19.6" r="1.3" fill="#1d1d79"/>
<circle cx="175.9" cy="16.4" r="1.3" fill="#191975"/>
<circle cx="170.2" cy="24.5" r="1.3" fill="#1d1d79"/>
<circle cx="162.9" cy="31.0" r="1.3" fill="#171773"/>
<circle cx="167.0" cy="31.0" r="1.3" fill="#23237f"/>
<circle cx="167.4" cy="32.5" r="1.3" fill="#21217d"/>
<circle cx="173.5" cy="30.2" r="1.3" fill="#1a1a76"/>
<circle cx="168.6" cy="43.2" r="1.3" fill="#1d1d79"/>
<circle cx="167.8" cy="44.0" r="1.3" fill="#191975"/>
<circle cx="177.5" cy="22.9" r="1.3" fill="#21217d"/>
<circle cx="180.0" cy="25.3" r="1.3" fill="#22227e"/>
<circle cx="178.0" cy="21.0" r="1.3" fill="#242480"/>
<circle cx="176.0" cy="27.0" r="1.3" fill="#141470"/>
<circle cx="179.5" cy="29.0" r="1.3" fill="#242480"/>
<circle cx="172.5" cy="21.5" r="1.3" fill="#161672"/>
<circle cx="169.0" cy="20.0" r="1.3" fill="#141470"/>
<circle cx="163.0" cy="14.0" r="1.3" fill="#1a1a76"/>
<circle cx="243.0" cy="38.0" r="1.05" fill="#cb8e19"/>
<circle cx="245.0" cy="41.0" r="1.05" fill="#ba7609"/>
<circle cx="248.0" cy="44.0" r="1.05" fill="#c97a1a"/>
<circle cx="250.0" cy="40.0" r="1.05" fill="#d37c25"/>
<circle cx="252.0" cy="47.0" r="1.05" fill="#cc6e1e"/>
<circle cx="247.0" cy="50.0" r="1.05" fill="#cf831f"/>
<circle cx="254.0" cy="52.0" r="1.05" fill="#b8540a"/>
<circle cx="251.0" cy="53.0" r="1.05" fill="#bf6511"/>
<circle cx="256.0" cy="50.0" r="1.05" fill="#b9500b"/>
<circle cx="244.0" cy="45.0" r="1.05" fill="#c28211"/>
<circle cx="249.0" cy="36.0" r="1.05" fill="#d07d22"/>
<circle cx="238.0" cy="33.0" r="1.05" fill="#d5ab21"/>
<circle cx="233.0" cy="30.0" r="1.05" fill="#bca709"/>
<circle cx="236.0" cy="27.0" r="1.05" fill="#c7a513"/>
<circle cx="259.0" cy="54.0" r="1.05" fill="#c24f14"/>
<circle cx="277.3" cy="90.8" r="1.25" fill="#bc0808"/>
<circle cx="282.0" cy="93.4" r="1.25" fill="#be0a0a"/>
<circle cx="286.1" cy="96.0" r="1.25" fill="#b80404"/>
<circle cx="275.2" cy="80.6" r="1.25" fill="#b00000"/>
<circle cx="285.8" cy="97.1" r="1.25" fill="#be0a0a"/>
<circle cx="273.9" cy="85.2" r="1.25" fill="#af0000"/>
<circle cx="278.3" cy="94.9" r="1.25" fill="#be0a0a"/>
<circle cx="282.8" cy="97.4" r="1.25" fill="#bc0808"/>
<circle cx="285.4" cy="88.6" r="1.25" fill="#c81414"/>
<circle cx="286.9" cy="100.6" r="1.25" fill="#b70303"/>
<circle cx="273.8" cy="81.2" r="1.25" fill="#c81414"/>
<circle cx="284.6" cy="90.0" r="1.25" fill="#af0000"/>
<circle cx="278.7" cy="85.5" r="1.25" fill="#cc1818"/>
<circle cx="283.5" cy="93.1" r="1.25" fill="#c61212"/>
<circle cx="279.6" cy="89.6" r="1.25" fill="#cb1717"/>
<circle cx="289.9" cy="101.5" r="1.25" fill="#b20000"/>
<circle cx="273.7" cy="81.9" r="1.25" fill="#bf0b0b"/>
<circle cx="283.1" cy="96.5" r="1.25" fill="#b20000"/>
<circle cx="287.9" cy="99.2" r="1.25" fill="#b50101"/>
<circle cx="281.8" cy="87.7" r="1.25" fill="#b80404"/>
<circle cx="292.0" cy="105.7" r="1.25" fill="#c81414"/>
<circle cx="291.5" cy="101.8" r="1.25" fill="#b50101"/>
<circle cx="278.0" cy="86.0" r="1.25" fill="#b70303"/>
<circle cx="276.1" cy="85.5" r="1.25" fill="#b60202"/>
<circle cx="283.6" cy="98.4" r="1.25" fill="#cb1717"/>
<circle cx="278.7" cy="91.3" r="1.25" fill="#b40000"/>
<circle cx="278.8" cy="83.2" r="1.25" fill="#b60202"/>
<circle cx="275.8" cy="80.6" r="1.25" fill="#b40000"/>
<circle cx="295.1" cy="102.5" r="1.25" fill="#bb0707"/>
<circle cx="279.8" cy="86.0" r="1.25" fill="#b60202"/>
<circle cx="287.3" cy="103.6" r="1.25" fill="#c00c0c"/>
<circle cx="280.0" cy="92.6" r="1.25" fill="#b10000"/>
<circle cx="273.0" cy="85.7" r="1.25" fill="#c10d0d"/>
<circle cx="279.5" cy="87.9" r="1.25" fill="#af0000"/>
<circle cx="277.2" cy="88.8" r="1.25" fill="#b40000"/>
<circle cx="279.1" cy="90.3" r="1.25" fill="#b90505"/>
<circle cx="294.8" cy="102.9" r="1.25" fill="#c30f0f"/>
<circle cx="279.0" cy="65.0" r="1.05" fill="#bc1209"/>
<circle cx="283.0" cy="75.0" r="1.05" fill="#b30700"/>
<circle cx="286.0" cy="68.0" r="1.05" fill="#b20300"/>
<circle cx="277.0" cy="60.0" r="1.05" fill="#b00700"/>
<circle cx="281.0" cy="85.0" r="1.05" fill="#c3170f"/>
<circle cx="270.0" cy="100.0" r="1.05" fill="#c12a11"/>
<circle cx="262.0" cy="99.0" r="1.05" fill="#cb4f1d"/>
<circle cx="255.0" cy="99.0" r="1.05" fill="#bd560f"/>
<circle cx="245.0" cy="100.0" r="1.05" fill="#ce891d"/>
<circle cx="238.0" cy="104.0" r="1.05" fill="#cba117"/>
</g>
<rect x="147.5" y="5.5" width="150.0" height="103.0" fill="none" stroke="#7a7a7a" stroke-width="1.1"/>
<text x="191.92" y="118.70" font-size="8.28" fill="#1a1a1a" textLength="61.02" lengthAdjust="spacingAndGlyphs" stroke="#1a1a1a" stroke-width="0.35">Thio + IL-4c AAM</text>
<g transform="translate(144.6,74.1) rotate(-90)">
<text x="-0.76" y="0" font-size="7.85" fill="#1a1a1a" stroke="#1a1a1a" stroke-width="0.35" textLength="38.64" lengthAdjust="spacingAndGlyphs">IL-4c AAM</text>
</g>
<text x="127.30" y="144.80" font-size="17.80" font-weight="bold" fill="#000" textLength="12.26" lengthAdjust="spacingAndGlyphs">C</text>
<g shape-rendering="crispEdges">
<rect x="156.20" y="132.10" width="25.20" height="10.57" fill="#5a0000"/>
<rect x="181.40" y="132.10" width="16.60" height="10.57" fill="#900000"/>
<rect x="198.00" y="132.10" width="16.60" height="10.57" fill="#900008"/>
<rect x="214.60" y="132.10" width="25.40" height="10.57" fill="#88f838"/>
<rect x="240.00" y="132.10" width="8.20" height="10.57" fill="#0c1a0c"/>
<rect x="248.20" y="132.10" width="8.20" height="10.57" fill="#1a3010"/>
<rect x="256.40" y="132.10" width="8.20" height="10.57" fill="#300000"/>
<rect x="264.60" y="132.10" width="8.20" height="10.57" fill="#1a3010"/>
<rect x="156.20" y="142.67" width="25.20" height="10.57" fill="#4a8a20"/>
<rect x="181.40" y="142.67" width="8.30" height="10.57" fill="#d00000"/>
<rect x="189.70" y="142.67" width="8.30" height="10.57" fill="#c00000"/>
<rect x="198.00" y="142.67" width="8.30" height="10.57" fill="#e00000"/>
<rect x="206.30" y="142.67" width="8.30" height="10.57" fill="#d00000"/>
<rect x="214.60" y="142.67" width="25.40" height="10.57" fill="#88f838"/>
<rect x="240.00" y="142.67" width="16.40" height="10.57" fill="#200000"/>
<rect x="256.40" y="142.67" width="8.20" height="10.57" fill="#500000"/>
<rect x="264.60" y="142.67" width="8.20" height="10.57" fill="#200000"/>
<rect x="156.20" y="153.24" width="25.20" height="10.57" fill="#0a1a0a"/>
<rect x="181.40" y="153.24" width="8.30" height="10.57" fill="#200000"/>
<rect x="189.70" y="153.24" width="8.30" height="10.57" fill="#300000"/>
<rect x="198.00" y="153.24" width="8.30" height="10.57" fill="#200000"/>
<rect x="206.30" y="153.24" width="8.30" height="10.57" fill="#300000"/>
<rect x="214.60" y="153.24" width="25.40" height="10.57" fill="#88f838"/>
<rect x="240.00" y="153.24" width="8.20" height="10.57" fill="#200000"/>
<rect x="248.20" y="153.24" width="8.20" height="10.57" fill="#400000"/>
<rect x="256.40" y="153.24" width="8.20" height="10.57" fill="#300000"/>
<rect x="264.60" y="153.24" width="8.20" height="10.57" fill="#200000"/>
<rect x="156.20" y="163.81" width="25.20" height="10.57" fill="#1a3a10"/>
<rect x="181.40" y="163.81" width="33.20" height="10.57" fill="#3a0000"/>
<rect x="214.60" y="163.81" width="25.40" height="10.57" fill="#88f838"/>
<rect x="240.00" y="163.81" width="8.20" height="10.57" fill="#400000"/>
<rect x="248.20" y="163.81" width="8.20" height="10.57" fill="#200000"/>
<rect x="256.40" y="163.81" width="8.20" height="10.57" fill="#400000"/>
<rect x="264.60" y="163.81" width="8.20" height="10.57" fill="#300000"/>
<rect x="156.20" y="174.38" width="25.20" height="10.57" fill="#88f838"/>
<rect x="181.40" y="174.38" width="8.30" height="10.57" fill="#b00000"/>
<rect x="189.70" y="174.38" width="8.30" height="10.57" fill="#204020"/>
<rect x="198.00" y="174.38" width="8.30" height="10.57" fill="#900000"/>
<rect x="206.30" y="174.38" width="8.30" height="10.57" fill="#300000"/>
<rect x="214.60" y="174.38" width="25.40" height="10.57" fill="#88f838"/>
<rect x="240.00" y="174.38" width="32.80" height="10.57" fill="#da0000"/>
<rect x="156.20" y="184.95" width="16.80" height="10.57" fill="#88f838"/>
<rect x="173.00" y="184.95" width="8.40" height="10.57" fill="#60a030"/>
<rect x="181.40" y="184.95" width="8.30" height="10.57" fill="#d00000"/>
<rect x="189.70" y="184.95" width="8.30" height="10.57" fill="#c00000"/>
<rect x="198.00" y="184.95" width="16.60" height="10.57" fill="#d00000"/>
<rect x="214.60" y="184.95" width="8.50" height="10.57" fill="#60a030"/>
<rect x="223.10" y="184.95" width="8.40" height="10.57" fill="#88f838"/>
<rect x="231.50" y="184.95" width="8.50" height="10.57" fill="#70c040"/>
<rect x="240.00" y="184.95" width="8.20" height="10.57" fill="#d00000"/>
<rect x="248.20" y="184.95" width="8.20" height="10.57" fill="#c00000"/>
<rect x="256.40" y="184.95" width="8.20" height="10.57" fill="#b00000"/>
<rect x="264.60" y="184.95" width="8.20" height="10.57" fill="#c00000"/>
<rect x="156.20" y="195.52" width="25.20" height="10.57" fill="#88f838"/>
<rect x="181.40" y="195.52" width="33.20" height="10.57" fill="#200000"/>
<rect x="214.60" y="195.52" width="25.40" height="10.57" fill="#88f838"/>
<rect x="240.00" y="195.52" width="8.20" height="10.57" fill="#400000"/>
<rect x="248.20" y="195.52" width="8.20" height="10.57" fill="#100000"/>
<rect x="256.40" y="195.52" width="8.20" height="10.57" fill="#300000"/>
<rect x="264.60" y="195.52" width="8.20" height="10.57" fill="#500000"/>
<rect x="156.20" y="206.09" width="25.20" height="10.57" fill="#88f838"/>
<rect x="181.40" y="206.09" width="8.30" height="10.57" fill="#d00000"/>
<rect x="189.70" y="206.09" width="8.30" height="10.57" fill="#c00000"/>
<rect x="198.00" y="206.09" width="8.30" height="10.57" fill="#d00000"/>
<rect x="206.30" y="206.09" width="8.30" height="10.57" fill="#c00000"/>
<rect x="214.60" y="206.09" width="25.40" height="10.57" fill="#88f838"/>
<rect x="240.00" y="206.09" width="8.20" height="10.57" fill="#900000"/>
<rect x="248.20" y="206.09" width="8.20" height="10.57" fill="#a00000"/>
<rect x="256.40" y="206.09" width="8.20" height="10.57" fill="#800000"/>
<rect x="264.60" y="206.09" width="8.20" height="10.57" fill="#900000"/>
<rect x="156.20" y="216.66" width="25.20" height="10.57" fill="#101810"/>
<rect x="181.40" y="216.66" width="33.20" height="10.57" fill="#180c00"/>
<rect x="214.60" y="216.66" width="8.50" height="10.57" fill="#204010"/>
<rect x="223.10" y="216.66" width="8.40" height="10.57" fill="#88f838"/>
<rect x="231.50" y="216.66" width="8.50" height="10.57" fill="#60b030"/>
<rect x="240.00" y="216.66" width="32.80" height="10.57" fill="#da0000"/>
<rect x="156.20" y="227.24" width="25.20" height="10.57" fill="#183010"/>
<rect x="181.40" y="227.24" width="16.60" height="10.57" fill="#180800"/>
<rect x="198.00" y="227.24" width="16.60" height="10.57" fill="#400000"/>
<rect x="214.60" y="227.24" width="25.40" height="10.57" fill="#88f838"/>
<rect x="240.00" y="227.24" width="32.80" height="10.57" fill="#da0000"/>
<rect x="156.20" y="237.81" width="25.20" height="10.57" fill="#4a9020"/>
<rect x="181.40" y="237.81" width="16.60" height="10.57" fill="#408020"/>
<rect x="198.00" y="237.81" width="8.30" height="10.57" fill="#306010"/>
<rect x="206.30" y="237.81" width="8.30" height="10.57" fill="#408020"/>
<rect x="214.60" y="237.81" width="25.40" height="10.57" fill="#200000"/>
<rect x="240.00" y="237.81" width="32.80" height="10.57" fill="#da0000"/>
<rect x="156.20" y="248.38" width="8.40" height="10.57" fill="#204010"/>
<rect x="164.60" y="248.38" width="16.80" height="10.57" fill="#80e040"/>
<rect x="181.40" y="248.38" width="8.30" height="10.57" fill="#304818"/>
<rect x="189.70" y="248.38" width="24.90" height="10.57" fill="#254818"/>
<rect x="214.60" y="248.38" width="8.50" height="10.57" fill="#200000"/>
<rect x="223.10" y="248.38" width="8.40" height="10.57" fill="#600000"/>
<rect x="231.50" y="248.38" width="8.50" height="10.57" fill="#700000"/>
<rect x="240.00" y="248.38" width="32.80" height="10.57" fill="#da0000"/>
<rect x="156.20" y="258.95" width="8.40" height="10.57" fill="#2a5a18"/>
<rect x="164.60" y="258.95" width="16.80" height="10.57" fill="#60b030"/>
<rect x="181.40" y="258.95" width="8.30" height="10.57" fill="#200000"/>
<rect x="189.70" y="258.95" width="8.30" height="10.57" fill="#100800"/>
<rect x="198.00" y="258.95" width="8.30" height="10.57" fill="#000000"/>
<rect x="206.30" y="258.95" width="8.30" height="10.57" fill="#101000"/>
<rect x="214.60" y="258.95" width="8.50" height="10.57" fill="#300000"/>
<rect x="223.10" y="258.95" width="8.40" height="10.57" fill="#000000"/>
<rect x="231.50" y="258.95" width="8.50" height="10.57" fill="#100000"/>
<rect x="240.00" y="258.95" width="32.80" height="10.57" fill="#da0000"/>
<rect x="156.20" y="269.52" width="8.40" height="10.57" fill="#60a830"/>
<rect x="164.60" y="269.52" width="8.40" height="10.57" fill="#305818"/>
<rect x="173.00" y="269.52" width="8.40" height="10.57" fill="#102008"/>
<rect x="181.40" y="269.52" width="8.30" height="10.57" fill="#200000"/>
<rect x="189.70" y="269.52" width="8.30" height="10.57" fill="#300000"/>
<rect x="198.00" y="269.52" width="8.30" height="10.57" fill="#408020"/>
<rect x="206.30" y="269.52" width="8.30" height="10.57" fill="#300000"/>
<rect x="214.60" y="269.52" width="8.50" height="10.57" fill="#50a028"/>
<rect x="223.10" y="269.52" width="8.40" height="10.57" fill="#80f040"/>
<rect x="231.50" y="269.52" width="8.50" height="10.57" fill="#60b030"/>
<rect x="240.00" y="269.52" width="32.80" height="10.57" fill="#da0000"/>
<rect x="156.20" y="280.09" width="8.40" height="10.57" fill="#080808"/>
<rect x="164.60" y="280.09" width="8.40" height="10.57" fill="#1a3a10"/>
<rect x="173.00" y="280.09" width="8.40" height="10.57" fill="#000000"/>
<rect x="181.40" y="280.09" width="8.30" height="10.57" fill="#408020"/>
<rect x="189.70" y="280.09" width="8.30" height="10.57" fill="#100800"/>
<rect x="198.00" y="280.09" width="8.30" height="10.57" fill="#300000"/>
<rect x="206.30" y="280.09" width="8.30" height="10.57" fill="#101000"/>
<rect x="214.60" y="280.09" width="8.50" height="10.57" fill="#50a028"/>
<rect x="223.10" y="280.09" width="8.40" height="10.57" fill="#000000"/>
<rect x="231.50" y="280.09" width="8.50" height="10.57" fill="#2a5a18"/>
<rect x="240.00" y="280.09" width="32.80" height="10.57" fill="#da0000"/>
<rect x="156.20" y="290.66" width="8.40" height="10.57" fill="#0a1408"/>
<rect x="164.60" y="290.66" width="8.40" height="10.57" fill="#2a5018"/>
<rect x="173.00" y="290.66" width="8.40" height="10.57" fill="#000000"/>
<rect x="181.40" y="290.66" width="8.30" height="10.57" fill="#4a9020"/>
<rect x="189.70" y="290.66" width="24.90" height="10.57" fill="#70c038"/>
<rect x="214.60" y="290.66" width="8.50" height="10.57" fill="#300000"/>
<rect x="223.10" y="290.66" width="8.40" height="10.57" fill="#000000"/>
<rect x="231.50" y="290.66" width="8.50" height="10.57" fill="#2a5018"/>
<rect x="240.00" y="290.66" width="32.80" height="10.57" fill="#da0000"/>
<rect x="156.20" y="301.23" width="25.20" height="10.57" fill="#88f838"/>
<rect x="181.40" y="301.23" width="8.30" height="10.57" fill="#100000"/>
<rect x="189.70" y="301.23" width="8.30" height="10.57" fill="#305818"/>
<rect x="198.00" y="301.23" width="8.30" height="10.57" fill="#a00000"/>
<rect x="206.30" y="301.23" width="8.30" height="10.57" fill="#600000"/>
<rect x="214.60" y="301.23" width="8.50" height="10.57" fill="#204010"/>
<rect x="223.10" y="301.23" width="8.40" height="10.57" fill="#000000"/>
<rect x="231.50" y="301.23" width="8.50" height="10.57" fill="#204818"/>
<rect x="240.00" y="301.23" width="8.20" height="10.57" fill="#c00000"/>
<rect x="248.20" y="301.23" width="24.60" height="10.57" fill="#da0000"/>
</g>
<text x="275.2" y="139.60" font-size="8.0" fill="#111" stroke="#111" stroke-width="0.25">Ptgs1</text>
<text x="275.2" y="150.27" font-size="8.0" fill="#111" stroke="#111" stroke-width="0.25">Klf4</text>
<text x="275.2" y="160.94" font-size="8.0" fill="#111" stroke="#111" stroke-width="0.25">Irf4</text>
<text x="275.2" y="171.61" font-size="8.0" fill="#111" stroke="#111" stroke-width="0.25">Retnla</text>
<text x="275.2" y="182.28" font-size="8.0" fill="#111" stroke="#111" stroke-width="0.25">Cish</text>
<text x="275.2" y="192.95" font-size="8.0" fill="#111" stroke="#111" stroke-width="0.25">Arg1</text>
<text x="275.2" y="203.62" font-size="8.0" fill="#111" stroke="#111" stroke-width="0.25">Chi3l3</text>
<text x="275.2" y="214.29" font-size="8.0" fill="#111" stroke="#111" stroke-width="0.25">Chi3l4</text>
<text x="275.2" y="224.96" font-size="8.0" fill="#111" stroke="#111" stroke-width="0.25">Socs2</text>
<text x="275.2" y="235.63" font-size="8.0" fill="#111" stroke="#111" stroke-width="0.25">Aldh1a2</text>
<text x="275.2" y="246.30" font-size="8.0" fill="#111" stroke="#111" stroke-width="0.25">Pdcd1lg2</text>
<text x="275.2" y="256.97" font-size="8.0" fill="#111" stroke="#111" stroke-width="0.25">Il31ra</text>
<text x="275.2" y="267.64" font-size="8.0" fill="#111" stroke="#111" stroke-width="0.25">Ccl17</text>
<text x="275.2" y="278.31" font-size="8.0" fill="#111" stroke="#111" stroke-width="0.25">Ch25h</text>
<text x="275.2" y="288.98" font-size="8.0" fill="#111" stroke="#111" stroke-width="0.25">Jag2</text>
<text x="275.2" y="299.65" font-size="8.0" fill="#111" stroke="#111" stroke-width="0.25">Ccl22</text>
<text x="275.2" y="310.32" font-size="8.0" fill="#111" stroke="#111" stroke-width="0.25">Tgm2</text>
<text x="162.21" y="320.70" font-size="7.99" fill="#1a1a1a" textLength="12.85" lengthAdjust="spacingAndGlyphs" stroke="#1a1a1a" stroke-width="0.3">Res</text>
<text x="188.07" y="320.70" font-size="7.99" fill="#1a1a1a" textLength="17.54" lengthAdjust="spacingAndGlyphs" stroke="#1a1a1a" stroke-width="0.3">IL-4c</text>
<text x="219.33" y="320.70" font-size="7.99" fill="#1a1a1a" textLength="14.89" lengthAdjust="spacingAndGlyphs" stroke="#1a1a1a" stroke-width="0.3">Thio</text>
<text x="246.43" y="320.70" font-size="7.99" fill="#1a1a1a" textLength="21.65" lengthAdjust="spacingAndGlyphs" stroke="#1a1a1a" stroke-width="0.3">Thio +</text>
<text x="248.18" y="330.80" font-size="7.99" fill="#1a1a1a" textLength="17.32" lengthAdjust="spacingAndGlyphs" stroke="#1a1a1a" stroke-width="0.3">IL-4c</text>
<text x="302.15" y="14.00" font-size="18.60" font-weight="bold" fill="#000" textLength="12.36" lengthAdjust="spacingAndGlyphs">D</text>
<text x="317.61" y="13.80" font-size="7.85" fill="#1a1a1a" textLength="61.75" lengthAdjust="spacingAndGlyphs" stroke="#1a1a1a" stroke-width="0.15">IL-4C vs. Resident</text>
<text x="453.83" y="13.80" font-size="8.28" fill="#1a1a1a" textLength="65.28" lengthAdjust="spacingAndGlyphs" stroke="#1a1a1a" stroke-width="0.15">Thio+IL-4C vs. Thio</text>
<defs><clipPath id="lc"><circle cx="373.5" cy="71.7" r="55.3"/></clipPath></defs>
<circle cx="373.5" cy="71.7" r="55.3" fill="#6483f4"/>
<circle cx="446.5" cy="71.7" r="55.3" fill="#a0c88c"/>
<circle cx="446.5" cy="71.7" r="55.3" fill="#508c96" clip-path="url(#lc)"/>
<circle cx="373.5" cy="71.7" r="55.3" fill="none" stroke="#0a0e1a" stroke-width="1.5"/>
<circle cx="446.5" cy="71.7" r="55.3" fill="none" stroke="#0a140a" stroke-width="1.5"/>
<text x="355.01" y="57.00" font-size="11.17" fill="#0e1848" textLength="19.27" lengthAdjust="spacingAndGlyphs" stroke="#0e1848" stroke-width="0.3">605</text>
<text x="354.68" y="96.40" font-size="11.75" fill="#0e1848" textLength="20.11" lengthAdjust="spacingAndGlyphs" stroke="#0e1848" stroke-width="0.3">181</text>
<text x="445.02" y="57.00" font-size="11.17" fill="#12240a" textLength="19.27" lengthAdjust="spacingAndGlyphs" stroke="#12240a" stroke-width="0.3">215</text>
<text x="441.07" y="96.40" font-size="11.75" fill="#12240a" textLength="27.27" lengthAdjust="spacingAndGlyphs" stroke="#12240a" stroke-width="0.3">1163</text>
<text x="400.16" y="62.20" font-size="10.32" fill="#0c2428" textLength="18.43" lengthAdjust="spacingAndGlyphs" stroke="#0c2428" stroke-width="0.3">153</text>
<text x="402.80" y="89.40" font-size="10.32" fill="#0c2428" textLength="12.91" lengthAdjust="spacingAndGlyphs" stroke="#0c2428" stroke-width="0.3">86</text>
<text x="361.22" y="76.73" font-size="11.66" fill="#0e1848" textLength="6.97" lengthAdjust="spacingAndGlyphs" stroke="#0e1848" stroke-width="0.5">+</text>
<text x="406.92" y="76.50" font-size="10.22" fill="#0c2428" textLength="5.77" lengthAdjust="spacingAndGlyphs" stroke="#0c2428" stroke-width="0.5">+</text>
<text x="451.22" y="76.73" font-size="11.66" fill="#12240a" textLength="6.97" lengthAdjust="spacingAndGlyphs" stroke="#12240a" stroke-width="0.5">+</text>
<path d="M506.55 57.70V49.50M503.30 53.00L506.55 49.30L509.80 53.00" stroke="#000" stroke-width="2.3" fill="none" stroke-linecap="butt" stroke-linejoin="miter"/>
<path d="M506.55 89.00V97.20M503.30 93.70L506.55 97.40L509.80 93.70" stroke="#000" stroke-width="2.3" fill="none" stroke-linecap="butt" stroke-linejoin="miter"/>
</g>
</svg>
</body></html>
